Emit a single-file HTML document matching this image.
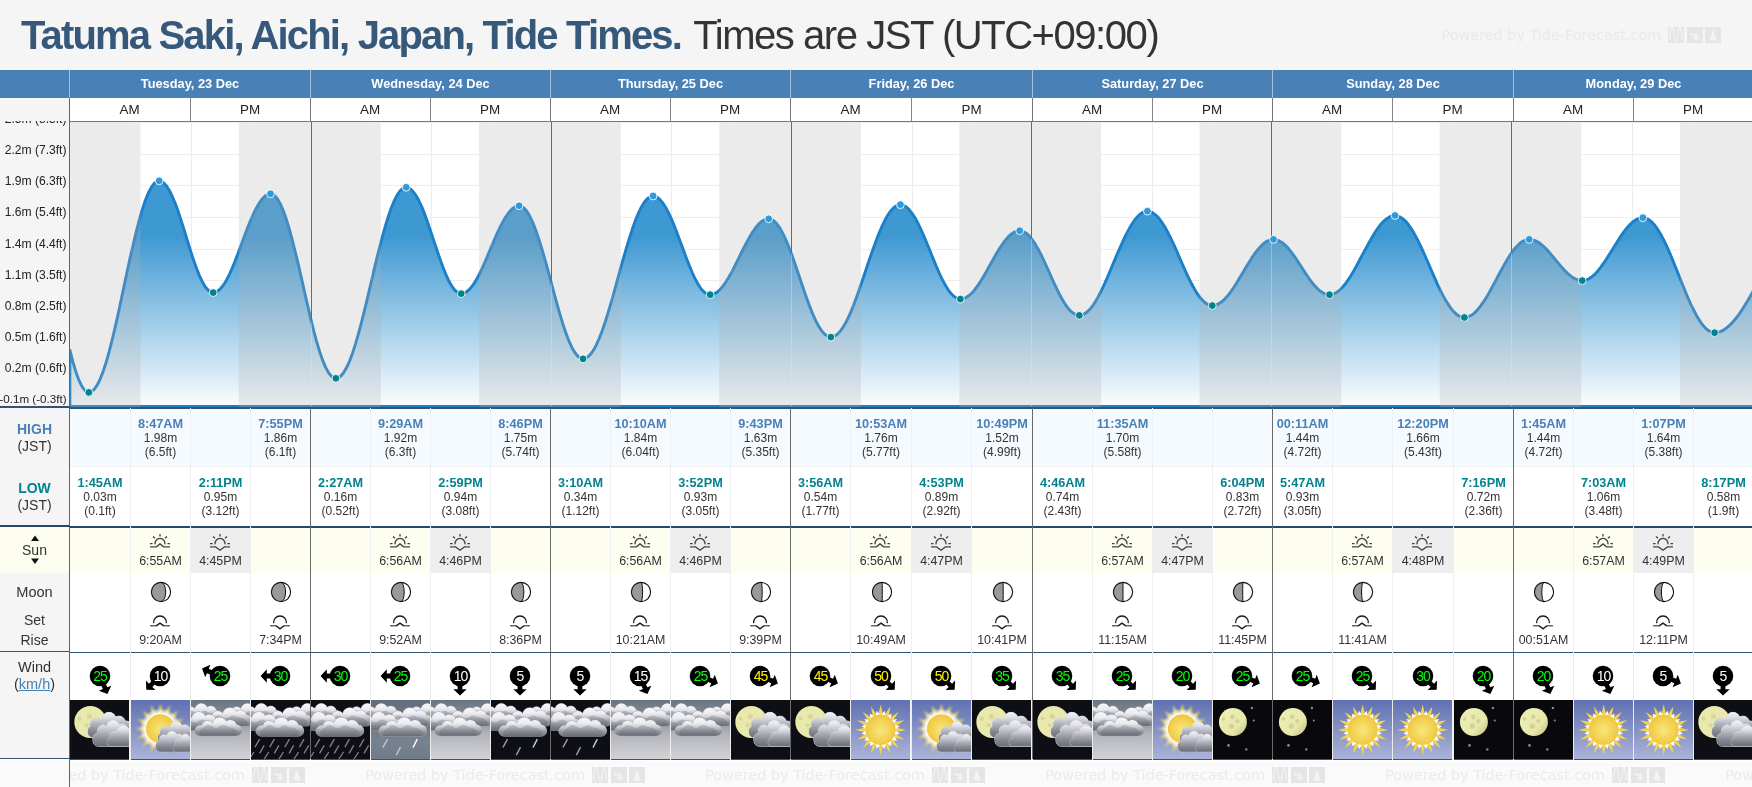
<!DOCTYPE html>
<html lang="en"><head><meta charset="utf-8"><title>Tatuma Saki, Aichi, Japan, Tide Times</title>
<style>
html,body{margin:0;padding:0}
body{width:1752px;height:787px;overflow:hidden;background:#f5f5f5;font-family:"Liberation Sans",sans-serif;color:#333;position:relative}
.abs{position:absolute}
#root{position:absolute;left:0;top:0;width:1752px;height:787px;overflow:hidden;will-change:transform}
h1{position:absolute;left:21px;top:12px;margin:0;font-size:40px;line-height:46px;font-weight:bold;color:#36597b;white-space:nowrap;letter-spacing:-1.84px}
h1 span{font-weight:normal;color:#333;letter-spacing:-1.45px;margin-left:3px}
.wm{position:absolute;font-family:"DejaVu Sans",sans-serif;font-size:14.4px;line-height:18px;color:#e9e9e9;white-space:nowrap}
.hdr{position:absolute;left:0;top:70px;width:1752px;height:28px;background:#4981b6}
.day{position:absolute;top:0;height:28px;line-height:27px;text-align:center;color:#fff;font-weight:bold;font-size:12.8px}
.vl{position:absolute;width:1px}
.ampm{position:absolute;top:98px;height:23px;line-height:24px;text-indent:-1px;text-align:center;background:#fff;font-size:13.4px;color:#222}
.yl{position:absolute;right:2.5px;text-align:right;font-size:12.1px;line-height:14px;color:#222;white-space:nowrap}
.cell{position:absolute;text-align:center;font-size:12px;line-height:14px;color:#333;white-space:nowrap}
.cell b{display:block;font-size:12.7px}
.hi b{color:#4a80b8}
.lo b{color:#00838f}
.lab{position:absolute;left:0;width:69px;text-align:center;font-size:14px;line-height:17px;color:#333}
.lab b{display:block;font-size:14px}
.st{position:absolute;text-align:center;font-size:12.4px;line-height:14px;color:#333;white-space:nowrap}
.wt{position:absolute;width:24px;text-align:center;font-size:14px;line-height:14px;letter-spacing:-1.1px;font-family:"Liberation Sans",sans-serif}
a{color:#4682b4}
</style></head><body><div id="root">
<h1>Tatuma Saki, Aichi, Japan, Tide Times. <span>Times are JST (UTC+09:00)</span></h1>
<div class="wm" style="left:1441.5px;top:26px">Powered by Tide-Forecast.com<svg width="16" height="16" viewBox="0 0 16 16" style="vertical-align:-3px;margin-left:7px"><rect width="16" height="16" fill="#e5e5e5"/><path d="M1.5 13 C3 -4 5 -4 6.5 8 C7.5 17 9 17 10 8 C11 -3 13 -3 14.5 13" fill="none" stroke="#f3f3f3" stroke-width="1.3"/></svg><svg width="16" height="16" viewBox="0 0 16 16" style="vertical-align:-3px;margin-left:2.6px"><rect width="16" height="16" fill="#e5e5e5"/><path d="M3 6.5 H10.5 V10 H13 L9.2 13.6 L5.4 10 H8 V8.6 H3 Z" fill="#f3f3f3"/></svg><svg width="16" height="16" viewBox="0 0 16 16" style="vertical-align:-3px;margin-left:2.6px"><rect width="16" height="16" fill="#e5e5e5"/><path d="M8 2.5 L11.8 13.5 H4.2 Z" fill="#f3f3f3"/></svg></div>
<div class="hdr"><div class="day" style="left:70px;width:240px">Tuesday, 23 Dec</div><div class="day" style="left:311px;width:239px">Wednesday, 24 Dec</div><div class="day" style="left:551px;width:239px">Thursday, 25 Dec</div><div class="day" style="left:791px;width:241px">Friday, 26 Dec</div><div class="day" style="left:1033px;width:239px">Saturday, 27 Dec</div><div class="day" style="left:1273px;width:240px">Sunday, 28 Dec</div><div class="day" style="left:1514px;width:239px">Monday, 29 Dec</div><div class="vl" style="left:69px;top:0;height:28px;background:#a3c0dc"></div><div class="vl" style="left:310px;top:0;height:28px;background:#a3c0dc"></div><div class="vl" style="left:550px;top:0;height:28px;background:#a3c0dc"></div><div class="vl" style="left:790px;top:0;height:28px;background:#a3c0dc"></div><div class="vl" style="left:1032px;top:0;height:28px;background:#a3c0dc"></div><div class="vl" style="left:1272px;top:0;height:28px;background:#a3c0dc"></div><div class="vl" style="left:1513px;top:0;height:28px;background:#a3c0dc"></div></div>
<div class="ampm" style="left:70px;width:120px">AM</div><div class="ampm" style="left:191px;width:119px">PM</div><div class="ampm" style="left:311px;width:119px">AM</div><div class="ampm" style="left:431px;width:119px">PM</div><div class="ampm" style="left:551px;width:119px">AM</div><div class="ampm" style="left:671px;width:119px">PM</div><div class="ampm" style="left:791px;width:120px">AM</div><div class="ampm" style="left:912px;width:120px">PM</div><div class="ampm" style="left:1033px;width:119px">AM</div><div class="ampm" style="left:1153px;width:119px">PM</div><div class="ampm" style="left:1273px;width:119px">AM</div><div class="ampm" style="left:1393px;width:120px">PM</div><div class="ampm" style="left:1514px;width:119px">AM</div><div class="ampm" style="left:1634px;width:119px">PM</div><div class="vl" style="left:69px;top:98px;height:23px;background:#6d7780"></div><div class="vl" style="left:190px;top:98px;height:23px;background:#7d8790"></div><div class="vl" style="left:310px;top:98px;height:23px;background:#6d7780"></div><div class="vl" style="left:430px;top:98px;height:23px;background:#7d8790"></div><div class="vl" style="left:550px;top:98px;height:23px;background:#6d7780"></div><div class="vl" style="left:670px;top:98px;height:23px;background:#7d8790"></div><div class="vl" style="left:790px;top:98px;height:23px;background:#6d7780"></div><div class="vl" style="left:911px;top:98px;height:23px;background:#7d8790"></div><div class="vl" style="left:1032px;top:98px;height:23px;background:#6d7780"></div><div class="vl" style="left:1152px;top:98px;height:23px;background:#7d8790"></div><div class="vl" style="left:1272px;top:98px;height:23px;background:#6d7780"></div><div class="vl" style="left:1392px;top:98px;height:23px;background:#7d8790"></div><div class="vl" style="left:1513px;top:98px;height:23px;background:#6d7780"></div><div class="vl" style="left:1633px;top:98px;height:23px;background:#7d8790"></div><div class="abs" style="left:70px;top:121px;width:1682px;height:1px;background:#777"></div>
<div class="abs" style="left:0;top:121px;width:69px;height:285px;overflow:hidden"><div class="yl" style="top:-9.1px">2.5m (8.3ft)</div><div class="yl" style="top:22.1px">2.2m (7.3ft)</div><div class="yl" style="top:53.2px">1.9m (6.3ft)</div><div class="yl" style="top:84.3px">1.6m (5.4ft)</div><div class="yl" style="top:115.5px">1.4m (4.4ft)</div><div class="yl" style="top:146.6px">1.1m (3.5ft)</div><div class="yl" style="top:177.8px">0.8m (2.5ft)</div><div class="yl" style="top:208.9px">0.5m (1.6ft)</div><div class="yl" style="top:240.1px">0.2m (0.6ft)</div><div class="yl" style="top:271.2px;font-size:11.6px">-0.1m (-0.3ft)</div></div>
<svg class="abs" style="left:0;top:0" width="1752" height="787" viewBox="0 0 1752 787"><defs><linearGradient id="tg" gradientUnits="userSpaceOnUse" x1="0" y1="122" x2="0" y2="406"><stop offset="0" stop-color="#3e98d2"/><stop offset="0.40" stop-color="#3e98d2"/><stop offset="1" stop-color="#fbfdfe"/></linearGradient><clipPath id="cc"><rect x="70" y="122" width="1682" height="285"/></clipPath></defs><rect x="70" y="122" width="1682" height="285" fill="#fff"/><g clip-path="url(#cc)"><clipPath id="dz"><rect x="140.5" y="122" width="98.4" height="285"/><rect x="380.7" y="122" width="98.4" height="285"/><rect x="620.8" y="122" width="98.4" height="285"/><rect x="860.9" y="122" width="98.5" height="285"/><rect x="1101.1" y="122" width="98.4" height="285"/><rect x="1341.2" y="122" width="98.5" height="285"/><rect x="1581.2" y="122" width="98.7" height="285"/></clipPath><g clip-path="url(#dz)"><rect x="70" y="122" width="1682" height="1" fill="#eeeeee"/><rect x="70" y="154" width="1682" height="1" fill="#eeeeee"/><rect x="70" y="185" width="1682" height="1" fill="#eeeeee"/><rect x="70" y="217" width="1682" height="1" fill="#eeeeee"/><rect x="70" y="249" width="1682" height="1" fill="#eeeeee"/><rect x="70" y="280" width="1682" height="1" fill="#eeeeee"/><rect x="70" y="312" width="1682" height="1" fill="#eeeeee"/><rect x="70" y="344" width="1682" height="1" fill="#eeeeee"/><rect x="70" y="375" width="1682" height="1" fill="#eeeeee"/><rect x="70" y="407" width="1682" height="1" fill="#eeeeee"/></g><rect x="191" y="122" width="1" height="285" fill="#ececec"/><rect x="431" y="122" width="1" height="285" fill="#ececec"/><rect x="671" y="122" width="1" height="285" fill="#ececec"/><rect x="912" y="122" width="1" height="285" fill="#ececec"/><rect x="1152" y="122" width="1" height="285" fill="#ececec"/><rect x="1392" y="122" width="1" height="285" fill="#ececec"/><rect x="1632" y="122" width="1" height="285" fill="#ececec"/><path d="M69.9 406.45 L69.9 350.1 L72.9 361.8 L75.9 371.9 L78.9 380.2 L81.9 386.4 L84.9 390.5 L87.9 392.3 L91.0 391.9 L94.0 389.6 L97.0 385.4 L100.0 379.5 L103.0 371.9 L106.0 362.8 L109.0 352.2 L112.0 340.5 L115.0 327.9 L118.0 314.5 L121.0 300.5 L124.0 286.4 L127.0 272.2 L130.0 258.3 L133.1 244.9 L136.1 232.3 L139.1 220.6 L142.1 210.1 L145.1 201.0 L148.1 193.5 L151.1 187.6 L154.1 183.5 L157.1 181.3 L160.1 180.9 L163.1 182.3 L166.1 185.4 L169.1 190.0 L172.1 196.0 L175.2 203.3 L178.2 211.6 L181.2 220.7 L184.2 230.2 L187.2 240.0 L190.2 249.7 L193.2 258.9 L196.2 267.5 L199.2 275.1 L202.2 281.6 L205.2 286.7 L208.2 290.3 L211.2 292.2 L214.3 292.5 L217.3 291.3 L220.3 288.9 L223.3 285.2 L226.3 280.4 L229.3 274.6 L232.3 267.9 L235.3 260.5 L238.3 252.7 L241.3 244.6 L244.3 236.5 L247.3 228.6 L250.3 221.1 L253.3 214.1 L256.4 208.0 L259.4 202.8 L262.4 198.7 L265.4 195.8 L268.4 194.2 L271.4 193.9 L274.4 195.4 L277.4 198.8 L280.4 204.1 L283.4 211.0 L286.4 219.5 L289.4 229.4 L292.4 240.5 L295.4 252.5 L298.5 265.2 L301.5 278.4 L304.5 291.7 L307.5 304.9 L310.5 317.7 L313.5 329.9 L316.5 341.1 L319.5 351.2 L322.5 359.9 L325.5 367.1 L328.5 372.6 L331.5 376.3 L334.5 378.1 L337.6 378.0 L340.6 376.2 L343.6 372.7 L346.6 367.6 L349.6 361.0 L352.6 352.9 L355.6 343.6 L358.6 333.2 L361.6 321.9 L364.6 309.9 L367.6 297.4 L370.6 284.6 L373.6 271.8 L376.6 259.2 L379.7 247.0 L382.7 235.5 L385.7 224.8 L388.7 215.2 L391.7 206.8 L394.7 199.7 L397.7 194.2 L400.7 190.2 L403.7 187.9 L406.7 187.4 L409.7 188.4 L412.7 191.0 L415.7 195.0 L418.7 200.3 L421.8 206.9 L424.8 214.4 L427.8 222.7 L430.8 231.6 L433.8 240.6 L436.8 249.7 L439.8 258.5 L442.8 266.8 L445.8 274.3 L448.8 280.8 L451.8 286.2 L454.8 290.1 L457.8 292.7 L460.9 293.6 L463.9 293.2 L466.9 291.6 L469.9 288.9 L472.9 285.2 L475.9 280.5 L478.9 275.0 L481.9 268.8 L484.9 262.1 L487.9 255.1 L490.9 247.9 L493.9 240.8 L496.9 233.9 L499.9 227.5 L503.0 221.6 L506.0 216.5 L509.0 212.3 L512.0 209.0 L515.0 206.9 L518.0 205.9 L521.0 206.1 L524.0 208.0 L527.0 211.5 L530.0 216.5 L533.0 223.0 L536.0 230.7 L539.0 239.6 L542.0 249.4 L545.1 259.9 L548.1 270.9 L551.1 282.1 L554.1 293.4 L557.1 304.4 L560.1 314.9 L563.1 324.7 L566.1 333.6 L569.1 341.4 L572.1 347.9 L575.1 353.0 L578.1 356.5 L581.1 358.4 L584.2 358.7 L587.2 357.4 L590.2 354.7 L593.2 350.6 L596.2 345.2 L599.2 338.5 L602.2 330.7 L605.2 322.0 L608.2 312.4 L611.2 302.2 L614.2 291.6 L617.2 280.6 L620.2 269.7 L623.2 258.9 L626.3 248.4 L629.3 238.4 L632.3 229.1 L635.3 220.8 L638.3 213.4 L641.3 207.2 L644.3 202.3 L647.3 198.8 L650.3 196.7 L653.3 196.0 L656.3 196.8 L659.3 198.9 L662.3 202.2 L665.3 206.8 L668.4 212.4 L671.4 218.9 L674.4 226.1 L677.4 233.9 L680.4 242.0 L683.4 250.1 L686.4 258.2 L689.4 265.9 L692.4 273.0 L695.4 279.4 L698.4 284.8 L701.4 289.2 L704.4 292.3 L707.5 294.2 L710.5 294.7 L713.5 294.1 L716.5 292.6 L719.5 290.1 L722.5 286.7 L725.5 282.6 L728.5 277.8 L731.5 272.4 L734.5 266.6 L737.5 260.6 L740.5 254.5 L743.5 248.4 L746.5 242.6 L749.6 237.1 L752.6 232.1 L755.6 227.8 L758.6 224.2 L761.6 221.5 L764.6 219.7 L767.6 218.9 L770.6 219.1 L773.6 220.6 L776.6 223.5 L779.6 227.6 L782.6 232.9 L785.6 239.2 L788.6 246.4 L791.7 254.4 L794.7 262.9 L797.7 271.7 L800.7 280.7 L803.7 289.6 L806.7 298.2 L809.7 306.4 L812.7 313.9 L815.7 320.6 L818.7 326.3 L821.7 330.9 L824.7 334.3 L827.7 336.3 L830.8 337.1 L833.8 336.5 L836.8 334.7 L839.8 331.8 L842.8 327.7 L845.8 322.6 L848.8 316.5 L851.8 309.6 L854.8 301.9 L857.8 293.7 L860.8 285.1 L863.8 276.2 L866.8 267.2 L869.8 258.3 L872.9 249.6 L875.9 241.3 L878.9 233.6 L881.9 226.5 L884.9 220.3 L887.9 214.9 L890.9 210.7 L893.9 207.5 L896.9 205.5 L899.9 204.7 L902.9 205.1 L905.9 206.7 L908.9 209.4 L911.9 213.1 L915.0 217.8 L918.0 223.3 L921.0 229.6 L924.0 236.4 L927.0 243.5 L930.0 250.9 L933.0 258.3 L936.0 265.6 L939.0 272.5 L942.0 278.9 L945.0 284.6 L948.0 289.6 L951.0 293.5 L954.1 296.5 L957.1 298.4 L960.1 299.1 L963.1 298.7 L966.1 297.5 L969.1 295.5 L972.1 292.7 L975.1 289.2 L978.1 285.1 L981.1 280.5 L984.1 275.5 L987.1 270.2 L990.1 264.8 L993.1 259.4 L996.2 254.1 L999.2 249.1 L1002.2 244.5 L1005.2 240.4 L1008.2 236.9 L1011.2 234.2 L1014.2 232.2 L1017.2 231.0 L1020.2 230.7 L1023.2 231.4 L1026.2 233.2 L1029.2 235.9 L1032.2 239.6 L1035.3 244.1 L1038.3 249.4 L1041.3 255.2 L1044.3 261.5 L1047.3 268.1 L1050.3 274.8 L1053.3 281.5 L1056.3 287.9 L1059.3 294.0 L1062.3 299.5 L1065.3 304.4 L1068.3 308.5 L1071.3 311.7 L1074.3 313.9 L1077.4 315.1 L1080.4 315.3 L1083.4 314.4 L1086.4 312.6 L1089.4 309.8 L1092.4 306.1 L1095.4 301.6 L1098.4 296.4 L1101.4 290.5 L1104.4 284.1 L1107.4 277.3 L1110.4 270.3 L1113.4 263.1 L1116.4 255.9 L1119.5 248.8 L1122.5 242.1 L1125.5 235.7 L1128.5 229.9 L1131.5 224.7 L1134.5 220.2 L1137.5 216.6 L1140.5 213.8 L1143.5 212.1 L1146.5 211.2 L1149.5 211.4 L1152.5 212.6 L1155.5 214.8 L1158.6 217.9 L1161.6 221.8 L1164.6 226.5 L1167.6 231.9 L1170.6 237.9 L1173.6 244.2 L1176.6 250.9 L1179.6 257.8 L1182.6 264.6 L1185.6 271.4 L1188.6 277.8 L1191.6 283.8 L1194.6 289.3 L1197.6 294.2 L1200.7 298.3 L1203.7 301.5 L1206.7 303.8 L1209.7 305.2 L1212.7 305.6 L1215.7 305.1 L1218.7 303.8 L1221.7 301.8 L1224.7 299.1 L1227.7 295.8 L1230.7 291.9 L1233.7 287.5 L1236.7 282.8 L1239.7 277.8 L1242.8 272.7 L1245.8 267.6 L1248.8 262.7 L1251.8 257.9 L1254.8 253.5 L1257.8 249.6 L1260.8 246.2 L1263.8 243.4 L1266.8 241.3 L1269.8 240.0 L1272.8 239.4 L1275.8 239.7 L1278.8 240.7 L1281.9 242.4 L1284.9 244.9 L1287.9 247.9 L1290.9 251.6 L1293.9 255.6 L1296.9 260.0 L1299.9 264.6 L1302.9 269.3 L1305.9 273.9 L1308.9 278.3 L1311.9 282.4 L1314.9 286.0 L1317.9 289.1 L1320.9 291.6 L1324.0 293.4 L1327.0 294.5 L1330.0 294.7 L1333.0 294.2 L1336.0 292.8 L1339.0 290.7 L1342.0 287.8 L1345.0 284.3 L1348.0 280.1 L1351.0 275.5 L1354.0 270.4 L1357.0 265.0 L1360.0 259.3 L1363.0 253.6 L1366.1 248.0 L1369.1 242.5 L1372.1 237.2 L1375.1 232.3 L1378.1 227.9 L1381.1 224.0 L1384.1 220.8 L1387.1 218.4 L1390.1 216.6 L1393.1 215.7 L1396.1 215.6 L1399.1 216.4 L1402.1 218.2 L1405.2 220.8 L1408.2 224.3 L1411.2 228.6 L1414.2 233.6 L1417.2 239.1 L1420.2 245.2 L1423.2 251.7 L1426.2 258.5 L1429.2 265.4 L1432.2 272.3 L1435.2 279.2 L1438.2 285.8 L1441.2 292.0 L1444.2 297.8 L1447.3 302.9 L1450.3 307.5 L1453.3 311.2 L1456.3 314.1 L1459.3 316.2 L1462.3 317.3 L1465.3 317.5 L1468.3 316.8 L1471.3 315.3 L1474.3 313.1 L1477.3 310.1 L1480.3 306.4 L1483.3 302.2 L1486.3 297.4 L1489.4 292.3 L1492.4 286.8 L1495.4 281.2 L1498.4 275.5 L1501.4 269.9 L1504.4 264.4 L1507.4 259.3 L1510.4 254.5 L1513.4 250.3 L1516.4 246.7 L1519.4 243.7 L1522.4 241.5 L1525.4 240.1 L1528.5 239.4 L1531.5 239.6 L1534.5 240.4 L1537.5 241.8 L1540.5 243.8 L1543.5 246.3 L1546.5 249.3 L1549.5 252.6 L1552.5 256.1 L1555.5 259.8 L1558.5 263.4 L1561.5 267.0 L1564.5 270.3 L1567.5 273.3 L1570.6 275.9 L1573.6 278.0 L1576.6 279.5 L1579.6 280.4 L1582.6 280.6 L1585.6 280.2 L1588.6 279.0 L1591.6 277.0 L1594.6 274.4 L1597.6 271.2 L1600.6 267.4 L1603.6 263.2 L1606.6 258.7 L1609.6 253.9 L1612.7 249.1 L1615.7 244.2 L1618.7 239.4 L1621.7 234.9 L1624.7 230.7 L1627.7 227.0 L1630.7 223.8 L1633.7 221.2 L1636.7 219.3 L1639.7 218.1 L1642.7 217.7 L1645.7 218.1 L1648.7 219.6 L1651.8 222.0 L1654.8 225.3 L1657.8 229.4 L1660.8 234.4 L1663.8 240.1 L1666.8 246.4 L1669.8 253.2 L1672.8 260.4 L1675.8 267.8 L1678.8 275.3 L1681.8 282.9 L1684.8 290.3 L1687.8 297.5 L1690.8 304.2 L1693.9 310.5 L1696.9 316.2 L1699.9 321.1 L1702.9 325.3 L1705.9 328.6 L1708.9 330.9 L1711.9 332.3 L1714.9 332.7 L1717.9 332.4 L1720.9 331.4 L1723.9 329.9 L1726.9 327.7 L1729.9 325.1 L1732.9 321.9 L1736.0 318.3 L1739.0 314.3 L1742.0 309.9 L1745.0 305.1 L1748.0 300.2 L1751.0 295.0 L1754.0 289.7 L1754 406.45 Z" fill="url(#tg)" stroke="#1c80c8" stroke-width="2.9" stroke-linejoin="round"/><rect x="70.0" y="122" width="70.5" height="285" fill="#afafaf" fill-opacity="0.25"/><rect x="238.8" y="122" width="141.9" height="285" fill="#afafaf" fill-opacity="0.25"/><rect x="479.1" y="122" width="141.7" height="285" fill="#afafaf" fill-opacity="0.25"/><rect x="719.2" y="122" width="141.7" height="285" fill="#afafaf" fill-opacity="0.25"/><rect x="959.4" y="122" width="141.7" height="285" fill="#afafaf" fill-opacity="0.25"/><rect x="1199.5" y="122" width="141.7" height="285" fill="#afafaf" fill-opacity="0.25"/><rect x="1439.7" y="122" width="141.5" height="285" fill="#afafaf" fill-opacity="0.25"/><rect x="1679.9" y="122" width="72.1" height="285" fill="#afafaf" fill-opacity="0.25"/><clipPath id="fp"><path d="M69.9 406.45 L69.9 350.1 L72.9 361.8 L75.9 371.9 L78.9 380.2 L81.9 386.4 L84.9 390.5 L87.9 392.3 L91.0 391.9 L94.0 389.6 L97.0 385.4 L100.0 379.5 L103.0 371.9 L106.0 362.8 L109.0 352.2 L112.0 340.5 L115.0 327.9 L118.0 314.5 L121.0 300.5 L124.0 286.4 L127.0 272.2 L130.0 258.3 L133.1 244.9 L136.1 232.3 L139.1 220.6 L142.1 210.1 L145.1 201.0 L148.1 193.5 L151.1 187.6 L154.1 183.5 L157.1 181.3 L160.1 180.9 L163.1 182.3 L166.1 185.4 L169.1 190.0 L172.1 196.0 L175.2 203.3 L178.2 211.6 L181.2 220.7 L184.2 230.2 L187.2 240.0 L190.2 249.7 L193.2 258.9 L196.2 267.5 L199.2 275.1 L202.2 281.6 L205.2 286.7 L208.2 290.3 L211.2 292.2 L214.3 292.5 L217.3 291.3 L220.3 288.9 L223.3 285.2 L226.3 280.4 L229.3 274.6 L232.3 267.9 L235.3 260.5 L238.3 252.7 L241.3 244.6 L244.3 236.5 L247.3 228.6 L250.3 221.1 L253.3 214.1 L256.4 208.0 L259.4 202.8 L262.4 198.7 L265.4 195.8 L268.4 194.2 L271.4 193.9 L274.4 195.4 L277.4 198.8 L280.4 204.1 L283.4 211.0 L286.4 219.5 L289.4 229.4 L292.4 240.5 L295.4 252.5 L298.5 265.2 L301.5 278.4 L304.5 291.7 L307.5 304.9 L310.5 317.7 L313.5 329.9 L316.5 341.1 L319.5 351.2 L322.5 359.9 L325.5 367.1 L328.5 372.6 L331.5 376.3 L334.5 378.1 L337.6 378.0 L340.6 376.2 L343.6 372.7 L346.6 367.6 L349.6 361.0 L352.6 352.9 L355.6 343.6 L358.6 333.2 L361.6 321.9 L364.6 309.9 L367.6 297.4 L370.6 284.6 L373.6 271.8 L376.6 259.2 L379.7 247.0 L382.7 235.5 L385.7 224.8 L388.7 215.2 L391.7 206.8 L394.7 199.7 L397.7 194.2 L400.7 190.2 L403.7 187.9 L406.7 187.4 L409.7 188.4 L412.7 191.0 L415.7 195.0 L418.7 200.3 L421.8 206.9 L424.8 214.4 L427.8 222.7 L430.8 231.6 L433.8 240.6 L436.8 249.7 L439.8 258.5 L442.8 266.8 L445.8 274.3 L448.8 280.8 L451.8 286.2 L454.8 290.1 L457.8 292.7 L460.9 293.6 L463.9 293.2 L466.9 291.6 L469.9 288.9 L472.9 285.2 L475.9 280.5 L478.9 275.0 L481.9 268.8 L484.9 262.1 L487.9 255.1 L490.9 247.9 L493.9 240.8 L496.9 233.9 L499.9 227.5 L503.0 221.6 L506.0 216.5 L509.0 212.3 L512.0 209.0 L515.0 206.9 L518.0 205.9 L521.0 206.1 L524.0 208.0 L527.0 211.5 L530.0 216.5 L533.0 223.0 L536.0 230.7 L539.0 239.6 L542.0 249.4 L545.1 259.9 L548.1 270.9 L551.1 282.1 L554.1 293.4 L557.1 304.4 L560.1 314.9 L563.1 324.7 L566.1 333.6 L569.1 341.4 L572.1 347.9 L575.1 353.0 L578.1 356.5 L581.1 358.4 L584.2 358.7 L587.2 357.4 L590.2 354.7 L593.2 350.6 L596.2 345.2 L599.2 338.5 L602.2 330.7 L605.2 322.0 L608.2 312.4 L611.2 302.2 L614.2 291.6 L617.2 280.6 L620.2 269.7 L623.2 258.9 L626.3 248.4 L629.3 238.4 L632.3 229.1 L635.3 220.8 L638.3 213.4 L641.3 207.2 L644.3 202.3 L647.3 198.8 L650.3 196.7 L653.3 196.0 L656.3 196.8 L659.3 198.9 L662.3 202.2 L665.3 206.8 L668.4 212.4 L671.4 218.9 L674.4 226.1 L677.4 233.9 L680.4 242.0 L683.4 250.1 L686.4 258.2 L689.4 265.9 L692.4 273.0 L695.4 279.4 L698.4 284.8 L701.4 289.2 L704.4 292.3 L707.5 294.2 L710.5 294.7 L713.5 294.1 L716.5 292.6 L719.5 290.1 L722.5 286.7 L725.5 282.6 L728.5 277.8 L731.5 272.4 L734.5 266.6 L737.5 260.6 L740.5 254.5 L743.5 248.4 L746.5 242.6 L749.6 237.1 L752.6 232.1 L755.6 227.8 L758.6 224.2 L761.6 221.5 L764.6 219.7 L767.6 218.9 L770.6 219.1 L773.6 220.6 L776.6 223.5 L779.6 227.6 L782.6 232.9 L785.6 239.2 L788.6 246.4 L791.7 254.4 L794.7 262.9 L797.7 271.7 L800.7 280.7 L803.7 289.6 L806.7 298.2 L809.7 306.4 L812.7 313.9 L815.7 320.6 L818.7 326.3 L821.7 330.9 L824.7 334.3 L827.7 336.3 L830.8 337.1 L833.8 336.5 L836.8 334.7 L839.8 331.8 L842.8 327.7 L845.8 322.6 L848.8 316.5 L851.8 309.6 L854.8 301.9 L857.8 293.7 L860.8 285.1 L863.8 276.2 L866.8 267.2 L869.8 258.3 L872.9 249.6 L875.9 241.3 L878.9 233.6 L881.9 226.5 L884.9 220.3 L887.9 214.9 L890.9 210.7 L893.9 207.5 L896.9 205.5 L899.9 204.7 L902.9 205.1 L905.9 206.7 L908.9 209.4 L911.9 213.1 L915.0 217.8 L918.0 223.3 L921.0 229.6 L924.0 236.4 L927.0 243.5 L930.0 250.9 L933.0 258.3 L936.0 265.6 L939.0 272.5 L942.0 278.9 L945.0 284.6 L948.0 289.6 L951.0 293.5 L954.1 296.5 L957.1 298.4 L960.1 299.1 L963.1 298.7 L966.1 297.5 L969.1 295.5 L972.1 292.7 L975.1 289.2 L978.1 285.1 L981.1 280.5 L984.1 275.5 L987.1 270.2 L990.1 264.8 L993.1 259.4 L996.2 254.1 L999.2 249.1 L1002.2 244.5 L1005.2 240.4 L1008.2 236.9 L1011.2 234.2 L1014.2 232.2 L1017.2 231.0 L1020.2 230.7 L1023.2 231.4 L1026.2 233.2 L1029.2 235.9 L1032.2 239.6 L1035.3 244.1 L1038.3 249.4 L1041.3 255.2 L1044.3 261.5 L1047.3 268.1 L1050.3 274.8 L1053.3 281.5 L1056.3 287.9 L1059.3 294.0 L1062.3 299.5 L1065.3 304.4 L1068.3 308.5 L1071.3 311.7 L1074.3 313.9 L1077.4 315.1 L1080.4 315.3 L1083.4 314.4 L1086.4 312.6 L1089.4 309.8 L1092.4 306.1 L1095.4 301.6 L1098.4 296.4 L1101.4 290.5 L1104.4 284.1 L1107.4 277.3 L1110.4 270.3 L1113.4 263.1 L1116.4 255.9 L1119.5 248.8 L1122.5 242.1 L1125.5 235.7 L1128.5 229.9 L1131.5 224.7 L1134.5 220.2 L1137.5 216.6 L1140.5 213.8 L1143.5 212.1 L1146.5 211.2 L1149.5 211.4 L1152.5 212.6 L1155.5 214.8 L1158.6 217.9 L1161.6 221.8 L1164.6 226.5 L1167.6 231.9 L1170.6 237.9 L1173.6 244.2 L1176.6 250.9 L1179.6 257.8 L1182.6 264.6 L1185.6 271.4 L1188.6 277.8 L1191.6 283.8 L1194.6 289.3 L1197.6 294.2 L1200.7 298.3 L1203.7 301.5 L1206.7 303.8 L1209.7 305.2 L1212.7 305.6 L1215.7 305.1 L1218.7 303.8 L1221.7 301.8 L1224.7 299.1 L1227.7 295.8 L1230.7 291.9 L1233.7 287.5 L1236.7 282.8 L1239.7 277.8 L1242.8 272.7 L1245.8 267.6 L1248.8 262.7 L1251.8 257.9 L1254.8 253.5 L1257.8 249.6 L1260.8 246.2 L1263.8 243.4 L1266.8 241.3 L1269.8 240.0 L1272.8 239.4 L1275.8 239.7 L1278.8 240.7 L1281.9 242.4 L1284.9 244.9 L1287.9 247.9 L1290.9 251.6 L1293.9 255.6 L1296.9 260.0 L1299.9 264.6 L1302.9 269.3 L1305.9 273.9 L1308.9 278.3 L1311.9 282.4 L1314.9 286.0 L1317.9 289.1 L1320.9 291.6 L1324.0 293.4 L1327.0 294.5 L1330.0 294.7 L1333.0 294.2 L1336.0 292.8 L1339.0 290.7 L1342.0 287.8 L1345.0 284.3 L1348.0 280.1 L1351.0 275.5 L1354.0 270.4 L1357.0 265.0 L1360.0 259.3 L1363.0 253.6 L1366.1 248.0 L1369.1 242.5 L1372.1 237.2 L1375.1 232.3 L1378.1 227.9 L1381.1 224.0 L1384.1 220.8 L1387.1 218.4 L1390.1 216.6 L1393.1 215.7 L1396.1 215.6 L1399.1 216.4 L1402.1 218.2 L1405.2 220.8 L1408.2 224.3 L1411.2 228.6 L1414.2 233.6 L1417.2 239.1 L1420.2 245.2 L1423.2 251.7 L1426.2 258.5 L1429.2 265.4 L1432.2 272.3 L1435.2 279.2 L1438.2 285.8 L1441.2 292.0 L1444.2 297.8 L1447.3 302.9 L1450.3 307.5 L1453.3 311.2 L1456.3 314.1 L1459.3 316.2 L1462.3 317.3 L1465.3 317.5 L1468.3 316.8 L1471.3 315.3 L1474.3 313.1 L1477.3 310.1 L1480.3 306.4 L1483.3 302.2 L1486.3 297.4 L1489.4 292.3 L1492.4 286.8 L1495.4 281.2 L1498.4 275.5 L1501.4 269.9 L1504.4 264.4 L1507.4 259.3 L1510.4 254.5 L1513.4 250.3 L1516.4 246.7 L1519.4 243.7 L1522.4 241.5 L1525.4 240.1 L1528.5 239.4 L1531.5 239.6 L1534.5 240.4 L1537.5 241.8 L1540.5 243.8 L1543.5 246.3 L1546.5 249.3 L1549.5 252.6 L1552.5 256.1 L1555.5 259.8 L1558.5 263.4 L1561.5 267.0 L1564.5 270.3 L1567.5 273.3 L1570.6 275.9 L1573.6 278.0 L1576.6 279.5 L1579.6 280.4 L1582.6 280.6 L1585.6 280.2 L1588.6 279.0 L1591.6 277.0 L1594.6 274.4 L1597.6 271.2 L1600.6 267.4 L1603.6 263.2 L1606.6 258.7 L1609.6 253.9 L1612.7 249.1 L1615.7 244.2 L1618.7 239.4 L1621.7 234.9 L1624.7 230.7 L1627.7 227.0 L1630.7 223.8 L1633.7 221.2 L1636.7 219.3 L1639.7 218.1 L1642.7 217.7 L1645.7 218.1 L1648.7 219.6 L1651.8 222.0 L1654.8 225.3 L1657.8 229.4 L1660.8 234.4 L1663.8 240.1 L1666.8 246.4 L1669.8 253.2 L1672.8 260.4 L1675.8 267.8 L1678.8 275.3 L1681.8 282.9 L1684.8 290.3 L1687.8 297.5 L1690.8 304.2 L1693.9 310.5 L1696.9 316.2 L1699.9 321.1 L1702.9 325.3 L1705.9 328.6 L1708.9 330.9 L1711.9 332.3 L1714.9 332.7 L1717.9 332.4 L1720.9 331.4 L1723.9 329.9 L1726.9 327.7 L1729.9 325.1 L1732.9 321.9 L1736.0 318.3 L1739.0 314.3 L1742.0 309.9 L1745.0 305.1 L1748.0 300.2 L1751.0 295.0 L1754.0 289.7 L1754 406.45 Z"/></clipPath><clipPath id="nfp"><path clip-rule="evenodd" d="M70 122 H1752 V407 H70 Z M69.9 406.45 L69.9 350.1 L72.9 361.8 L75.9 371.9 L78.9 380.2 L81.9 386.4 L84.9 390.5 L87.9 392.3 L91.0 391.9 L94.0 389.6 L97.0 385.4 L100.0 379.5 L103.0 371.9 L106.0 362.8 L109.0 352.2 L112.0 340.5 L115.0 327.9 L118.0 314.5 L121.0 300.5 L124.0 286.4 L127.0 272.2 L130.0 258.3 L133.1 244.9 L136.1 232.3 L139.1 220.6 L142.1 210.1 L145.1 201.0 L148.1 193.5 L151.1 187.6 L154.1 183.5 L157.1 181.3 L160.1 180.9 L163.1 182.3 L166.1 185.4 L169.1 190.0 L172.1 196.0 L175.2 203.3 L178.2 211.6 L181.2 220.7 L184.2 230.2 L187.2 240.0 L190.2 249.7 L193.2 258.9 L196.2 267.5 L199.2 275.1 L202.2 281.6 L205.2 286.7 L208.2 290.3 L211.2 292.2 L214.3 292.5 L217.3 291.3 L220.3 288.9 L223.3 285.2 L226.3 280.4 L229.3 274.6 L232.3 267.9 L235.3 260.5 L238.3 252.7 L241.3 244.6 L244.3 236.5 L247.3 228.6 L250.3 221.1 L253.3 214.1 L256.4 208.0 L259.4 202.8 L262.4 198.7 L265.4 195.8 L268.4 194.2 L271.4 193.9 L274.4 195.4 L277.4 198.8 L280.4 204.1 L283.4 211.0 L286.4 219.5 L289.4 229.4 L292.4 240.5 L295.4 252.5 L298.5 265.2 L301.5 278.4 L304.5 291.7 L307.5 304.9 L310.5 317.7 L313.5 329.9 L316.5 341.1 L319.5 351.2 L322.5 359.9 L325.5 367.1 L328.5 372.6 L331.5 376.3 L334.5 378.1 L337.6 378.0 L340.6 376.2 L343.6 372.7 L346.6 367.6 L349.6 361.0 L352.6 352.9 L355.6 343.6 L358.6 333.2 L361.6 321.9 L364.6 309.9 L367.6 297.4 L370.6 284.6 L373.6 271.8 L376.6 259.2 L379.7 247.0 L382.7 235.5 L385.7 224.8 L388.7 215.2 L391.7 206.8 L394.7 199.7 L397.7 194.2 L400.7 190.2 L403.7 187.9 L406.7 187.4 L409.7 188.4 L412.7 191.0 L415.7 195.0 L418.7 200.3 L421.8 206.9 L424.8 214.4 L427.8 222.7 L430.8 231.6 L433.8 240.6 L436.8 249.7 L439.8 258.5 L442.8 266.8 L445.8 274.3 L448.8 280.8 L451.8 286.2 L454.8 290.1 L457.8 292.7 L460.9 293.6 L463.9 293.2 L466.9 291.6 L469.9 288.9 L472.9 285.2 L475.9 280.5 L478.9 275.0 L481.9 268.8 L484.9 262.1 L487.9 255.1 L490.9 247.9 L493.9 240.8 L496.9 233.9 L499.9 227.5 L503.0 221.6 L506.0 216.5 L509.0 212.3 L512.0 209.0 L515.0 206.9 L518.0 205.9 L521.0 206.1 L524.0 208.0 L527.0 211.5 L530.0 216.5 L533.0 223.0 L536.0 230.7 L539.0 239.6 L542.0 249.4 L545.1 259.9 L548.1 270.9 L551.1 282.1 L554.1 293.4 L557.1 304.4 L560.1 314.9 L563.1 324.7 L566.1 333.6 L569.1 341.4 L572.1 347.9 L575.1 353.0 L578.1 356.5 L581.1 358.4 L584.2 358.7 L587.2 357.4 L590.2 354.7 L593.2 350.6 L596.2 345.2 L599.2 338.5 L602.2 330.7 L605.2 322.0 L608.2 312.4 L611.2 302.2 L614.2 291.6 L617.2 280.6 L620.2 269.7 L623.2 258.9 L626.3 248.4 L629.3 238.4 L632.3 229.1 L635.3 220.8 L638.3 213.4 L641.3 207.2 L644.3 202.3 L647.3 198.8 L650.3 196.7 L653.3 196.0 L656.3 196.8 L659.3 198.9 L662.3 202.2 L665.3 206.8 L668.4 212.4 L671.4 218.9 L674.4 226.1 L677.4 233.9 L680.4 242.0 L683.4 250.1 L686.4 258.2 L689.4 265.9 L692.4 273.0 L695.4 279.4 L698.4 284.8 L701.4 289.2 L704.4 292.3 L707.5 294.2 L710.5 294.7 L713.5 294.1 L716.5 292.6 L719.5 290.1 L722.5 286.7 L725.5 282.6 L728.5 277.8 L731.5 272.4 L734.5 266.6 L737.5 260.6 L740.5 254.5 L743.5 248.4 L746.5 242.6 L749.6 237.1 L752.6 232.1 L755.6 227.8 L758.6 224.2 L761.6 221.5 L764.6 219.7 L767.6 218.9 L770.6 219.1 L773.6 220.6 L776.6 223.5 L779.6 227.6 L782.6 232.9 L785.6 239.2 L788.6 246.4 L791.7 254.4 L794.7 262.9 L797.7 271.7 L800.7 280.7 L803.7 289.6 L806.7 298.2 L809.7 306.4 L812.7 313.9 L815.7 320.6 L818.7 326.3 L821.7 330.9 L824.7 334.3 L827.7 336.3 L830.8 337.1 L833.8 336.5 L836.8 334.7 L839.8 331.8 L842.8 327.7 L845.8 322.6 L848.8 316.5 L851.8 309.6 L854.8 301.9 L857.8 293.7 L860.8 285.1 L863.8 276.2 L866.8 267.2 L869.8 258.3 L872.9 249.6 L875.9 241.3 L878.9 233.6 L881.9 226.5 L884.9 220.3 L887.9 214.9 L890.9 210.7 L893.9 207.5 L896.9 205.5 L899.9 204.7 L902.9 205.1 L905.9 206.7 L908.9 209.4 L911.9 213.1 L915.0 217.8 L918.0 223.3 L921.0 229.6 L924.0 236.4 L927.0 243.5 L930.0 250.9 L933.0 258.3 L936.0 265.6 L939.0 272.5 L942.0 278.9 L945.0 284.6 L948.0 289.6 L951.0 293.5 L954.1 296.5 L957.1 298.4 L960.1 299.1 L963.1 298.7 L966.1 297.5 L969.1 295.5 L972.1 292.7 L975.1 289.2 L978.1 285.1 L981.1 280.5 L984.1 275.5 L987.1 270.2 L990.1 264.8 L993.1 259.4 L996.2 254.1 L999.2 249.1 L1002.2 244.5 L1005.2 240.4 L1008.2 236.9 L1011.2 234.2 L1014.2 232.2 L1017.2 231.0 L1020.2 230.7 L1023.2 231.4 L1026.2 233.2 L1029.2 235.9 L1032.2 239.6 L1035.3 244.1 L1038.3 249.4 L1041.3 255.2 L1044.3 261.5 L1047.3 268.1 L1050.3 274.8 L1053.3 281.5 L1056.3 287.9 L1059.3 294.0 L1062.3 299.5 L1065.3 304.4 L1068.3 308.5 L1071.3 311.7 L1074.3 313.9 L1077.4 315.1 L1080.4 315.3 L1083.4 314.4 L1086.4 312.6 L1089.4 309.8 L1092.4 306.1 L1095.4 301.6 L1098.4 296.4 L1101.4 290.5 L1104.4 284.1 L1107.4 277.3 L1110.4 270.3 L1113.4 263.1 L1116.4 255.9 L1119.5 248.8 L1122.5 242.1 L1125.5 235.7 L1128.5 229.9 L1131.5 224.7 L1134.5 220.2 L1137.5 216.6 L1140.5 213.8 L1143.5 212.1 L1146.5 211.2 L1149.5 211.4 L1152.5 212.6 L1155.5 214.8 L1158.6 217.9 L1161.6 221.8 L1164.6 226.5 L1167.6 231.9 L1170.6 237.9 L1173.6 244.2 L1176.6 250.9 L1179.6 257.8 L1182.6 264.6 L1185.6 271.4 L1188.6 277.8 L1191.6 283.8 L1194.6 289.3 L1197.6 294.2 L1200.7 298.3 L1203.7 301.5 L1206.7 303.8 L1209.7 305.2 L1212.7 305.6 L1215.7 305.1 L1218.7 303.8 L1221.7 301.8 L1224.7 299.1 L1227.7 295.8 L1230.7 291.9 L1233.7 287.5 L1236.7 282.8 L1239.7 277.8 L1242.8 272.7 L1245.8 267.6 L1248.8 262.7 L1251.8 257.9 L1254.8 253.5 L1257.8 249.6 L1260.8 246.2 L1263.8 243.4 L1266.8 241.3 L1269.8 240.0 L1272.8 239.4 L1275.8 239.7 L1278.8 240.7 L1281.9 242.4 L1284.9 244.9 L1287.9 247.9 L1290.9 251.6 L1293.9 255.6 L1296.9 260.0 L1299.9 264.6 L1302.9 269.3 L1305.9 273.9 L1308.9 278.3 L1311.9 282.4 L1314.9 286.0 L1317.9 289.1 L1320.9 291.6 L1324.0 293.4 L1327.0 294.5 L1330.0 294.7 L1333.0 294.2 L1336.0 292.8 L1339.0 290.7 L1342.0 287.8 L1345.0 284.3 L1348.0 280.1 L1351.0 275.5 L1354.0 270.4 L1357.0 265.0 L1360.0 259.3 L1363.0 253.6 L1366.1 248.0 L1369.1 242.5 L1372.1 237.2 L1375.1 232.3 L1378.1 227.9 L1381.1 224.0 L1384.1 220.8 L1387.1 218.4 L1390.1 216.6 L1393.1 215.7 L1396.1 215.6 L1399.1 216.4 L1402.1 218.2 L1405.2 220.8 L1408.2 224.3 L1411.2 228.6 L1414.2 233.6 L1417.2 239.1 L1420.2 245.2 L1423.2 251.7 L1426.2 258.5 L1429.2 265.4 L1432.2 272.3 L1435.2 279.2 L1438.2 285.8 L1441.2 292.0 L1444.2 297.8 L1447.3 302.9 L1450.3 307.5 L1453.3 311.2 L1456.3 314.1 L1459.3 316.2 L1462.3 317.3 L1465.3 317.5 L1468.3 316.8 L1471.3 315.3 L1474.3 313.1 L1477.3 310.1 L1480.3 306.4 L1483.3 302.2 L1486.3 297.4 L1489.4 292.3 L1492.4 286.8 L1495.4 281.2 L1498.4 275.5 L1501.4 269.9 L1504.4 264.4 L1507.4 259.3 L1510.4 254.5 L1513.4 250.3 L1516.4 246.7 L1519.4 243.7 L1522.4 241.5 L1525.4 240.1 L1528.5 239.4 L1531.5 239.6 L1534.5 240.4 L1537.5 241.8 L1540.5 243.8 L1543.5 246.3 L1546.5 249.3 L1549.5 252.6 L1552.5 256.1 L1555.5 259.8 L1558.5 263.4 L1561.5 267.0 L1564.5 270.3 L1567.5 273.3 L1570.6 275.9 L1573.6 278.0 L1576.6 279.5 L1579.6 280.4 L1582.6 280.6 L1585.6 280.2 L1588.6 279.0 L1591.6 277.0 L1594.6 274.4 L1597.6 271.2 L1600.6 267.4 L1603.6 263.2 L1606.6 258.7 L1609.6 253.9 L1612.7 249.1 L1615.7 244.2 L1618.7 239.4 L1621.7 234.9 L1624.7 230.7 L1627.7 227.0 L1630.7 223.8 L1633.7 221.2 L1636.7 219.3 L1639.7 218.1 L1642.7 217.7 L1645.7 218.1 L1648.7 219.6 L1651.8 222.0 L1654.8 225.3 L1657.8 229.4 L1660.8 234.4 L1663.8 240.1 L1666.8 246.4 L1669.8 253.2 L1672.8 260.4 L1675.8 267.8 L1678.8 275.3 L1681.8 282.9 L1684.8 290.3 L1687.8 297.5 L1690.8 304.2 L1693.9 310.5 L1696.9 316.2 L1699.9 321.1 L1702.9 325.3 L1705.9 328.6 L1708.9 330.9 L1711.9 332.3 L1714.9 332.7 L1717.9 332.4 L1720.9 331.4 L1723.9 329.9 L1726.9 327.7 L1729.9 325.1 L1732.9 321.9 L1736.0 318.3 L1739.0 314.3 L1742.0 309.9 L1745.0 305.1 L1748.0 300.2 L1751.0 295.0 L1754.0 289.7 L1754 406.45 Z"/></clipPath><g clip-path="url(#nfp)"><rect x="131" y="122" width="1" height="285" fill="#fff" fill-opacity="0.16"/><rect x="251" y="122" width="1" height="285" fill="#fff" fill-opacity="0.16"/><rect x="371" y="122" width="1" height="285" fill="#fff" fill-opacity="0.16"/><rect x="491" y="122" width="1" height="285" fill="#fff" fill-opacity="0.16"/><rect x="611" y="122" width="1" height="285" fill="#fff" fill-opacity="0.16"/><rect x="731" y="122" width="1" height="285" fill="#fff" fill-opacity="0.16"/><rect x="852" y="122" width="1" height="285" fill="#fff" fill-opacity="0.16"/><rect x="972" y="122" width="1" height="285" fill="#fff" fill-opacity="0.16"/><rect x="1092" y="122" width="1" height="285" fill="#fff" fill-opacity="0.16"/><rect x="1212" y="122" width="1" height="285" fill="#fff" fill-opacity="0.16"/><rect x="1332" y="122" width="1" height="285" fill="#fff" fill-opacity="0.16"/><rect x="1452" y="122" width="1" height="285" fill="#fff" fill-opacity="0.16"/><rect x="1572" y="122" width="1" height="285" fill="#fff" fill-opacity="0.16"/><rect x="1692" y="122" width="1" height="285" fill="#fff" fill-opacity="0.16"/></g><g clip-path="url(#nfp)"><rect x="311" y="122" width="1" height="285" fill="#51708f"/><rect x="551" y="122" width="1" height="285" fill="#51708f"/><rect x="791" y="122" width="1" height="285" fill="#51708f"/><rect x="1031" y="122" width="1" height="285" fill="#51708f"/><rect x="1271" y="122" width="1" height="285" fill="#51708f"/><rect x="1511" y="122" width="1" height="285" fill="#51708f"/></g><g clip-path="url(#fp)"><rect x="311" y="122" width="1" height="285" fill="#dfe6ec" fill-opacity="0.4"/><rect x="551" y="122" width="1" height="285" fill="#dfe6ec" fill-opacity="0.4"/><rect x="791" y="122" width="1" height="285" fill="#dfe6ec" fill-opacity="0.4"/><rect x="1031" y="122" width="1" height="285" fill="#dfe6ec" fill-opacity="0.4"/><rect x="1271" y="122" width="1" height="285" fill="#dfe6ec" fill-opacity="0.4"/><rect x="1511" y="122" width="1" height="285" fill="#dfe6ec" fill-opacity="0.4"/></g></g><circle cx="88.8" cy="392.4" r="3.9" fill="#00838f" stroke="#fff" stroke-width="1" stroke-opacity="0.85"/><circle cx="159.2" cy="180.8" r="3.9" fill="#2c9adc" stroke="#fff" stroke-width="1" stroke-opacity="0.85"/><circle cx="213.2" cy="292.6" r="3.9" fill="#00838f" stroke="#fff" stroke-width="1" stroke-opacity="0.85"/><circle cx="270.5" cy="193.8" r="3.9" fill="#2c9adc" stroke="#fff" stroke-width="1" stroke-opacity="0.85"/><circle cx="335.9" cy="378.3" r="3.9" fill="#00838f" stroke="#fff" stroke-width="1" stroke-opacity="0.85"/><circle cx="406.2" cy="187.3" r="3.9" fill="#2c9adc" stroke="#fff" stroke-width="1" stroke-opacity="0.85"/><circle cx="461.2" cy="293.7" r="3.9" fill="#00838f" stroke="#fff" stroke-width="1" stroke-opacity="0.85"/><circle cx="519.1" cy="205.8" r="3.9" fill="#2c9adc" stroke="#fff" stroke-width="1" stroke-opacity="0.85"/><circle cx="583.1" cy="358.8" r="3.9" fill="#00838f" stroke="#fff" stroke-width="1" stroke-opacity="0.85"/><circle cx="653.1" cy="196.0" r="3.9" fill="#2c9adc" stroke="#fff" stroke-width="1" stroke-opacity="0.85"/><circle cx="710.2" cy="294.7" r="3.9" fill="#00838f" stroke="#fff" stroke-width="1" stroke-opacity="0.85"/><circle cx="768.7" cy="218.8" r="3.9" fill="#2c9adc" stroke="#fff" stroke-width="1" stroke-opacity="0.85"/><circle cx="830.9" cy="337.1" r="3.9" fill="#00838f" stroke="#fff" stroke-width="1" stroke-opacity="0.85"/><circle cx="900.4" cy="204.7" r="3.9" fill="#2c9adc" stroke="#fff" stroke-width="1" stroke-opacity="0.85"/><circle cx="960.4" cy="299.1" r="3.9" fill="#00838f" stroke="#fff" stroke-width="1" stroke-opacity="0.85"/><circle cx="1019.7" cy="230.7" r="3.9" fill="#2c9adc" stroke="#fff" stroke-width="1" stroke-opacity="0.85"/><circle cx="1079.3" cy="315.4" r="3.9" fill="#00838f" stroke="#fff" stroke-width="1" stroke-opacity="0.85"/><circle cx="1147.4" cy="211.2" r="3.9" fill="#2c9adc" stroke="#fff" stroke-width="1" stroke-opacity="0.85"/><circle cx="1212.3" cy="305.6" r="3.9" fill="#00838f" stroke="#fff" stroke-width="1" stroke-opacity="0.85"/><circle cx="1273.5" cy="239.4" r="3.9" fill="#2c9adc" stroke="#fff" stroke-width="1" stroke-opacity="0.85"/><circle cx="1329.5" cy="294.7" r="3.9" fill="#00838f" stroke="#fff" stroke-width="1" stroke-opacity="0.85"/><circle cx="1395.0" cy="215.5" r="3.9" fill="#2c9adc" stroke="#fff" stroke-width="1" stroke-opacity="0.85"/><circle cx="1464.4" cy="317.5" r="3.9" fill="#00838f" stroke="#fff" stroke-width="1" stroke-opacity="0.85"/><circle cx="1529.2" cy="239.4" r="3.9" fill="#2c9adc" stroke="#fff" stroke-width="1" stroke-opacity="0.85"/><circle cx="1582.2" cy="280.6" r="3.9" fill="#00838f" stroke="#fff" stroke-width="1" stroke-opacity="0.85"/><circle cx="1642.9" cy="217.7" r="3.9" fill="#2c9adc" stroke="#fff" stroke-width="1" stroke-opacity="0.85"/><circle cx="1714.6" cy="332.7" r="3.9" fill="#00838f" stroke="#fff" stroke-width="1" stroke-opacity="0.85"/></svg>
<div class="abs" style="left:69px;top:98px;width:1px;height:689px;background:#5f6469"></div><div class="abs" style="left:0;top:406px;width:70px;height:2px;background:#2f5475"></div><div class="abs" style="left:70px;top:407px;width:1682px;height:2px;background:#2f5475"></div>
<div class="abs" style="left:70px;top:409px;width:60px;height:57px;background:#f5fafe"></div><div class="abs" style="left:70px;top:467px;width:60px;height:59px;background:#fff"></div><div class="abs" style="left:131px;top:409px;width:59px;height:57px;background:#f5fafe"></div><div class="abs" style="left:131px;top:467px;width:59px;height:59px;background:#fff"></div><div class="abs" style="left:191px;top:409px;width:59px;height:57px;background:#f5fafe"></div><div class="abs" style="left:191px;top:467px;width:59px;height:59px;background:#fff"></div><div class="abs" style="left:251px;top:409px;width:59px;height:57px;background:#f5fafe"></div><div class="abs" style="left:251px;top:467px;width:59px;height:59px;background:#fff"></div><div class="abs" style="left:311px;top:409px;width:59px;height:57px;background:#f5fafe"></div><div class="abs" style="left:311px;top:467px;width:59px;height:59px;background:#fff"></div><div class="abs" style="left:371px;top:409px;width:59px;height:57px;background:#f5fafe"></div><div class="abs" style="left:371px;top:467px;width:59px;height:59px;background:#fff"></div><div class="abs" style="left:431px;top:409px;width:59px;height:57px;background:#f5fafe"></div><div class="abs" style="left:431px;top:467px;width:59px;height:59px;background:#fff"></div><div class="abs" style="left:491px;top:409px;width:59px;height:57px;background:#f5fafe"></div><div class="abs" style="left:491px;top:467px;width:59px;height:59px;background:#fff"></div><div class="abs" style="left:551px;top:409px;width:59px;height:57px;background:#f5fafe"></div><div class="abs" style="left:551px;top:467px;width:59px;height:59px;background:#fff"></div><div class="abs" style="left:611px;top:409px;width:59px;height:57px;background:#f5fafe"></div><div class="abs" style="left:611px;top:467px;width:59px;height:59px;background:#fff"></div><div class="abs" style="left:671px;top:409px;width:59px;height:57px;background:#f5fafe"></div><div class="abs" style="left:671px;top:467px;width:59px;height:59px;background:#fff"></div><div class="abs" style="left:731px;top:409px;width:59px;height:57px;background:#f5fafe"></div><div class="abs" style="left:731px;top:467px;width:59px;height:59px;background:#fff"></div><div class="abs" style="left:791px;top:409px;width:59px;height:57px;background:#f5fafe"></div><div class="abs" style="left:791px;top:467px;width:59px;height:59px;background:#fff"></div><div class="abs" style="left:851px;top:409px;width:60px;height:57px;background:#f5fafe"></div><div class="abs" style="left:851px;top:467px;width:60px;height:59px;background:#fff"></div><div class="abs" style="left:912px;top:409px;width:59px;height:57px;background:#f5fafe"></div><div class="abs" style="left:912px;top:467px;width:59px;height:59px;background:#fff"></div><div class="abs" style="left:972px;top:409px;width:60px;height:57px;background:#f5fafe"></div><div class="abs" style="left:972px;top:467px;width:60px;height:59px;background:#fff"></div><div class="abs" style="left:1033px;top:409px;width:59px;height:57px;background:#f5fafe"></div><div class="abs" style="left:1033px;top:467px;width:59px;height:59px;background:#fff"></div><div class="abs" style="left:1093px;top:409px;width:59px;height:57px;background:#f5fafe"></div><div class="abs" style="left:1093px;top:467px;width:59px;height:59px;background:#fff"></div><div class="abs" style="left:1153px;top:409px;width:59px;height:57px;background:#f5fafe"></div><div class="abs" style="left:1153px;top:467px;width:59px;height:59px;background:#fff"></div><div class="abs" style="left:1213px;top:409px;width:59px;height:57px;background:#f5fafe"></div><div class="abs" style="left:1213px;top:467px;width:59px;height:59px;background:#fff"></div><div class="abs" style="left:1273px;top:409px;width:59px;height:57px;background:#f5fafe"></div><div class="abs" style="left:1273px;top:467px;width:59px;height:59px;background:#fff"></div><div class="abs" style="left:1333px;top:409px;width:59px;height:57px;background:#f5fafe"></div><div class="abs" style="left:1333px;top:467px;width:59px;height:59px;background:#fff"></div><div class="abs" style="left:1393px;top:409px;width:60px;height:57px;background:#f5fafe"></div><div class="abs" style="left:1393px;top:467px;width:60px;height:59px;background:#fff"></div><div class="abs" style="left:1454px;top:409px;width:59px;height:57px;background:#f5fafe"></div><div class="abs" style="left:1454px;top:467px;width:59px;height:59px;background:#fff"></div><div class="abs" style="left:1514px;top:409px;width:59px;height:57px;background:#f5fafe"></div><div class="abs" style="left:1514px;top:467px;width:59px;height:59px;background:#fff"></div><div class="abs" style="left:1574px;top:409px;width:59px;height:57px;background:#f5fafe"></div><div class="abs" style="left:1574px;top:467px;width:59px;height:59px;background:#fff"></div><div class="abs" style="left:1634px;top:409px;width:59px;height:57px;background:#f5fafe"></div><div class="abs" style="left:1634px;top:467px;width:59px;height:59px;background:#fff"></div><div class="abs" style="left:1694px;top:409px;width:59px;height:57px;background:#f5fafe"></div><div class="abs" style="left:1694px;top:467px;width:59px;height:59px;background:#fff"></div><div class="cell lo" style="left:60px;width:80px;top:475.5px"><b>1:45AM</b>0.03m<br>(0.1ft)</div><div class="cell hi" style="left:121px;width:79px;top:416.5px"><b>8:47AM</b>1.98m<br>(6.5ft)</div><div class="cell lo" style="left:181px;width:79px;top:475.5px"><b>2:11PM</b>0.95m<br>(3.12ft)</div><div class="cell hi" style="left:241px;width:79px;top:416.5px"><b>7:55PM</b>1.86m<br>(6.1ft)</div><div class="cell lo" style="left:301px;width:79px;top:475.5px"><b>2:27AM</b>0.16m<br>(0.52ft)</div><div class="cell hi" style="left:361px;width:79px;top:416.5px"><b>9:29AM</b>1.92m<br>(6.3ft)</div><div class="cell lo" style="left:421px;width:79px;top:475.5px"><b>2:59PM</b>0.94m<br>(3.08ft)</div><div class="cell hi" style="left:481px;width:79px;top:416.5px"><b>8:46PM</b>1.75m<br>(5.74ft)</div><div class="cell lo" style="left:541px;width:79px;top:475.5px"><b>3:10AM</b>0.34m<br>(1.12ft)</div><div class="cell hi" style="left:601px;width:79px;top:416.5px"><b>10:10AM</b>1.84m<br>(6.04ft)</div><div class="cell lo" style="left:661px;width:79px;top:475.5px"><b>3:52PM</b>0.93m<br>(3.05ft)</div><div class="cell hi" style="left:721px;width:79px;top:416.5px"><b>9:43PM</b>1.63m<br>(5.35ft)</div><div class="cell lo" style="left:781px;width:79px;top:475.5px"><b>3:56AM</b>0.54m<br>(1.77ft)</div><div class="cell hi" style="left:841px;width:80px;top:416.5px"><b>10:53AM</b>1.76m<br>(5.77ft)</div><div class="cell lo" style="left:902px;width:79px;top:475.5px"><b>4:53PM</b>0.89m<br>(2.92ft)</div><div class="cell hi" style="left:962px;width:80px;top:416.5px"><b>10:49PM</b>1.52m<br>(4.99ft)</div><div class="cell lo" style="left:1023px;width:79px;top:475.5px"><b>4:46AM</b>0.74m<br>(2.43ft)</div><div class="cell hi" style="left:1083px;width:79px;top:416.5px"><b>11:35AM</b>1.70m<br>(5.58ft)</div><div class="cell lo" style="left:1203px;width:79px;top:475.5px"><b>6:04PM</b>0.83m<br>(2.72ft)</div><div class="cell hi" style="left:1263px;width:79px;top:416.5px"><b>00:11AM</b>1.44m<br>(4.72ft)</div><div class="cell lo" style="left:1263px;width:79px;top:475.5px"><b>5:47AM</b>0.93m<br>(3.05ft)</div><div class="cell hi" style="left:1383px;width:80px;top:416.5px"><b>12:20PM</b>1.66m<br>(5.43ft)</div><div class="cell lo" style="left:1444px;width:79px;top:475.5px"><b>7:16PM</b>0.72m<br>(2.36ft)</div><div class="cell hi" style="left:1504px;width:79px;top:416.5px"><b>1:45AM</b>1.44m<br>(4.72ft)</div><div class="cell lo" style="left:1564px;width:79px;top:475.5px"><b>7:03AM</b>1.06m<br>(3.48ft)</div><div class="cell hi" style="left:1624px;width:79px;top:416.5px"><b>1:07PM</b>1.64m<br>(5.38ft)</div><div class="cell lo" style="left:1684px;width:79px;top:475.5px"><b>8:17PM</b>0.58m<br>(1.9ft)</div>
<div class="lab" style="top:420.5px"><b style="color:#4a80b8">HIGH</b>(JST)</div><div class="lab" style="top:479.5px"><b style="color:#00838f">LOW</b>(JST)</div>
<div class="abs" style="left:0;top:525px;width:70px;height:2px;background:#234a6c"></div><div class="abs" style="left:70px;top:526px;width:1682px;height:2px;background:#234a6c"></div>
<div class="abs" style="left:0;top:527px;width:69px;height:46px;background:#fdfdf0"></div><div class="abs" style="left:70px;top:528px;width:60px;height:45px;background:#fdfdf0"></div><div class="abs" style="left:131px;top:528px;width:59px;height:45px;background:#fdfdf0"></div><div class="abs" style="left:191px;top:528px;width:59px;height:45px;background:#eeeeee"></div><div class="abs" style="left:251px;top:528px;width:59px;height:45px;background:#fdfdf0"></div><div class="abs" style="left:311px;top:528px;width:59px;height:45px;background:#fdfdf0"></div><div class="abs" style="left:371px;top:528px;width:59px;height:45px;background:#fdfdf0"></div><div class="abs" style="left:431px;top:528px;width:59px;height:45px;background:#eeeeee"></div><div class="abs" style="left:491px;top:528px;width:59px;height:45px;background:#fdfdf0"></div><div class="abs" style="left:551px;top:528px;width:59px;height:45px;background:#fdfdf0"></div><div class="abs" style="left:611px;top:528px;width:59px;height:45px;background:#fdfdf0"></div><div class="abs" style="left:671px;top:528px;width:59px;height:45px;background:#eeeeee"></div><div class="abs" style="left:731px;top:528px;width:59px;height:45px;background:#fdfdf0"></div><div class="abs" style="left:791px;top:528px;width:59px;height:45px;background:#fdfdf0"></div><div class="abs" style="left:851px;top:528px;width:60px;height:45px;background:#fdfdf0"></div><div class="abs" style="left:912px;top:528px;width:59px;height:45px;background:#eeeeee"></div><div class="abs" style="left:972px;top:528px;width:60px;height:45px;background:#fdfdf0"></div><div class="abs" style="left:1033px;top:528px;width:59px;height:45px;background:#fdfdf0"></div><div class="abs" style="left:1093px;top:528px;width:59px;height:45px;background:#fdfdf0"></div><div class="abs" style="left:1153px;top:528px;width:59px;height:45px;background:#eeeeee"></div><div class="abs" style="left:1213px;top:528px;width:59px;height:45px;background:#fdfdf0"></div><div class="abs" style="left:1273px;top:528px;width:59px;height:45px;background:#fdfdf0"></div><div class="abs" style="left:1333px;top:528px;width:59px;height:45px;background:#fdfdf0"></div><div class="abs" style="left:1393px;top:528px;width:60px;height:45px;background:#eeeeee"></div><div class="abs" style="left:1454px;top:528px;width:59px;height:45px;background:#fdfdf0"></div><div class="abs" style="left:1514px;top:528px;width:59px;height:45px;background:#fdfdf0"></div><div class="abs" style="left:1574px;top:528px;width:59px;height:45px;background:#fdfdf0"></div><div class="abs" style="left:1634px;top:528px;width:59px;height:45px;background:#eeeeee"></div><div class="abs" style="left:1694px;top:528px;width:59px;height:45px;background:#fdfdf0"></div><div class="lab" style="top:542.6px;font-size:14px;line-height:14px">Sun</div><svg class="abs" style="left:27px;top:533px" width="16" height="34" viewBox="0 0 16 34"><path d="M8 2.5 L12 8 L4 8 Z M8 31 L12 25.5 L4 25.5 Z" fill="#111"/></svg>
<svg class="abs" style="left:148.9px;top:534.4px" width="22" height="18" viewBox="0 0 22 18" fill="none" stroke="#444" stroke-width="1.3" stroke-linecap="butt"><path d="M6.07 10.3 A5 5 0 1 1 15.93 10.3"/><path d="M11 0 V2.4 M4 2.5 L6 4.3 M18 2.5 L16 4.3 M1 9.6 H3.6 M18.4 9.6 H21"/><path d="M1 12.9 H7.5 L11 10 L14.5 12.9 H21" stroke-width="1.4"/></svg><div class="st" style="left:125px;width:71px;top:553.5px">6:55AM</div><svg class="abs" style="left:208.9px;top:534.4px" width="22" height="18" viewBox="0 0 22 18" fill="none" stroke="#444" stroke-width="1.3" stroke-linecap="butt"><path d="M6.07 10.3 A5 5 0 1 1 15.93 10.3"/><path d="M11 0 V2.4 M4 2.5 L6 4.3 M18 2.5 L16 4.3 M1 9.6 H3.6 M18.4 9.6 H21"/><path d="M1 12.9 H6.6 L11 16.2 L15.4 12.9 H21" stroke-width="1.4"/></svg><div class="st" style="left:185px;width:71px;top:553.5px">4:45PM</div><svg class="abs" style="left:388.9px;top:534.4px" width="22" height="18" viewBox="0 0 22 18" fill="none" stroke="#444" stroke-width="1.3" stroke-linecap="butt"><path d="M6.07 10.3 A5 5 0 1 1 15.93 10.3"/><path d="M11 0 V2.4 M4 2.5 L6 4.3 M18 2.5 L16 4.3 M1 9.6 H3.6 M18.4 9.6 H21"/><path d="M1 12.9 H7.5 L11 10 L14.5 12.9 H21" stroke-width="1.4"/></svg><div class="st" style="left:365px;width:71px;top:553.5px">6:56AM</div><svg class="abs" style="left:448.9px;top:534.4px" width="22" height="18" viewBox="0 0 22 18" fill="none" stroke="#444" stroke-width="1.3" stroke-linecap="butt"><path d="M6.07 10.3 A5 5 0 1 1 15.93 10.3"/><path d="M11 0 V2.4 M4 2.5 L6 4.3 M18 2.5 L16 4.3 M1 9.6 H3.6 M18.4 9.6 H21"/><path d="M1 12.9 H6.6 L11 16.2 L15.4 12.9 H21" stroke-width="1.4"/></svg><div class="st" style="left:425px;width:71px;top:553.5px">4:46PM</div><svg class="abs" style="left:628.9px;top:534.4px" width="22" height="18" viewBox="0 0 22 18" fill="none" stroke="#444" stroke-width="1.3" stroke-linecap="butt"><path d="M6.07 10.3 A5 5 0 1 1 15.93 10.3"/><path d="M11 0 V2.4 M4 2.5 L6 4.3 M18 2.5 L16 4.3 M1 9.6 H3.6 M18.4 9.6 H21"/><path d="M1 12.9 H7.5 L11 10 L14.5 12.9 H21" stroke-width="1.4"/></svg><div class="st" style="left:605px;width:71px;top:553.5px">6:56AM</div><svg class="abs" style="left:688.9px;top:534.4px" width="22" height="18" viewBox="0 0 22 18" fill="none" stroke="#444" stroke-width="1.3" stroke-linecap="butt"><path d="M6.07 10.3 A5 5 0 1 1 15.93 10.3"/><path d="M11 0 V2.4 M4 2.5 L6 4.3 M18 2.5 L16 4.3 M1 9.6 H3.6 M18.4 9.6 H21"/><path d="M1 12.9 H6.6 L11 16.2 L15.4 12.9 H21" stroke-width="1.4"/></svg><div class="st" style="left:665px;width:71px;top:553.5px">4:46PM</div><svg class="abs" style="left:869.4px;top:534.4px" width="22" height="18" viewBox="0 0 22 18" fill="none" stroke="#444" stroke-width="1.3" stroke-linecap="butt"><path d="M6.07 10.3 A5 5 0 1 1 15.93 10.3"/><path d="M11 0 V2.4 M4 2.5 L6 4.3 M18 2.5 L16 4.3 M1 9.6 H3.6 M18.4 9.6 H21"/><path d="M1 12.9 H7.5 L11 10 L14.5 12.9 H21" stroke-width="1.4"/></svg><div class="st" style="left:845px;width:72px;top:553.5px">6:56AM</div><svg class="abs" style="left:929.9px;top:534.4px" width="22" height="18" viewBox="0 0 22 18" fill="none" stroke="#444" stroke-width="1.3" stroke-linecap="butt"><path d="M6.07 10.3 A5 5 0 1 1 15.93 10.3"/><path d="M11 0 V2.4 M4 2.5 L6 4.3 M18 2.5 L16 4.3 M1 9.6 H3.6 M18.4 9.6 H21"/><path d="M1 12.9 H6.6 L11 16.2 L15.4 12.9 H21" stroke-width="1.4"/></svg><div class="st" style="left:906px;width:71px;top:553.5px">4:47PM</div><svg class="abs" style="left:1110.9px;top:534.4px" width="22" height="18" viewBox="0 0 22 18" fill="none" stroke="#444" stroke-width="1.3" stroke-linecap="butt"><path d="M6.07 10.3 A5 5 0 1 1 15.93 10.3"/><path d="M11 0 V2.4 M4 2.5 L6 4.3 M18 2.5 L16 4.3 M1 9.6 H3.6 M18.4 9.6 H21"/><path d="M1 12.9 H7.5 L11 10 L14.5 12.9 H21" stroke-width="1.4"/></svg><div class="st" style="left:1087px;width:71px;top:553.5px">6:57AM</div><svg class="abs" style="left:1170.9px;top:534.4px" width="22" height="18" viewBox="0 0 22 18" fill="none" stroke="#444" stroke-width="1.3" stroke-linecap="butt"><path d="M6.07 10.3 A5 5 0 1 1 15.93 10.3"/><path d="M11 0 V2.4 M4 2.5 L6 4.3 M18 2.5 L16 4.3 M1 9.6 H3.6 M18.4 9.6 H21"/><path d="M1 12.9 H6.6 L11 16.2 L15.4 12.9 H21" stroke-width="1.4"/></svg><div class="st" style="left:1147px;width:71px;top:553.5px">4:47PM</div><svg class="abs" style="left:1350.9px;top:534.4px" width="22" height="18" viewBox="0 0 22 18" fill="none" stroke="#444" stroke-width="1.3" stroke-linecap="butt"><path d="M6.07 10.3 A5 5 0 1 1 15.93 10.3"/><path d="M11 0 V2.4 M4 2.5 L6 4.3 M18 2.5 L16 4.3 M1 9.6 H3.6 M18.4 9.6 H21"/><path d="M1 12.9 H7.5 L11 10 L14.5 12.9 H21" stroke-width="1.4"/></svg><div class="st" style="left:1327px;width:71px;top:553.5px">6:57AM</div><svg class="abs" style="left:1411.4px;top:534.4px" width="22" height="18" viewBox="0 0 22 18" fill="none" stroke="#444" stroke-width="1.3" stroke-linecap="butt"><path d="M6.07 10.3 A5 5 0 1 1 15.93 10.3"/><path d="M11 0 V2.4 M4 2.5 L6 4.3 M18 2.5 L16 4.3 M1 9.6 H3.6 M18.4 9.6 H21"/><path d="M1 12.9 H6.6 L11 16.2 L15.4 12.9 H21" stroke-width="1.4"/></svg><div class="st" style="left:1387px;width:72px;top:553.5px">4:48PM</div><svg class="abs" style="left:1591.9px;top:534.4px" width="22" height="18" viewBox="0 0 22 18" fill="none" stroke="#444" stroke-width="1.3" stroke-linecap="butt"><path d="M6.07 10.3 A5 5 0 1 1 15.93 10.3"/><path d="M11 0 V2.4 M4 2.5 L6 4.3 M18 2.5 L16 4.3 M1 9.6 H3.6 M18.4 9.6 H21"/><path d="M1 12.9 H7.5 L11 10 L14.5 12.9 H21" stroke-width="1.4"/></svg><div class="st" style="left:1568px;width:71px;top:553.5px">6:57AM</div><svg class="abs" style="left:1651.9px;top:534.4px" width="22" height="18" viewBox="0 0 22 18" fill="none" stroke="#444" stroke-width="1.3" stroke-linecap="butt"><path d="M6.07 10.3 A5 5 0 1 1 15.93 10.3"/><path d="M11 0 V2.4 M4 2.5 L6 4.3 M18 2.5 L16 4.3 M1 9.6 H3.6 M18.4 9.6 H21"/><path d="M1 12.9 H6.6 L11 16.2 L15.4 12.9 H21" stroke-width="1.4"/></svg><div class="st" style="left:1628px;width:71px;top:553.5px">4:49PM</div>
<div class="abs" style="left:70px;top:573px;width:60px;height:79px;background:#fff"></div><div class="abs" style="left:131px;top:573px;width:59px;height:79px;background:#fff"></div><div class="abs" style="left:191px;top:573px;width:59px;height:79px;background:#fff"></div><div class="abs" style="left:251px;top:573px;width:59px;height:79px;background:#fff"></div><div class="abs" style="left:311px;top:573px;width:59px;height:79px;background:#fff"></div><div class="abs" style="left:371px;top:573px;width:59px;height:79px;background:#fff"></div><div class="abs" style="left:431px;top:573px;width:59px;height:79px;background:#fff"></div><div class="abs" style="left:491px;top:573px;width:59px;height:79px;background:#fff"></div><div class="abs" style="left:551px;top:573px;width:59px;height:79px;background:#fff"></div><div class="abs" style="left:611px;top:573px;width:59px;height:79px;background:#fff"></div><div class="abs" style="left:671px;top:573px;width:59px;height:79px;background:#fff"></div><div class="abs" style="left:731px;top:573px;width:59px;height:79px;background:#fff"></div><div class="abs" style="left:791px;top:573px;width:59px;height:79px;background:#fff"></div><div class="abs" style="left:851px;top:573px;width:60px;height:79px;background:#fff"></div><div class="abs" style="left:912px;top:573px;width:59px;height:79px;background:#fff"></div><div class="abs" style="left:972px;top:573px;width:60px;height:79px;background:#fff"></div><div class="abs" style="left:1033px;top:573px;width:59px;height:79px;background:#fff"></div><div class="abs" style="left:1093px;top:573px;width:59px;height:79px;background:#fff"></div><div class="abs" style="left:1153px;top:573px;width:59px;height:79px;background:#fff"></div><div class="abs" style="left:1213px;top:573px;width:59px;height:79px;background:#fff"></div><div class="abs" style="left:1273px;top:573px;width:59px;height:79px;background:#fff"></div><div class="abs" style="left:1333px;top:573px;width:59px;height:79px;background:#fff"></div><div class="abs" style="left:1393px;top:573px;width:60px;height:79px;background:#fff"></div><div class="abs" style="left:1454px;top:573px;width:59px;height:79px;background:#fff"></div><div class="abs" style="left:1514px;top:573px;width:59px;height:79px;background:#fff"></div><div class="abs" style="left:1574px;top:573px;width:59px;height:79px;background:#fff"></div><div class="abs" style="left:1634px;top:573px;width:59px;height:79px;background:#fff"></div><div class="abs" style="left:1694px;top:573px;width:59px;height:79px;background:#fff"></div><div class="lab" style="top:584px;font-size:14.6px;line-height:16px">Moon</div><div class="lab" style="top:612px;font-size:14px;line-height:16px">Set</div><div class="lab" style="top:632px;font-size:14px;line-height:16px">Rise</div>
<svg class="abs" style="left:150.3px;top:580.7px" width="22" height="22" viewBox="-11 -11 22 22"><circle r="9.6" fill="#fff"/><path d="M0 -9.6 A9.6 9.6 0 0 0 0 9.6 A4.70 9.6 0 0 0 0 -9.6 Z" fill="#999"/><path d="M0 9.6 A4.70 9.6 0 0 0 0 -9.6" fill="none" stroke="#111" stroke-width="1"/><circle r="9.6" fill="none" stroke="#111" stroke-width="1.1"/></svg><svg class="abs" style="left:149.0px;top:614px" width="22" height="17" viewBox="0 0 22 17" fill="none" stroke="#1a1a1a" stroke-width="1.4"><path d="M4.71 9.2 A6.35 6.35 0 1 1 17.29 9.2"/><path d="M1 11.8 H7.6 M14.4 11.8 H21" stroke="#666" stroke-width="1.6"/><path d="M7.2 11.9 L11 9.2 L14.8 11.9" stroke-width="1.4"/></svg><div class="st" style="left:125px;width:71px;top:633px">9:20AM</div><svg class="abs" style="left:270.3px;top:580.7px" width="22" height="22" viewBox="-11 -11 22 22"><circle r="9.6" fill="#fff"/><path d="M0 -9.6 A9.6 9.6 0 0 0 0 9.6 A4.60 9.6 0 0 0 0 -9.6 Z" fill="#999"/><path d="M0 9.6 A4.60 9.6 0 0 0 0 -9.6" fill="none" stroke="#111" stroke-width="1"/><circle r="9.6" fill="none" stroke="#111" stroke-width="1.1"/></svg><svg class="abs" style="left:269.0px;top:614px" width="22" height="17" viewBox="0 0 22 17" fill="none" stroke="#1a1a1a" stroke-width="1.4"><path d="M4.71 9.2 A6.35 6.35 0 1 1 17.29 9.2"/><path d="M1 11.8 H7.4 M14.6 11.8 H21" stroke="#666" stroke-width="1.6"/><path d="M7 11.7 L11 14.8 L15 11.7" stroke-width="1.4"/></svg><div class="st" style="left:245px;width:71px;top:633px">7:34PM</div><svg class="abs" style="left:390.3px;top:580.7px" width="22" height="22" viewBox="-11 -11 22 22"><circle r="9.6" fill="#fff"/><path d="M0 -9.6 A9.6 9.6 0 0 0 0 9.6 A3.20 9.6 0 0 0 0 -9.6 Z" fill="#999"/><path d="M0 9.6 A3.20 9.6 0 0 0 0 -9.6" fill="none" stroke="#111" stroke-width="1"/><circle r="9.6" fill="none" stroke="#111" stroke-width="1.1"/></svg><svg class="abs" style="left:389.0px;top:614px" width="22" height="17" viewBox="0 0 22 17" fill="none" stroke="#1a1a1a" stroke-width="1.4"><path d="M4.71 9.2 A6.35 6.35 0 1 1 17.29 9.2"/><path d="M1 11.8 H7.6 M14.4 11.8 H21" stroke="#666" stroke-width="1.6"/><path d="M7.2 11.9 L11 9.2 L14.8 11.9" stroke-width="1.4"/></svg><div class="st" style="left:365px;width:71px;top:633px">9:52AM</div><svg class="abs" style="left:510.29999999999995px;top:580.7px" width="22" height="22" viewBox="-11 -11 22 22"><circle r="9.6" fill="#fff"/><path d="M0 -9.6 A9.6 9.6 0 0 0 0 9.6 A2.80 9.6 0 0 0 0 -9.6 Z" fill="#999"/><path d="M0 9.6 A2.80 9.6 0 0 0 0 -9.6" fill="none" stroke="#111" stroke-width="1"/><circle r="9.6" fill="none" stroke="#111" stroke-width="1.1"/></svg><svg class="abs" style="left:509.0px;top:614px" width="22" height="17" viewBox="0 0 22 17" fill="none" stroke="#1a1a1a" stroke-width="1.4"><path d="M4.71 9.2 A6.35 6.35 0 1 1 17.29 9.2"/><path d="M1 11.8 H7.4 M14.6 11.8 H21" stroke="#666" stroke-width="1.6"/><path d="M7 11.7 L11 14.8 L15 11.7" stroke-width="1.4"/></svg><div class="st" style="left:485px;width:71px;top:633px">8:36PM</div><svg class="abs" style="left:630.3px;top:580.7px" width="22" height="22" viewBox="-11 -11 22 22"><circle r="9.6" fill="#fff"/><path d="M0 -9.6 A9.6 9.6 0 0 0 0 9.6 A1.60 9.6 0 0 0 0 -9.6 Z" fill="#999"/><path d="M0 9.6 A1.60 9.6 0 0 0 0 -9.6" fill="none" stroke="#111" stroke-width="1"/><circle r="9.6" fill="none" stroke="#111" stroke-width="1.1"/></svg><svg class="abs" style="left:629.0px;top:614px" width="22" height="17" viewBox="0 0 22 17" fill="none" stroke="#1a1a1a" stroke-width="1.4"><path d="M4.71 9.2 A6.35 6.35 0 1 1 17.29 9.2"/><path d="M1 11.8 H7.6 M14.4 11.8 H21" stroke="#666" stroke-width="1.6"/><path d="M7.2 11.9 L11 9.2 L14.8 11.9" stroke-width="1.4"/></svg><div class="st" style="left:605px;width:71px;top:633px">10:21AM</div><svg class="abs" style="left:750.3px;top:580.7px" width="22" height="22" viewBox="-11 -11 22 22"><circle r="9.6" fill="#fff"/><path d="M0 -9.6 A9.6 9.6 0 0 0 0 9.6 A1.20 9.6 0 0 0 0 -9.6 Z" fill="#999"/><path d="M0 9.6 A1.20 9.6 0 0 0 0 -9.6" fill="none" stroke="#111" stroke-width="1"/><circle r="9.6" fill="none" stroke="#111" stroke-width="1.1"/></svg><svg class="abs" style="left:749.0px;top:614px" width="22" height="17" viewBox="0 0 22 17" fill="none" stroke="#1a1a1a" stroke-width="1.4"><path d="M4.71 9.2 A6.35 6.35 0 1 1 17.29 9.2"/><path d="M1 11.8 H7.4 M14.6 11.8 H21" stroke="#666" stroke-width="1.6"/><path d="M7 11.7 L11 14.8 L15 11.7" stroke-width="1.4"/></svg><div class="st" style="left:725px;width:71px;top:633px">9:39PM</div><svg class="abs" style="left:870.8px;top:580.7px" width="22" height="22" viewBox="-11 -11 22 22"><circle r="9.6" fill="#fff"/><path d="M0 -9.6 A9.6 9.6 0 0 0 0 9.6 A0.30 9.6 0 0 0 0 -9.6 Z" fill="#999"/><path d="M0 9.6 A0.30 9.6 0 0 0 0 -9.6" fill="none" stroke="#111" stroke-width="1"/><circle r="9.6" fill="none" stroke="#111" stroke-width="1.1"/></svg><svg class="abs" style="left:869.5px;top:614px" width="22" height="17" viewBox="0 0 22 17" fill="none" stroke="#1a1a1a" stroke-width="1.4"><path d="M4.71 9.2 A6.35 6.35 0 1 1 17.29 9.2"/><path d="M1 11.8 H7.6 M14.4 11.8 H21" stroke="#666" stroke-width="1.6"/><path d="M7.2 11.9 L11 9.2 L14.8 11.9" stroke-width="1.4"/></svg><div class="st" style="left:845px;width:72px;top:633px">10:49AM</div><svg class="abs" style="left:991.8px;top:580.7px" width="22" height="22" viewBox="-11 -11 22 22"><circle r="9.6" fill="#fff"/><path d="M0 -9.6 A9.6 9.6 0 0 0 0 9.6 A0.20 9.6 0 0 0 0 -9.6 Z" fill="#999"/><path d="M0 9.6 A0.20 9.6 0 0 0 0 -9.6" fill="none" stroke="#111" stroke-width="1"/><circle r="9.6" fill="none" stroke="#111" stroke-width="1.1"/></svg><svg class="abs" style="left:990.5px;top:614px" width="22" height="17" viewBox="0 0 22 17" fill="none" stroke="#1a1a1a" stroke-width="1.4"><path d="M4.71 9.2 A6.35 6.35 0 1 1 17.29 9.2"/><path d="M1 11.8 H7.4 M14.6 11.8 H21" stroke="#666" stroke-width="1.6"/><path d="M7 11.7 L11 14.8 L15 11.7" stroke-width="1.4"/></svg><div class="st" style="left:966px;width:72px;top:633px">10:41PM</div><svg class="abs" style="left:1112.3px;top:580.7px" width="22" height="22" viewBox="-11 -11 22 22"><circle r="9.6" fill="#fff"/><path d="M0 -9.6 A9.6 9.6 0 0 0 0 9.6 A0.00 9.6 0 0 0 0 -9.6 Z" fill="#999"/><path d="M0 9.6 A0.01 9.6 0 0 0 0 -9.6" fill="none" stroke="#111" stroke-width="1"/><circle r="9.6" fill="none" stroke="#111" stroke-width="1.1"/></svg><svg class="abs" style="left:1111.0px;top:614px" width="22" height="17" viewBox="0 0 22 17" fill="none" stroke="#1a1a1a" stroke-width="1.4"><path d="M4.71 9.2 A6.35 6.35 0 1 1 17.29 9.2"/><path d="M1 11.8 H7.6 M14.4 11.8 H21" stroke="#666" stroke-width="1.6"/><path d="M7.2 11.9 L11 9.2 L14.8 11.9" stroke-width="1.4"/></svg><div class="st" style="left:1087px;width:71px;top:633px">11:15AM</div><svg class="abs" style="left:1232.3px;top:580.7px" width="22" height="22" viewBox="-11 -11 22 22"><circle r="9.6" fill="#fff"/><path d="M0 -9.6 A9.6 9.6 0 0 0 0 9.6 A0.30 9.6 0 0 1 0 -9.6 Z" fill="#999"/><path d="M0 9.6 A0.30 9.6 0 0 1 0 -9.6" fill="none" stroke="#111" stroke-width="1"/><circle r="9.6" fill="none" stroke="#111" stroke-width="1.1"/></svg><svg class="abs" style="left:1231.0px;top:614px" width="22" height="17" viewBox="0 0 22 17" fill="none" stroke="#1a1a1a" stroke-width="1.4"><path d="M4.71 9.2 A6.35 6.35 0 1 1 17.29 9.2"/><path d="M1 11.8 H7.4 M14.6 11.8 H21" stroke="#666" stroke-width="1.6"/><path d="M7 11.7 L11 14.8 L15 11.7" stroke-width="1.4"/></svg><div class="st" style="left:1207px;width:71px;top:633px">11:45PM</div><svg class="abs" style="left:1352.3px;top:580.7px" width="22" height="22" viewBox="-11 -11 22 22"><circle r="9.6" fill="#fff"/><path d="M0 -9.6 A9.6 9.6 0 0 0 0 9.6 A1.40 9.6 0 0 1 0 -9.6 Z" fill="#999"/><path d="M0 9.6 A1.40 9.6 0 0 1 0 -9.6" fill="none" stroke="#111" stroke-width="1"/><circle r="9.6" fill="none" stroke="#111" stroke-width="1.1"/></svg><svg class="abs" style="left:1351.0px;top:614px" width="22" height="17" viewBox="0 0 22 17" fill="none" stroke="#1a1a1a" stroke-width="1.4"><path d="M4.71 9.2 A6.35 6.35 0 1 1 17.29 9.2"/><path d="M1 11.8 H7.6 M14.4 11.8 H21" stroke="#666" stroke-width="1.6"/><path d="M7.2 11.9 L11 9.2 L14.8 11.9" stroke-width="1.4"/></svg><div class="st" style="left:1327px;width:71px;top:633px">11:41AM</div><svg class="abs" style="left:1533.3px;top:580.7px" width="22" height="22" viewBox="-11 -11 22 22"><circle r="9.6" fill="#fff"/><path d="M0 -9.6 A9.6 9.6 0 0 0 0 9.6 A2.20 9.6 0 0 1 0 -9.6 Z" fill="#999"/><path d="M0 9.6 A2.20 9.6 0 0 1 0 -9.6" fill="none" stroke="#111" stroke-width="1"/><circle r="9.6" fill="none" stroke="#111" stroke-width="1.1"/></svg><svg class="abs" style="left:1532.0px;top:614px" width="22" height="17" viewBox="0 0 22 17" fill="none" stroke="#1a1a1a" stroke-width="1.4"><path d="M4.71 9.2 A6.35 6.35 0 1 1 17.29 9.2"/><path d="M1 11.8 H7.4 M14.6 11.8 H21" stroke="#666" stroke-width="1.6"/><path d="M7 11.7 L11 14.8 L15 11.7" stroke-width="1.4"/></svg><div class="st" style="left:1508px;width:71px;top:633px">00:51AM</div><svg class="abs" style="left:1653.3px;top:580.7px" width="22" height="22" viewBox="-11 -11 22 22"><circle r="9.6" fill="#fff"/><path d="M0 -9.6 A9.6 9.6 0 0 0 0 9.6 A2.60 9.6 0 0 1 0 -9.6 Z" fill="#999"/><path d="M0 9.6 A2.60 9.6 0 0 1 0 -9.6" fill="none" stroke="#111" stroke-width="1"/><circle r="9.6" fill="none" stroke="#111" stroke-width="1.1"/></svg><svg class="abs" style="left:1652.0px;top:614px" width="22" height="17" viewBox="0 0 22 17" fill="none" stroke="#1a1a1a" stroke-width="1.4"><path d="M4.71 9.2 A6.35 6.35 0 1 1 17.29 9.2"/><path d="M1 11.8 H7.6 M14.4 11.8 H21" stroke="#666" stroke-width="1.6"/><path d="M7.2 11.9 L11 9.2 L14.8 11.9" stroke-width="1.4"/></svg><div class="st" style="left:1628px;width:71px;top:633px">12:11PM</div>
<div class="abs" style="left:0;top:651px;width:69px;height:1px;background:#2f5577"></div><div class="abs" style="left:70px;top:652px;width:60px;height:1px;background:#2f5577"></div><div class="abs" style="left:131px;top:652px;width:59px;height:1px;background:#2f5577"></div><div class="abs" style="left:191px;top:652px;width:59px;height:1px;background:#2f5577"></div><div class="abs" style="left:251px;top:652px;width:59px;height:1px;background:#2f5577"></div><div class="abs" style="left:311px;top:652px;width:59px;height:1px;background:#2f5577"></div><div class="abs" style="left:371px;top:652px;width:59px;height:1px;background:#2f5577"></div><div class="abs" style="left:431px;top:652px;width:59px;height:1px;background:#2f5577"></div><div class="abs" style="left:491px;top:652px;width:59px;height:1px;background:#2f5577"></div><div class="abs" style="left:551px;top:652px;width:59px;height:1px;background:#2f5577"></div><div class="abs" style="left:611px;top:652px;width:59px;height:1px;background:#2f5577"></div><div class="abs" style="left:671px;top:652px;width:59px;height:1px;background:#2f5577"></div><div class="abs" style="left:731px;top:652px;width:59px;height:1px;background:#2f5577"></div><div class="abs" style="left:791px;top:652px;width:59px;height:1px;background:#2f5577"></div><div class="abs" style="left:851px;top:652px;width:60px;height:1px;background:#2f5577"></div><div class="abs" style="left:912px;top:652px;width:59px;height:1px;background:#2f5577"></div><div class="abs" style="left:972px;top:652px;width:60px;height:1px;background:#2f5577"></div><div class="abs" style="left:1033px;top:652px;width:59px;height:1px;background:#2f5577"></div><div class="abs" style="left:1093px;top:652px;width:59px;height:1px;background:#2f5577"></div><div class="abs" style="left:1153px;top:652px;width:59px;height:1px;background:#2f5577"></div><div class="abs" style="left:1213px;top:652px;width:59px;height:1px;background:#2f5577"></div><div class="abs" style="left:1273px;top:652px;width:59px;height:1px;background:#2f5577"></div><div class="abs" style="left:1333px;top:652px;width:59px;height:1px;background:#2f5577"></div><div class="abs" style="left:1393px;top:652px;width:60px;height:1px;background:#2f5577"></div><div class="abs" style="left:1454px;top:652px;width:59px;height:1px;background:#2f5577"></div><div class="abs" style="left:1514px;top:652px;width:59px;height:1px;background:#2f5577"></div><div class="abs" style="left:1574px;top:652px;width:59px;height:1px;background:#2f5577"></div><div class="abs" style="left:1634px;top:652px;width:59px;height:1px;background:#2f5577"></div><div class="abs" style="left:1694px;top:652px;width:59px;height:1px;background:#2f5577"></div>
<div class="abs" style="left:70px;top:653px;width:60px;height:47px;background:#fff"></div><div class="abs" style="left:131px;top:653px;width:59px;height:47px;background:#fff"></div><div class="abs" style="left:191px;top:653px;width:59px;height:47px;background:#fff"></div><div class="abs" style="left:251px;top:653px;width:59px;height:47px;background:#fff"></div><div class="abs" style="left:311px;top:653px;width:59px;height:47px;background:#fff"></div><div class="abs" style="left:371px;top:653px;width:59px;height:47px;background:#fff"></div><div class="abs" style="left:431px;top:653px;width:59px;height:47px;background:#fff"></div><div class="abs" style="left:491px;top:653px;width:59px;height:47px;background:#fff"></div><div class="abs" style="left:551px;top:653px;width:59px;height:47px;background:#fff"></div><div class="abs" style="left:611px;top:653px;width:59px;height:47px;background:#fff"></div><div class="abs" style="left:671px;top:653px;width:59px;height:47px;background:#fff"></div><div class="abs" style="left:731px;top:653px;width:59px;height:47px;background:#fff"></div><div class="abs" style="left:791px;top:653px;width:59px;height:47px;background:#fff"></div><div class="abs" style="left:851px;top:653px;width:60px;height:47px;background:#fff"></div><div class="abs" style="left:912px;top:653px;width:59px;height:47px;background:#fff"></div><div class="abs" style="left:972px;top:653px;width:60px;height:47px;background:#fff"></div><div class="abs" style="left:1033px;top:653px;width:59px;height:47px;background:#fff"></div><div class="abs" style="left:1093px;top:653px;width:59px;height:47px;background:#fff"></div><div class="abs" style="left:1153px;top:653px;width:59px;height:47px;background:#fff"></div><div class="abs" style="left:1213px;top:653px;width:59px;height:47px;background:#fff"></div><div class="abs" style="left:1273px;top:653px;width:59px;height:47px;background:#fff"></div><div class="abs" style="left:1333px;top:653px;width:59px;height:47px;background:#fff"></div><div class="abs" style="left:1393px;top:653px;width:60px;height:47px;background:#fff"></div><div class="abs" style="left:1454px;top:653px;width:59px;height:47px;background:#fff"></div><div class="abs" style="left:1514px;top:653px;width:59px;height:47px;background:#fff"></div><div class="abs" style="left:1574px;top:653px;width:59px;height:47px;background:#fff"></div><div class="abs" style="left:1634px;top:653px;width:59px;height:47px;background:#fff"></div><div class="abs" style="left:1694px;top:653px;width:59px;height:47px;background:#fff"></div><div class="lab" style="top:659px;font-size:14.5px;line-height:17px">Wind<br>(<a href="#">km/h</a>)</div>
<svg class="abs" style="left:77.5px;top:653.8px" width="44" height="44" viewBox="-22 -22 44 44"><g transform="rotate(157.5)"><path d="M-2.4 -8 V-13.2 H-6.7 L0 -19.4 L6.7 -13.2 H2.4 V-8 Z" fill="#000"/></g><circle r="10.3" fill="#000"/></svg><div class="wt" style="left:87.9px;top:668.5999999999999px;color:#00ff00">25</div><svg class="abs" style="left:138.0px;top:653.8px" width="44" height="44" viewBox="-22 -22 44 44"><g transform="rotate(225)"><path d="M-2.4 -8 V-13.2 H-6.7 L0 -19.4 L6.7 -13.2 H2.4 V-8 Z" fill="#000"/></g><circle r="10.3" fill="#000"/></svg><div class="wt" style="left:148.4px;top:668.5999999999999px;color:#fff">10</div><svg class="abs" style="left:198.0px;top:653.8px" width="44" height="44" viewBox="-22 -22 44 44"><g transform="rotate(292.5)"><path d="M-2.4 -8 V-13.2 H-6.7 L0 -19.4 L6.7 -13.2 H2.4 V-8 Z" fill="#000"/></g><circle r="10.3" fill="#000"/></svg><div class="wt" style="left:208.4px;top:668.5999999999999px;color:#00ff00">25</div><svg class="abs" style="left:258.0px;top:653.8px" width="44" height="44" viewBox="-22 -22 44 44"><g transform="rotate(270)"><path d="M-2.4 -8 V-13.2 H-6.7 L0 -19.4 L6.7 -13.2 H2.4 V-8 Z" fill="#000"/></g><circle r="10.3" fill="#000"/></svg><div class="wt" style="left:268.4px;top:668.5999999999999px;color:#00ff00">30</div><svg class="abs" style="left:318.0px;top:653.8px" width="44" height="44" viewBox="-22 -22 44 44"><g transform="rotate(270)"><path d="M-2.4 -8 V-13.2 H-6.7 L0 -19.4 L6.7 -13.2 H2.4 V-8 Z" fill="#000"/></g><circle r="10.3" fill="#000"/></svg><div class="wt" style="left:328.4px;top:668.5999999999999px;color:#00ff00">30</div><svg class="abs" style="left:378.0px;top:653.8px" width="44" height="44" viewBox="-22 -22 44 44"><g transform="rotate(270)"><path d="M-2.4 -8 V-13.2 H-6.7 L0 -19.4 L6.7 -13.2 H2.4 V-8 Z" fill="#000"/></g><circle r="10.3" fill="#000"/></svg><div class="wt" style="left:388.4px;top:668.5999999999999px;color:#00ff00">25</div><svg class="abs" style="left:438.0px;top:653.8px" width="44" height="44" viewBox="-22 -22 44 44"><g transform="rotate(180)"><path d="M-2.4 -8 V-13.2 H-6.7 L0 -19.4 L6.7 -13.2 H2.4 V-8 Z" fill="#000"/></g><circle r="10.3" fill="#000"/></svg><div class="wt" style="left:448.4px;top:668.5999999999999px;color:#fff">10</div><svg class="abs" style="left:498.0px;top:653.8px" width="44" height="44" viewBox="-22 -22 44 44"><g transform="rotate(180)"><path d="M-2.4 -8 V-13.2 H-6.7 L0 -19.4 L6.7 -13.2 H2.4 V-8 Z" fill="#000"/></g><circle r="10.3" fill="#000"/></svg><div class="wt" style="left:507.79999999999995px;top:668.5999999999999px;color:#fff">5</div><svg class="abs" style="left:558.0px;top:653.8px" width="44" height="44" viewBox="-22 -22 44 44"><g transform="rotate(180)"><path d="M-2.4 -8 V-13.2 H-6.7 L0 -19.4 L6.7 -13.2 H2.4 V-8 Z" fill="#000"/></g><circle r="10.3" fill="#000"/></svg><div class="wt" style="left:567.8px;top:668.5999999999999px;color:#fff">5</div><svg class="abs" style="left:618.0px;top:653.8px" width="44" height="44" viewBox="-22 -22 44 44"><g transform="rotate(157.5)"><path d="M-2.4 -8 V-13.2 H-6.7 L0 -19.4 L6.7 -13.2 H2.4 V-8 Z" fill="#000"/></g><circle r="10.3" fill="#000"/></svg><div class="wt" style="left:628.4px;top:668.5999999999999px;color:#fff">15</div><svg class="abs" style="left:678.0px;top:653.8px" width="44" height="44" viewBox="-22 -22 44 44"><g transform="rotate(112.5)"><path d="M-2.4 -8 V-13.2 H-6.7 L0 -19.4 L6.7 -13.2 H2.4 V-8 Z" fill="#000"/></g><circle r="10.3" fill="#000"/></svg><div class="wt" style="left:688.4px;top:668.5999999999999px;color:#00ff00">25</div><svg class="abs" style="left:738.0px;top:653.8px" width="44" height="44" viewBox="-22 -22 44 44"><g transform="rotate(112.5)"><path d="M-2.4 -8 V-13.2 H-6.7 L0 -19.4 L6.7 -13.2 H2.4 V-8 Z" fill="#000"/></g><circle r="10.3" fill="#000"/></svg><div class="wt" style="left:748.4px;top:668.5999999999999px;color:#fff200">45</div><svg class="abs" style="left:798.0px;top:653.8px" width="44" height="44" viewBox="-22 -22 44 44"><g transform="rotate(112.5)"><path d="M-2.4 -8 V-13.2 H-6.7 L0 -19.4 L6.7 -13.2 H2.4 V-8 Z" fill="#000"/></g><circle r="10.3" fill="#000"/></svg><div class="wt" style="left:808.4px;top:668.5999999999999px;color:#fff200">45</div><svg class="abs" style="left:858.5px;top:653.8px" width="44" height="44" viewBox="-22 -22 44 44"><g transform="rotate(135)"><path d="M-2.4 -8 V-13.2 H-6.7 L0 -19.4 L6.7 -13.2 H2.4 V-8 Z" fill="#000"/></g><circle r="10.3" fill="#000"/></svg><div class="wt" style="left:868.9px;top:668.5999999999999px;color:#fff200">50</div><svg class="abs" style="left:919.0px;top:653.8px" width="44" height="44" viewBox="-22 -22 44 44"><g transform="rotate(135)"><path d="M-2.4 -8 V-13.2 H-6.7 L0 -19.4 L6.7 -13.2 H2.4 V-8 Z" fill="#000"/></g><circle r="10.3" fill="#000"/></svg><div class="wt" style="left:929.4px;top:668.5999999999999px;color:#fff200">50</div><svg class="abs" style="left:979.5px;top:653.8px" width="44" height="44" viewBox="-22 -22 44 44"><g transform="rotate(135)"><path d="M-2.4 -8 V-13.2 H-6.7 L0 -19.4 L6.7 -13.2 H2.4 V-8 Z" fill="#000"/></g><circle r="10.3" fill="#000"/></svg><div class="wt" style="left:989.9px;top:668.5999999999999px;color:#00ff00">35</div><svg class="abs" style="left:1040.0px;top:653.8px" width="44" height="44" viewBox="-22 -22 44 44"><g transform="rotate(135)"><path d="M-2.4 -8 V-13.2 H-6.7 L0 -19.4 L6.7 -13.2 H2.4 V-8 Z" fill="#000"/></g><circle r="10.3" fill="#000"/></svg><div class="wt" style="left:1050.4px;top:668.5999999999999px;color:#00ff00">35</div><svg class="abs" style="left:1100.0px;top:653.8px" width="44" height="44" viewBox="-22 -22 44 44"><g transform="rotate(135)"><path d="M-2.4 -8 V-13.2 H-6.7 L0 -19.4 L6.7 -13.2 H2.4 V-8 Z" fill="#000"/></g><circle r="10.3" fill="#000"/></svg><div class="wt" style="left:1110.4px;top:668.5999999999999px;color:#00ff00">25</div><svg class="abs" style="left:1160.0px;top:653.8px" width="44" height="44" viewBox="-22 -22 44 44"><g transform="rotate(135)"><path d="M-2.4 -8 V-13.2 H-6.7 L0 -19.4 L6.7 -13.2 H2.4 V-8 Z" fill="#000"/></g><circle r="10.3" fill="#000"/></svg><div class="wt" style="left:1170.4px;top:668.5999999999999px;color:#00ff00">20</div><svg class="abs" style="left:1220.0px;top:653.8px" width="44" height="44" viewBox="-22 -22 44 44"><g transform="rotate(112.5)"><path d="M-2.4 -8 V-13.2 H-6.7 L0 -19.4 L6.7 -13.2 H2.4 V-8 Z" fill="#000"/></g><circle r="10.3" fill="#000"/></svg><div class="wt" style="left:1230.4px;top:668.5999999999999px;color:#00ff00">25</div><svg class="abs" style="left:1280.0px;top:653.8px" width="44" height="44" viewBox="-22 -22 44 44"><g transform="rotate(112.5)"><path d="M-2.4 -8 V-13.2 H-6.7 L0 -19.4 L6.7 -13.2 H2.4 V-8 Z" fill="#000"/></g><circle r="10.3" fill="#000"/></svg><div class="wt" style="left:1290.4px;top:668.5999999999999px;color:#00ff00">25</div><svg class="abs" style="left:1340.0px;top:653.8px" width="44" height="44" viewBox="-22 -22 44 44"><g transform="rotate(135)"><path d="M-2.4 -8 V-13.2 H-6.7 L0 -19.4 L6.7 -13.2 H2.4 V-8 Z" fill="#000"/></g><circle r="10.3" fill="#000"/></svg><div class="wt" style="left:1350.4px;top:668.5999999999999px;color:#00ff00">25</div><svg class="abs" style="left:1400.5px;top:653.8px" width="44" height="44" viewBox="-22 -22 44 44"><g transform="rotate(135)"><path d="M-2.4 -8 V-13.2 H-6.7 L0 -19.4 L6.7 -13.2 H2.4 V-8 Z" fill="#000"/></g><circle r="10.3" fill="#000"/></svg><div class="wt" style="left:1410.9px;top:668.5999999999999px;color:#00ff00">30</div><svg class="abs" style="left:1461.0px;top:653.8px" width="44" height="44" viewBox="-22 -22 44 44"><g transform="rotate(157.5)"><path d="M-2.4 -8 V-13.2 H-6.7 L0 -19.4 L6.7 -13.2 H2.4 V-8 Z" fill="#000"/></g><circle r="10.3" fill="#000"/></svg><div class="wt" style="left:1471.4px;top:668.5999999999999px;color:#00ff00">20</div><svg class="abs" style="left:1521.0px;top:653.8px" width="44" height="44" viewBox="-22 -22 44 44"><g transform="rotate(157.5)"><path d="M-2.4 -8 V-13.2 H-6.7 L0 -19.4 L6.7 -13.2 H2.4 V-8 Z" fill="#000"/></g><circle r="10.3" fill="#000"/></svg><div class="wt" style="left:1531.4px;top:668.5999999999999px;color:#00ff00">20</div><svg class="abs" style="left:1581.0px;top:653.8px" width="44" height="44" viewBox="-22 -22 44 44"><g transform="rotate(157.5)"><path d="M-2.4 -8 V-13.2 H-6.7 L0 -19.4 L6.7 -13.2 H2.4 V-8 Z" fill="#000"/></g><circle r="10.3" fill="#000"/></svg><div class="wt" style="left:1591.4px;top:668.5999999999999px;color:#fff">10</div><svg class="abs" style="left:1641.0px;top:653.8px" width="44" height="44" viewBox="-22 -22 44 44"><g transform="rotate(112.5)"><path d="M-2.4 -8 V-13.2 H-6.7 L0 -19.4 L6.7 -13.2 H2.4 V-8 Z" fill="#000"/></g><circle r="10.3" fill="#000"/></svg><div class="wt" style="left:1650.8000000000002px;top:668.5999999999999px;color:#fff">5</div><svg class="abs" style="left:1701.0px;top:653.8px" width="44" height="44" viewBox="-22 -22 44 44"><g transform="rotate(180)"><path d="M-2.4 -8 V-13.2 H-6.7 L0 -19.4 L6.7 -13.2 H2.4 V-8 Z" fill="#000"/></g><circle r="10.3" fill="#000"/></svg><div class="wt" style="left:1710.8000000000002px;top:668.5999999999999px;color:#fff">5</div>
<svg class="abs" style="left:0;top:700px" width="1752" height="60" viewBox="0 0 1752 60"><defs><linearGradient id="sd" x1="0" y1="0" x2="0" y2="1"><stop offset="0" stop-color="#6071b1"/><stop offset="1" stop-color="#abb3d9"/></linearGradient><linearGradient id="cb" x1="0" y1="0" x2="0" y2="1"><stop offset="0" stop-color="#697581"/><stop offset="0.28" stop-color="#838c96"/><stop offset="0.6" stop-color="#b4b6bc"/><stop offset="1" stop-color="#d3d3d7"/></linearGradient><linearGradient id="rb" x1="0" y1="0" x2="0" y2="1"><stop offset="0" stop-color="#616d7d"/><stop offset="0.7" stop-color="#76828f"/><stop offset="1" stop-color="#6f7b89"/></linearGradient><linearGradient id="cg" gradientUnits="userSpaceOnUse" x1="0" y1="0" x2="0" y2="18.4"><stop offset="0" stop-color="#f9f9fc"/><stop offset="0.32" stop-color="#ebebf0"/><stop offset="0.52" stop-color="#cbccd3"/><stop offset="0.76" stop-color="#95979f"/><stop offset="1" stop-color="#6e727a"/></linearGradient><linearGradient id="ci" gradientUnits="userSpaceOnUse" x1="0" y1="6" x2="0" y2="18.4"><stop offset="0" stop-color="#7c8088"/><stop offset="1" stop-color="#5a5e66"/></linearGradient><linearGradient id="pa" gradientUnits="userSpaceOnUse" x1="0" y1="12.3" x2="0" y2="37.5"><stop offset="0" stop-color="#f3f3f8"/><stop offset="0.2" stop-color="#dedee6"/><stop offset="0.48" stop-color="#aeb0b9"/><stop offset="0.78" stop-color="#82858e"/><stop offset="1" stop-color="#6c6f78"/></linearGradient><linearGradient id="pb" gradientUnits="userSpaceOnUse" x1="0" y1="20.3" x2="0" y2="46.3"><stop offset="0" stop-color="#f3f3f8"/><stop offset="0.2" stop-color="#dedee6"/><stop offset="0.48" stop-color="#aeb0b9"/><stop offset="0.78" stop-color="#82858e"/><stop offset="1" stop-color="#6c6f78"/></linearGradient><linearGradient id="pc" gradientUnits="userSpaceOnUse" x1="0" y1="25.7" x2="0" y2="46.3"><stop offset="0" stop-color="#f3f3f8"/><stop offset="0.2" stop-color="#dedee6"/><stop offset="0.48" stop-color="#aeb0b9"/><stop offset="0.78" stop-color="#82858e"/><stop offset="1" stop-color="#6c6f78"/></linearGradient><radialGradient id="sg" cx="0.5" cy="0.52" r="0.5"><stop offset="0" stop-color="#f9e67c"/><stop offset="1" stop-color="#f0c840"/></radialGradient><radialGradient id="gl" cx="0.5" cy="0.5" r="0.5"><stop offset="0.72" stop-color="#fff" stop-opacity="1"/><stop offset="1" stop-color="#fff" stop-opacity="0"/></radialGradient><linearGradient id="mg" x1="0.2" y1="0.2" x2="1" y2="0.9"><stop offset="0" stop-color="#ecedb2"/><stop offset="0.6" stop-color="#e8e8aa"/><stop offset="1" stop-color="#c2c288"/></linearGradient><filter id="bl" x="-20%" y="-20%" width="140%" height="140%"><feGaussianBlur stdDeviation="0.9"/></filter><filter id="b2" x="-20%" y="-20%" width="140%" height="140%"><feGaussianBlur stdDeviation="0.5"/></filter><clipPath id="ic"><rect x="0" y="0" width="59" height="59"/></clipPath></defs><g transform="translate(70 0)" clip-path="url(#ic)"><rect width="59" height="59" fill="#0e0e15"/><circle cx="20.3" cy="22" r="16" fill="#e9e9ae"/><circle cx="9.6" cy="18.6" r="2" fill="#d7d79c"/><circle cx="19.3" cy="16.5" r="2.6" fill="#d7d79c"/><circle cx="16.8" cy="25.3" r="2" fill="#d7d79c"/><g><g fill="#cfcfd7" stroke="#cfcfd7" stroke-width="0.9"><rect x="18" y="26" width="46" height="11.5" rx="5"/><circle cx="26.5" cy="24.5" r="6.3"/><circle cx="39" cy="19.5" r="7.2"/><circle cx="49" cy="22.5" r="6.4"/><circle cx="56" cy="27" r="6"/><circle cx="21.8" cy="30.6" r="3.8"/></g><g fill="url(#pa)"><rect x="18" y="26" width="46" height="11.5" rx="5"/><circle cx="26.5" cy="24.5" r="6.3"/><circle cx="39" cy="19.5" r="7.2"/><circle cx="49" cy="22.5" r="6.4"/><circle cx="56" cy="27" r="6"/><circle cx="21.8" cy="30.6" r="3.8"/></g></g><g><g fill="#cfcfd7" stroke="#cfcfd7" stroke-width="0.9"><rect x="23" y="33" width="42" height="13.3" rx="5.5"/><circle cx="33" cy="30.5" r="5.6"/><circle cx="43.2" cy="26.8" r="6.5"/><circle cx="52" cy="30" r="6"/><circle cx="27.4" cy="38.6" r="4.4"/></g><g fill="url(#pb)"><rect x="23" y="33" width="42" height="13.3" rx="5.5"/><circle cx="33" cy="30.5" r="5.6"/><circle cx="43.2" cy="26.8" r="6.5"/><circle cx="52" cy="30" r="6"/><circle cx="27.4" cy="38.6" r="4.4"/></g></g><g><g fill="#cfcfd7" stroke="#cfcfd7" stroke-width="0.9"><rect x="37.3" y="38" width="30" height="8.3" rx="4.5"/><circle cx="45" cy="36.2" r="5"/><circle cx="53.2" cy="32.2" r="6.5"/><circle cx="60" cy="36" r="5"/><circle cx="41" cy="42.3" r="3.8"/></g><g fill="url(#pc)"><rect x="37.3" y="38" width="30" height="8.3" rx="4.5"/><circle cx="45" cy="36.2" r="5"/><circle cx="53.2" cy="32.2" r="6.5"/><circle cx="60" cy="36" r="5"/><circle cx="41" cy="42.3" r="3.8"/></g></g></g><rect x="70" y="59" width="59" height="1" fill="#2a5a84"/><g transform="translate(131 0)" clip-path="url(#ic)"><rect width="59" height="59" fill="url(#sd)"/><g filter="url(#bl)"><path d="M26.6 14.0 L29.4 3.7 L32.2 14.0 Z" fill="#ecd65e"/><path d="M32.4 14.0 L39.0 5.6 L37.7 16.2 Z" fill="#ecd65e"/><path d="M37.8 16.3 L47.1 11.0 L41.8 20.3 Z" fill="#ecd65e"/><path d="M41.9 20.4 L52.5 19.1 L44.1 25.7 Z" fill="#ecd65e"/><path d="M44.1 25.9 L54.4 28.7 L44.1 31.5 Z" fill="#ecd65e"/><path d="M44.1 31.7 L52.5 38.3 L41.9 37.0 Z" fill="#ecd65e"/><path d="M41.8 37.1 L47.1 46.4 L37.8 41.1 Z" fill="#ecd65e"/><path d="M37.7 41.2 L39.0 51.8 L32.4 43.4 Z" fill="#ecd65e"/><path d="M32.2 43.4 L29.4 53.7 L26.6 43.4 Z" fill="#ecd65e"/><path d="M26.4 43.4 L19.8 51.8 L21.1 41.2 Z" fill="#ecd65e"/><path d="M21.0 41.1 L11.7 46.4 L17.0 37.1 Z" fill="#ecd65e"/><path d="M16.9 37.0 L6.3 38.3 L14.7 31.7 Z" fill="#ecd65e"/><path d="M14.7 31.5 L4.4 28.7 L14.7 25.9 Z" fill="#ecd65e"/><path d="M14.7 25.7 L6.3 19.1 L16.9 20.4 Z" fill="#ecd65e"/><path d="M17.0 20.3 L11.7 11.0 L21.0 16.3 Z" fill="#ecd65e"/><path d="M21.1 16.2 L19.8 5.6 L26.4 14.0 Z" fill="#ecd65e"/></g><circle cx="29.4" cy="28.7" r="20.5" fill="url(#gl)"/><circle cx="29.4" cy="28.7" r="14.5" fill="url(#sg)"/><g transform="translate(11.7 10.97) scale(0.856)"><g fill="#cfcfd7" stroke="#cfcfd7" stroke-width="0.9"><rect x="18" y="26" width="46" height="11.5" rx="5"/><circle cx="26.5" cy="24.5" r="6.3"/><circle cx="39" cy="19.5" r="7.2"/><circle cx="49" cy="22.5" r="6.4"/><circle cx="56" cy="27" r="6"/><circle cx="21.8" cy="30.6" r="3.8"/></g><g fill="url(#pa)"><rect x="18" y="26" width="46" height="11.5" rx="5"/><circle cx="26.5" cy="24.5" r="6.3"/><circle cx="39" cy="19.5" r="7.2"/><circle cx="49" cy="22.5" r="6.4"/><circle cx="56" cy="27" r="6"/><circle cx="21.8" cy="30.6" r="3.8"/></g></g><g transform="translate(6.86 15.2) scale(0.788)"><g fill="#cfcfd7" stroke="#cfcfd7" stroke-width="0.9"><rect x="23" y="33" width="42" height="13.3" rx="5.5"/><circle cx="33" cy="30.5" r="5.6"/><circle cx="43.2" cy="26.8" r="6.5"/><circle cx="52" cy="30" r="6"/><circle cx="27.4" cy="38.6" r="4.4"/></g><g fill="url(#pb)"><rect x="23" y="33" width="42" height="13.3" rx="5.5"/><circle cx="33" cy="30.5" r="5.6"/><circle cx="43.2" cy="26.8" r="6.5"/><circle cx="52" cy="30" r="6"/><circle cx="27.4" cy="38.6" r="4.4"/></g></g><g transform="translate(14.4 12.1) scale(0.75 0.855)"><g fill="#cfcfd7" stroke="#cfcfd7" stroke-width="0.9"><rect x="37.3" y="38" width="30" height="8.3" rx="4.5"/><circle cx="45" cy="36.2" r="5"/><circle cx="53.2" cy="32.2" r="6.5"/><circle cx="60" cy="36" r="5"/><circle cx="41" cy="42.3" r="3.8"/></g><g fill="url(#pc)"><rect x="37.3" y="38" width="30" height="8.3" rx="4.5"/><circle cx="45" cy="36.2" r="5"/><circle cx="53.2" cy="32.2" r="6.5"/><circle cx="60" cy="36" r="5"/><circle cx="41" cy="42.3" r="3.8"/></g></g></g><rect x="131" y="59" width="59" height="1" fill="#2a5a84"/><g transform="translate(191 0)" clip-path="url(#ic)"><rect width="59" height="59" fill="url(#cb)"/><g transform="translate(-12.0 3.5) scale(0.900 0.950)"><g fill="#a4a6ae" stroke="#a4a6ae" stroke-width="0.7"><rect x="0" y="8.6" width="46.6" height="9.8" rx="5.2"/><circle cx="24.8" cy="7.2" r="7.2"/><circle cx="12.8" cy="9.3" r="6.0"/><circle cx="35.3" cy="9.0" r="6.4"/><circle cx="5.6" cy="12.4" r="4.6"/><circle cx="41.6" cy="12.2" r="4.8"/></g><g fill="url(#cg)"><rect x="0" y="8.6" width="46.6" height="9.8" rx="5.2"/><circle cx="24.8" cy="7.2" r="7.2"/><circle cx="12.8" cy="9.3" r="6.0"/><circle cx="35.3" cy="9.0" r="6.4"/><circle cx="5.6" cy="12.4" r="4.6"/><circle cx="41.6" cy="12.2" r="4.8"/></g><path d="M4.2 14.5 Q5.5 11.5 9 9.8 Q13.1 5.6 17.6 9.2 Q20.6 11.6 23.6 9.6 Q28.1 5.8 33 9.6 Q37.5 9.4 41 12.6 Q42.6 14 42.6 15 Q42.6 18.4 38 18.4 L8 18.4 Q4 18.4 4.2 14.5 Z" fill="url(#ci)" opacity="0.34" filter="url(#b2)"/></g><g transform="translate(34.0 3.5) scale(0.900 0.950)"><g fill="#a4a6ae" stroke="#a4a6ae" stroke-width="0.7"><rect x="0" y="8.6" width="46.6" height="9.8" rx="5.2"/><circle cx="24.8" cy="7.2" r="7.2"/><circle cx="12.8" cy="9.3" r="6.0"/><circle cx="35.3" cy="9.0" r="6.4"/><circle cx="5.6" cy="12.4" r="4.6"/><circle cx="41.6" cy="12.2" r="4.8"/></g><g fill="url(#cg)"><rect x="0" y="8.6" width="46.6" height="9.8" rx="5.2"/><circle cx="24.8" cy="7.2" r="7.2"/><circle cx="12.8" cy="9.3" r="6.0"/><circle cx="35.3" cy="9.0" r="6.4"/><circle cx="5.6" cy="12.4" r="4.6"/><circle cx="41.6" cy="12.2" r="4.8"/></g><path d="M4.2 14.5 Q5.5 11.5 9 9.8 Q13.1 5.6 17.6 9.2 Q20.6 11.6 23.6 9.6 Q28.1 5.8 33 9.6 Q37.5 9.4 41 12.6 Q42.6 14 42.6 15 Q42.6 18.4 38 18.4 L8 18.4 Q4 18.4 4.2 14.5 Z" fill="url(#ci)" opacity="0.34" filter="url(#b2)"/></g><g transform="translate(14.0 7.7) scale(1.000 1.000)"><g fill="#a4a6ae" stroke="#a4a6ae" stroke-width="0.7"><rect x="0" y="8.6" width="46.6" height="9.8" rx="5.2"/><circle cx="24.8" cy="7.2" r="7.2"/><circle cx="12.8" cy="9.3" r="6.0"/><circle cx="35.3" cy="9.0" r="6.4"/><circle cx="5.6" cy="12.4" r="4.6"/><circle cx="41.6" cy="12.2" r="4.8"/></g><g fill="url(#cg)"><rect x="0" y="8.6" width="46.6" height="9.8" rx="5.2"/><circle cx="24.8" cy="7.2" r="7.2"/><circle cx="12.8" cy="9.3" r="6.0"/><circle cx="35.3" cy="9.0" r="6.4"/><circle cx="5.6" cy="12.4" r="4.6"/><circle cx="41.6" cy="12.2" r="4.8"/></g><path d="M4.2 14.5 Q5.5 11.5 9 9.8 Q13.1 5.6 17.6 9.2 Q20.6 11.6 23.6 9.6 Q28.1 5.8 33 9.6 Q37.5 9.4 41 12.6 Q42.6 14 42.6 15 Q42.6 18.4 38 18.4 L8 18.4 Q4 18.4 4.2 14.5 Z" fill="url(#ci)" opacity="0.34" filter="url(#b2)"/></g><g transform="translate(-17.0 11.9) scale(1.000 1.000)"><g fill="#a4a6ae" stroke="#a4a6ae" stroke-width="0.7"><rect x="0" y="8.6" width="46.6" height="9.8" rx="5.2"/><circle cx="24.8" cy="7.2" r="7.2"/><circle cx="12.8" cy="9.3" r="6.0"/><circle cx="35.3" cy="9.0" r="6.4"/><circle cx="5.6" cy="12.4" r="4.6"/><circle cx="41.6" cy="12.2" r="4.8"/></g><g fill="url(#cg)"><rect x="0" y="8.6" width="46.6" height="9.8" rx="5.2"/><circle cx="24.8" cy="7.2" r="7.2"/><circle cx="12.8" cy="9.3" r="6.0"/><circle cx="35.3" cy="9.0" r="6.4"/><circle cx="5.6" cy="12.4" r="4.6"/><circle cx="41.6" cy="12.2" r="4.8"/></g><path d="M4.2 14.5 Q5.5 11.5 9 9.8 Q13.1 5.6 17.6 9.2 Q20.6 11.6 23.6 9.6 Q28.1 5.8 33 9.6 Q37.5 9.4 41 12.6 Q42.6 14 42.6 15 Q42.6 18.4 38 18.4 L8 18.4 Q4 18.4 4.2 14.5 Z" fill="url(#ci)" opacity="0.34" filter="url(#b2)"/></g><g transform="translate(3.9 17.4) scale(1.000 1.000)"><g fill="#a4a6ae" stroke="#a4a6ae" stroke-width="0.7"><rect x="0" y="8.6" width="46.6" height="9.8" rx="5.2"/><circle cx="24.8" cy="7.2" r="7.2"/><circle cx="12.8" cy="9.3" r="6.0"/><circle cx="35.3" cy="9.0" r="6.4"/><circle cx="5.6" cy="12.4" r="4.6"/><circle cx="41.6" cy="12.2" r="4.8"/></g><g fill="url(#cg)"><rect x="0" y="8.6" width="46.6" height="9.8" rx="5.2"/><circle cx="24.8" cy="7.2" r="7.2"/><circle cx="12.8" cy="9.3" r="6.0"/><circle cx="35.3" cy="9.0" r="6.4"/><circle cx="5.6" cy="12.4" r="4.6"/><circle cx="41.6" cy="12.2" r="4.8"/></g><path d="M4.2 14.5 Q5.5 11.5 9 9.8 Q13.1 5.6 17.6 9.2 Q20.6 11.6 23.6 9.6 Q28.1 5.8 33 9.6 Q37.5 9.4 41 12.6 Q42.6 14 42.6 15 Q42.6 18.4 38 18.4 L8 18.4 Q4 18.4 4.2 14.5 Z" fill="url(#ci)" opacity="0.34" filter="url(#b2)"/></g></g><rect x="191" y="59" width="59" height="1" fill="#2a5a84"/><g transform="translate(251 0)" clip-path="url(#ic)"><rect width="59" height="59" fill="#0e0e15"/><g transform="translate(-12.0 3.5) scale(0.900 0.950)"><g fill="#a4a6ae" stroke="#a4a6ae" stroke-width="0.7"><rect x="0" y="8.6" width="46.6" height="9.8" rx="5.2"/><circle cx="24.8" cy="7.2" r="7.2"/><circle cx="12.8" cy="9.3" r="6.0"/><circle cx="35.3" cy="9.0" r="6.4"/><circle cx="5.6" cy="12.4" r="4.6"/><circle cx="41.6" cy="12.2" r="4.8"/></g><g fill="url(#cg)"><rect x="0" y="8.6" width="46.6" height="9.8" rx="5.2"/><circle cx="24.8" cy="7.2" r="7.2"/><circle cx="12.8" cy="9.3" r="6.0"/><circle cx="35.3" cy="9.0" r="6.4"/><circle cx="5.6" cy="12.4" r="4.6"/><circle cx="41.6" cy="12.2" r="4.8"/></g><path d="M4.2 14.5 Q5.5 11.5 9 9.8 Q13.1 5.6 17.6 9.2 Q20.6 11.6 23.6 9.6 Q28.1 5.8 33 9.6 Q37.5 9.4 41 12.6 Q42.6 14 42.6 15 Q42.6 18.4 38 18.4 L8 18.4 Q4 18.4 4.2 14.5 Z" fill="url(#ci)" opacity="0.34" filter="url(#b2)"/></g><g transform="translate(34.0 3.5) scale(0.900 0.950)"><g fill="#a4a6ae" stroke="#a4a6ae" stroke-width="0.7"><rect x="0" y="8.6" width="46.6" height="9.8" rx="5.2"/><circle cx="24.8" cy="7.2" r="7.2"/><circle cx="12.8" cy="9.3" r="6.0"/><circle cx="35.3" cy="9.0" r="6.4"/><circle cx="5.6" cy="12.4" r="4.6"/><circle cx="41.6" cy="12.2" r="4.8"/></g><g fill="url(#cg)"><rect x="0" y="8.6" width="46.6" height="9.8" rx="5.2"/><circle cx="24.8" cy="7.2" r="7.2"/><circle cx="12.8" cy="9.3" r="6.0"/><circle cx="35.3" cy="9.0" r="6.4"/><circle cx="5.6" cy="12.4" r="4.6"/><circle cx="41.6" cy="12.2" r="4.8"/></g><path d="M4.2 14.5 Q5.5 11.5 9 9.8 Q13.1 5.6 17.6 9.2 Q20.6 11.6 23.6 9.6 Q28.1 5.8 33 9.6 Q37.5 9.4 41 12.6 Q42.6 14 42.6 15 Q42.6 18.4 38 18.4 L8 18.4 Q4 18.4 4.2 14.5 Z" fill="url(#ci)" opacity="0.34" filter="url(#b2)"/></g><g transform="translate(14.0 7.7) scale(1.000 1.000)"><g fill="#a4a6ae" stroke="#a4a6ae" stroke-width="0.7"><rect x="0" y="8.6" width="46.6" height="9.8" rx="5.2"/><circle cx="24.8" cy="7.2" r="7.2"/><circle cx="12.8" cy="9.3" r="6.0"/><circle cx="35.3" cy="9.0" r="6.4"/><circle cx="5.6" cy="12.4" r="4.6"/><circle cx="41.6" cy="12.2" r="4.8"/></g><g fill="url(#cg)"><rect x="0" y="8.6" width="46.6" height="9.8" rx="5.2"/><circle cx="24.8" cy="7.2" r="7.2"/><circle cx="12.8" cy="9.3" r="6.0"/><circle cx="35.3" cy="9.0" r="6.4"/><circle cx="5.6" cy="12.4" r="4.6"/><circle cx="41.6" cy="12.2" r="4.8"/></g><path d="M4.2 14.5 Q5.5 11.5 9 9.8 Q13.1 5.6 17.6 9.2 Q20.6 11.6 23.6 9.6 Q28.1 5.8 33 9.6 Q37.5 9.4 41 12.6 Q42.6 14 42.6 15 Q42.6 18.4 38 18.4 L8 18.4 Q4 18.4 4.2 14.5 Z" fill="url(#ci)" opacity="0.34" filter="url(#b2)"/></g><g transform="translate(-17.0 11.9) scale(1.000 1.000)"><g fill="#a4a6ae" stroke="#a4a6ae" stroke-width="0.7"><rect x="0" y="8.6" width="46.6" height="9.8" rx="5.2"/><circle cx="24.8" cy="7.2" r="7.2"/><circle cx="12.8" cy="9.3" r="6.0"/><circle cx="35.3" cy="9.0" r="6.4"/><circle cx="5.6" cy="12.4" r="4.6"/><circle cx="41.6" cy="12.2" r="4.8"/></g><g fill="url(#cg)"><rect x="0" y="8.6" width="46.6" height="9.8" rx="5.2"/><circle cx="24.8" cy="7.2" r="7.2"/><circle cx="12.8" cy="9.3" r="6.0"/><circle cx="35.3" cy="9.0" r="6.4"/><circle cx="5.6" cy="12.4" r="4.6"/><circle cx="41.6" cy="12.2" r="4.8"/></g><path d="M4.2 14.5 Q5.5 11.5 9 9.8 Q13.1 5.6 17.6 9.2 Q20.6 11.6 23.6 9.6 Q28.1 5.8 33 9.6 Q37.5 9.4 41 12.6 Q42.6 14 42.6 15 Q42.6 18.4 38 18.4 L8 18.4 Q4 18.4 4.2 14.5 Z" fill="url(#ci)" opacity="0.34" filter="url(#b2)"/></g><g transform="translate(4.9 17.4) scale(1.024 1.024)"><g fill="#a4a6ae" stroke="#a4a6ae" stroke-width="0.7"><rect x="0" y="8.6" width="46.6" height="9.8" rx="5.2"/><circle cx="24.8" cy="7.2" r="7.2"/><circle cx="12.8" cy="9.3" r="6.0"/><circle cx="35.3" cy="9.0" r="6.4"/><circle cx="5.6" cy="12.4" r="4.6"/><circle cx="41.6" cy="12.2" r="4.8"/></g><g fill="url(#cg)"><rect x="0" y="8.6" width="46.6" height="9.8" rx="5.2"/><circle cx="24.8" cy="7.2" r="7.2"/><circle cx="12.8" cy="9.3" r="6.0"/><circle cx="35.3" cy="9.0" r="6.4"/><circle cx="5.6" cy="12.4" r="4.6"/><circle cx="41.6" cy="12.2" r="4.8"/></g><path d="M4.2 14.5 Q5.5 11.5 9 9.8 Q13.1 5.6 17.6 9.2 Q20.6 11.6 23.6 9.6 Q28.1 5.8 33 9.6 Q37.5 9.4 41 12.6 Q42.6 14 42.6 15 Q42.6 18.4 38 18.4 L8 18.4 Q4 18.4 4.2 14.5 Z" fill="url(#ci)" opacity="0.34" filter="url(#b2)"/></g><path d="M8.6 39.1 L4 47.1" stroke="#857e97" stroke-width="1.3" fill="none"/><path d="M23.3 39.1 L18.7 47.1" stroke="#857e97" stroke-width="1.3" fill="none"/><path d="M38.4 39.1 L33.8 47.1" stroke="#857e97" stroke-width="1.3" fill="none"/><path d="M53 39.1 L48.4 47.1" stroke="#857e97" stroke-width="1.3" fill="none"/><path d="M13.2 45.4 L8.6 53.4" stroke="#857e97" stroke-width="1.3" fill="none"/><path d="M27.9 45.4 L23.3 53.4" stroke="#857e97" stroke-width="1.3" fill="none"/><path d="M42.7 45.4 L38.1 53.4" stroke="#857e97" stroke-width="1.3" fill="none"/><path d="M57.7 45.4 L53 53.4" stroke="#857e97" stroke-width="1.3" fill="none"/><path d="M2.8 52 L0 56.7" stroke="#857e97" stroke-width="1.3" fill="none"/><path d="M17.8 52 L13.2 59" stroke="#857e97" stroke-width="1.3" fill="none"/><path d="M32.5 52 L27.9 59" stroke="#857e97" stroke-width="1.3" fill="none"/><path d="M47.6 52 L43 59" stroke="#857e97" stroke-width="1.3" fill="none"/></g><rect x="251" y="59" width="59" height="1" fill="#2a5a84"/><g transform="translate(311 0)" clip-path="url(#ic)"><rect width="59" height="59" fill="#0e0e15"/><g transform="translate(-12.0 3.5) scale(0.900 0.950)"><g fill="#a4a6ae" stroke="#a4a6ae" stroke-width="0.7"><rect x="0" y="8.6" width="46.6" height="9.8" rx="5.2"/><circle cx="24.8" cy="7.2" r="7.2"/><circle cx="12.8" cy="9.3" r="6.0"/><circle cx="35.3" cy="9.0" r="6.4"/><circle cx="5.6" cy="12.4" r="4.6"/><circle cx="41.6" cy="12.2" r="4.8"/></g><g fill="url(#cg)"><rect x="0" y="8.6" width="46.6" height="9.8" rx="5.2"/><circle cx="24.8" cy="7.2" r="7.2"/><circle cx="12.8" cy="9.3" r="6.0"/><circle cx="35.3" cy="9.0" r="6.4"/><circle cx="5.6" cy="12.4" r="4.6"/><circle cx="41.6" cy="12.2" r="4.8"/></g><path d="M4.2 14.5 Q5.5 11.5 9 9.8 Q13.1 5.6 17.6 9.2 Q20.6 11.6 23.6 9.6 Q28.1 5.8 33 9.6 Q37.5 9.4 41 12.6 Q42.6 14 42.6 15 Q42.6 18.4 38 18.4 L8 18.4 Q4 18.4 4.2 14.5 Z" fill="url(#ci)" opacity="0.34" filter="url(#b2)"/></g><g transform="translate(34.0 3.5) scale(0.900 0.950)"><g fill="#a4a6ae" stroke="#a4a6ae" stroke-width="0.7"><rect x="0" y="8.6" width="46.6" height="9.8" rx="5.2"/><circle cx="24.8" cy="7.2" r="7.2"/><circle cx="12.8" cy="9.3" r="6.0"/><circle cx="35.3" cy="9.0" r="6.4"/><circle cx="5.6" cy="12.4" r="4.6"/><circle cx="41.6" cy="12.2" r="4.8"/></g><g fill="url(#cg)"><rect x="0" y="8.6" width="46.6" height="9.8" rx="5.2"/><circle cx="24.8" cy="7.2" r="7.2"/><circle cx="12.8" cy="9.3" r="6.0"/><circle cx="35.3" cy="9.0" r="6.4"/><circle cx="5.6" cy="12.4" r="4.6"/><circle cx="41.6" cy="12.2" r="4.8"/></g><path d="M4.2 14.5 Q5.5 11.5 9 9.8 Q13.1 5.6 17.6 9.2 Q20.6 11.6 23.6 9.6 Q28.1 5.8 33 9.6 Q37.5 9.4 41 12.6 Q42.6 14 42.6 15 Q42.6 18.4 38 18.4 L8 18.4 Q4 18.4 4.2 14.5 Z" fill="url(#ci)" opacity="0.34" filter="url(#b2)"/></g><g transform="translate(14.0 7.7) scale(1.000 1.000)"><g fill="#a4a6ae" stroke="#a4a6ae" stroke-width="0.7"><rect x="0" y="8.6" width="46.6" height="9.8" rx="5.2"/><circle cx="24.8" cy="7.2" r="7.2"/><circle cx="12.8" cy="9.3" r="6.0"/><circle cx="35.3" cy="9.0" r="6.4"/><circle cx="5.6" cy="12.4" r="4.6"/><circle cx="41.6" cy="12.2" r="4.8"/></g><g fill="url(#cg)"><rect x="0" y="8.6" width="46.6" height="9.8" rx="5.2"/><circle cx="24.8" cy="7.2" r="7.2"/><circle cx="12.8" cy="9.3" r="6.0"/><circle cx="35.3" cy="9.0" r="6.4"/><circle cx="5.6" cy="12.4" r="4.6"/><circle cx="41.6" cy="12.2" r="4.8"/></g><path d="M4.2 14.5 Q5.5 11.5 9 9.8 Q13.1 5.6 17.6 9.2 Q20.6 11.6 23.6 9.6 Q28.1 5.8 33 9.6 Q37.5 9.4 41 12.6 Q42.6 14 42.6 15 Q42.6 18.4 38 18.4 L8 18.4 Q4 18.4 4.2 14.5 Z" fill="url(#ci)" opacity="0.34" filter="url(#b2)"/></g><g transform="translate(-17.0 11.9) scale(1.000 1.000)"><g fill="#a4a6ae" stroke="#a4a6ae" stroke-width="0.7"><rect x="0" y="8.6" width="46.6" height="9.8" rx="5.2"/><circle cx="24.8" cy="7.2" r="7.2"/><circle cx="12.8" cy="9.3" r="6.0"/><circle cx="35.3" cy="9.0" r="6.4"/><circle cx="5.6" cy="12.4" r="4.6"/><circle cx="41.6" cy="12.2" r="4.8"/></g><g fill="url(#cg)"><rect x="0" y="8.6" width="46.6" height="9.8" rx="5.2"/><circle cx="24.8" cy="7.2" r="7.2"/><circle cx="12.8" cy="9.3" r="6.0"/><circle cx="35.3" cy="9.0" r="6.4"/><circle cx="5.6" cy="12.4" r="4.6"/><circle cx="41.6" cy="12.2" r="4.8"/></g><path d="M4.2 14.5 Q5.5 11.5 9 9.8 Q13.1 5.6 17.6 9.2 Q20.6 11.6 23.6 9.6 Q28.1 5.8 33 9.6 Q37.5 9.4 41 12.6 Q42.6 14 42.6 15 Q42.6 18.4 38 18.4 L8 18.4 Q4 18.4 4.2 14.5 Z" fill="url(#ci)" opacity="0.34" filter="url(#b2)"/></g><g transform="translate(4.9 17.4) scale(1.024 1.024)"><g fill="#a4a6ae" stroke="#a4a6ae" stroke-width="0.7"><rect x="0" y="8.6" width="46.6" height="9.8" rx="5.2"/><circle cx="24.8" cy="7.2" r="7.2"/><circle cx="12.8" cy="9.3" r="6.0"/><circle cx="35.3" cy="9.0" r="6.4"/><circle cx="5.6" cy="12.4" r="4.6"/><circle cx="41.6" cy="12.2" r="4.8"/></g><g fill="url(#cg)"><rect x="0" y="8.6" width="46.6" height="9.8" rx="5.2"/><circle cx="24.8" cy="7.2" r="7.2"/><circle cx="12.8" cy="9.3" r="6.0"/><circle cx="35.3" cy="9.0" r="6.4"/><circle cx="5.6" cy="12.4" r="4.6"/><circle cx="41.6" cy="12.2" r="4.8"/></g><path d="M4.2 14.5 Q5.5 11.5 9 9.8 Q13.1 5.6 17.6 9.2 Q20.6 11.6 23.6 9.6 Q28.1 5.8 33 9.6 Q37.5 9.4 41 12.6 Q42.6 14 42.6 15 Q42.6 18.4 38 18.4 L8 18.4 Q4 18.4 4.2 14.5 Z" fill="url(#ci)" opacity="0.34" filter="url(#b2)"/></g><path d="M8.6 39.1 L4 47.1" stroke="#857e97" stroke-width="1.3" fill="none"/><path d="M23.3 39.1 L18.7 47.1" stroke="#857e97" stroke-width="1.3" fill="none"/><path d="M38.4 39.1 L33.8 47.1" stroke="#857e97" stroke-width="1.3" fill="none"/><path d="M53 39.1 L48.4 47.1" stroke="#857e97" stroke-width="1.3" fill="none"/><path d="M13.2 45.4 L8.6 53.4" stroke="#857e97" stroke-width="1.3" fill="none"/><path d="M27.9 45.4 L23.3 53.4" stroke="#857e97" stroke-width="1.3" fill="none"/><path d="M42.7 45.4 L38.1 53.4" stroke="#857e97" stroke-width="1.3" fill="none"/><path d="M57.7 45.4 L53 53.4" stroke="#857e97" stroke-width="1.3" fill="none"/><path d="M2.8 52 L0 56.7" stroke="#857e97" stroke-width="1.3" fill="none"/><path d="M17.8 52 L13.2 59" stroke="#857e97" stroke-width="1.3" fill="none"/><path d="M32.5 52 L27.9 59" stroke="#857e97" stroke-width="1.3" fill="none"/><path d="M47.6 52 L43 59" stroke="#857e97" stroke-width="1.3" fill="none"/></g><rect x="311" y="59" width="59" height="1" fill="#2a5a84"/><g transform="translate(371 0)" clip-path="url(#ic)"><rect width="59" height="59" fill="url(#rb)"/><g transform="translate(-12.0 3.5) scale(0.900 0.950)"><g fill="#a4a6ae" stroke="#a4a6ae" stroke-width="0.7"><rect x="0" y="8.6" width="46.6" height="9.8" rx="5.2"/><circle cx="24.8" cy="7.2" r="7.2"/><circle cx="12.8" cy="9.3" r="6.0"/><circle cx="35.3" cy="9.0" r="6.4"/><circle cx="5.6" cy="12.4" r="4.6"/><circle cx="41.6" cy="12.2" r="4.8"/></g><g fill="url(#cg)"><rect x="0" y="8.6" width="46.6" height="9.8" rx="5.2"/><circle cx="24.8" cy="7.2" r="7.2"/><circle cx="12.8" cy="9.3" r="6.0"/><circle cx="35.3" cy="9.0" r="6.4"/><circle cx="5.6" cy="12.4" r="4.6"/><circle cx="41.6" cy="12.2" r="4.8"/></g><path d="M4.2 14.5 Q5.5 11.5 9 9.8 Q13.1 5.6 17.6 9.2 Q20.6 11.6 23.6 9.6 Q28.1 5.8 33 9.6 Q37.5 9.4 41 12.6 Q42.6 14 42.6 15 Q42.6 18.4 38 18.4 L8 18.4 Q4 18.4 4.2 14.5 Z" fill="url(#ci)" opacity="0.34" filter="url(#b2)"/></g><g transform="translate(34.0 3.5) scale(0.900 0.950)"><g fill="#a4a6ae" stroke="#a4a6ae" stroke-width="0.7"><rect x="0" y="8.6" width="46.6" height="9.8" rx="5.2"/><circle cx="24.8" cy="7.2" r="7.2"/><circle cx="12.8" cy="9.3" r="6.0"/><circle cx="35.3" cy="9.0" r="6.4"/><circle cx="5.6" cy="12.4" r="4.6"/><circle cx="41.6" cy="12.2" r="4.8"/></g><g fill="url(#cg)"><rect x="0" y="8.6" width="46.6" height="9.8" rx="5.2"/><circle cx="24.8" cy="7.2" r="7.2"/><circle cx="12.8" cy="9.3" r="6.0"/><circle cx="35.3" cy="9.0" r="6.4"/><circle cx="5.6" cy="12.4" r="4.6"/><circle cx="41.6" cy="12.2" r="4.8"/></g><path d="M4.2 14.5 Q5.5 11.5 9 9.8 Q13.1 5.6 17.6 9.2 Q20.6 11.6 23.6 9.6 Q28.1 5.8 33 9.6 Q37.5 9.4 41 12.6 Q42.6 14 42.6 15 Q42.6 18.4 38 18.4 L8 18.4 Q4 18.4 4.2 14.5 Z" fill="url(#ci)" opacity="0.34" filter="url(#b2)"/></g><g transform="translate(14.0 7.7) scale(1.000 1.000)"><g fill="#a4a6ae" stroke="#a4a6ae" stroke-width="0.7"><rect x="0" y="8.6" width="46.6" height="9.8" rx="5.2"/><circle cx="24.8" cy="7.2" r="7.2"/><circle cx="12.8" cy="9.3" r="6.0"/><circle cx="35.3" cy="9.0" r="6.4"/><circle cx="5.6" cy="12.4" r="4.6"/><circle cx="41.6" cy="12.2" r="4.8"/></g><g fill="url(#cg)"><rect x="0" y="8.6" width="46.6" height="9.8" rx="5.2"/><circle cx="24.8" cy="7.2" r="7.2"/><circle cx="12.8" cy="9.3" r="6.0"/><circle cx="35.3" cy="9.0" r="6.4"/><circle cx="5.6" cy="12.4" r="4.6"/><circle cx="41.6" cy="12.2" r="4.8"/></g><path d="M4.2 14.5 Q5.5 11.5 9 9.8 Q13.1 5.6 17.6 9.2 Q20.6 11.6 23.6 9.6 Q28.1 5.8 33 9.6 Q37.5 9.4 41 12.6 Q42.6 14 42.6 15 Q42.6 18.4 38 18.4 L8 18.4 Q4 18.4 4.2 14.5 Z" fill="url(#ci)" opacity="0.34" filter="url(#b2)"/></g><g transform="translate(-17.0 11.9) scale(1.000 1.000)"><g fill="#a4a6ae" stroke="#a4a6ae" stroke-width="0.7"><rect x="0" y="8.6" width="46.6" height="9.8" rx="5.2"/><circle cx="24.8" cy="7.2" r="7.2"/><circle cx="12.8" cy="9.3" r="6.0"/><circle cx="35.3" cy="9.0" r="6.4"/><circle cx="5.6" cy="12.4" r="4.6"/><circle cx="41.6" cy="12.2" r="4.8"/></g><g fill="url(#cg)"><rect x="0" y="8.6" width="46.6" height="9.8" rx="5.2"/><circle cx="24.8" cy="7.2" r="7.2"/><circle cx="12.8" cy="9.3" r="6.0"/><circle cx="35.3" cy="9.0" r="6.4"/><circle cx="5.6" cy="12.4" r="4.6"/><circle cx="41.6" cy="12.2" r="4.8"/></g><path d="M4.2 14.5 Q5.5 11.5 9 9.8 Q13.1 5.6 17.6 9.2 Q20.6 11.6 23.6 9.6 Q28.1 5.8 33 9.6 Q37.5 9.4 41 12.6 Q42.6 14 42.6 15 Q42.6 18.4 38 18.4 L8 18.4 Q4 18.4 4.2 14.5 Z" fill="url(#ci)" opacity="0.34" filter="url(#b2)"/></g><g transform="translate(7.8 17.4) scale(1.024 1.024)"><g fill="#a4a6ae" stroke="#a4a6ae" stroke-width="0.7"><rect x="0" y="8.6" width="46.6" height="9.8" rx="5.2"/><circle cx="24.8" cy="7.2" r="7.2"/><circle cx="12.8" cy="9.3" r="6.0"/><circle cx="35.3" cy="9.0" r="6.4"/><circle cx="5.6" cy="12.4" r="4.6"/><circle cx="41.6" cy="12.2" r="4.8"/></g><g fill="url(#cg)"><rect x="0" y="8.6" width="46.6" height="9.8" rx="5.2"/><circle cx="24.8" cy="7.2" r="7.2"/><circle cx="12.8" cy="9.3" r="6.0"/><circle cx="35.3" cy="9.0" r="6.4"/><circle cx="5.6" cy="12.4" r="4.6"/><circle cx="41.6" cy="12.2" r="4.8"/></g><path d="M4.2 14.5 Q5.5 11.5 9 9.8 Q13.1 5.6 17.6 9.2 Q20.6 11.6 23.6 9.6 Q28.1 5.8 33 9.6 Q37.5 9.4 41 12.6 Q42.6 14 42.6 15 Q42.6 18.4 38 18.4 L8 18.4 Q4 18.4 4.2 14.5 Z" fill="url(#ci)" opacity="0.34" filter="url(#b2)"/></g><path d="M16.5 39.1 L11.9 47.5" stroke="#cbbdd6" stroke-width="1.5" fill="none"/><path d="M46.3 39.1 L42 47.5" stroke="#ffffff" stroke-width="1.5" fill="none"/><path d="M29.5 47.1 L25.3 55.1" stroke="#cbbdd6" stroke-width="1.5" fill="none"/></g><rect x="371" y="59" width="59" height="1" fill="#2a5a84"/><g transform="translate(431 0)" clip-path="url(#ic)"><rect width="59" height="59" fill="url(#cb)"/><g transform="translate(-12.0 3.5) scale(0.900 0.950)"><g fill="#a4a6ae" stroke="#a4a6ae" stroke-width="0.7"><rect x="0" y="8.6" width="46.6" height="9.8" rx="5.2"/><circle cx="24.8" cy="7.2" r="7.2"/><circle cx="12.8" cy="9.3" r="6.0"/><circle cx="35.3" cy="9.0" r="6.4"/><circle cx="5.6" cy="12.4" r="4.6"/><circle cx="41.6" cy="12.2" r="4.8"/></g><g fill="url(#cg)"><rect x="0" y="8.6" width="46.6" height="9.8" rx="5.2"/><circle cx="24.8" cy="7.2" r="7.2"/><circle cx="12.8" cy="9.3" r="6.0"/><circle cx="35.3" cy="9.0" r="6.4"/><circle cx="5.6" cy="12.4" r="4.6"/><circle cx="41.6" cy="12.2" r="4.8"/></g><path d="M4.2 14.5 Q5.5 11.5 9 9.8 Q13.1 5.6 17.6 9.2 Q20.6 11.6 23.6 9.6 Q28.1 5.8 33 9.6 Q37.5 9.4 41 12.6 Q42.6 14 42.6 15 Q42.6 18.4 38 18.4 L8 18.4 Q4 18.4 4.2 14.5 Z" fill="url(#ci)" opacity="0.34" filter="url(#b2)"/></g><g transform="translate(34.0 3.5) scale(0.900 0.950)"><g fill="#a4a6ae" stroke="#a4a6ae" stroke-width="0.7"><rect x="0" y="8.6" width="46.6" height="9.8" rx="5.2"/><circle cx="24.8" cy="7.2" r="7.2"/><circle cx="12.8" cy="9.3" r="6.0"/><circle cx="35.3" cy="9.0" r="6.4"/><circle cx="5.6" cy="12.4" r="4.6"/><circle cx="41.6" cy="12.2" r="4.8"/></g><g fill="url(#cg)"><rect x="0" y="8.6" width="46.6" height="9.8" rx="5.2"/><circle cx="24.8" cy="7.2" r="7.2"/><circle cx="12.8" cy="9.3" r="6.0"/><circle cx="35.3" cy="9.0" r="6.4"/><circle cx="5.6" cy="12.4" r="4.6"/><circle cx="41.6" cy="12.2" r="4.8"/></g><path d="M4.2 14.5 Q5.5 11.5 9 9.8 Q13.1 5.6 17.6 9.2 Q20.6 11.6 23.6 9.6 Q28.1 5.8 33 9.6 Q37.5 9.4 41 12.6 Q42.6 14 42.6 15 Q42.6 18.4 38 18.4 L8 18.4 Q4 18.4 4.2 14.5 Z" fill="url(#ci)" opacity="0.34" filter="url(#b2)"/></g><g transform="translate(14.0 7.7) scale(1.000 1.000)"><g fill="#a4a6ae" stroke="#a4a6ae" stroke-width="0.7"><rect x="0" y="8.6" width="46.6" height="9.8" rx="5.2"/><circle cx="24.8" cy="7.2" r="7.2"/><circle cx="12.8" cy="9.3" r="6.0"/><circle cx="35.3" cy="9.0" r="6.4"/><circle cx="5.6" cy="12.4" r="4.6"/><circle cx="41.6" cy="12.2" r="4.8"/></g><g fill="url(#cg)"><rect x="0" y="8.6" width="46.6" height="9.8" rx="5.2"/><circle cx="24.8" cy="7.2" r="7.2"/><circle cx="12.8" cy="9.3" r="6.0"/><circle cx="35.3" cy="9.0" r="6.4"/><circle cx="5.6" cy="12.4" r="4.6"/><circle cx="41.6" cy="12.2" r="4.8"/></g><path d="M4.2 14.5 Q5.5 11.5 9 9.8 Q13.1 5.6 17.6 9.2 Q20.6 11.6 23.6 9.6 Q28.1 5.8 33 9.6 Q37.5 9.4 41 12.6 Q42.6 14 42.6 15 Q42.6 18.4 38 18.4 L8 18.4 Q4 18.4 4.2 14.5 Z" fill="url(#ci)" opacity="0.34" filter="url(#b2)"/></g><g transform="translate(-17.0 11.9) scale(1.000 1.000)"><g fill="#a4a6ae" stroke="#a4a6ae" stroke-width="0.7"><rect x="0" y="8.6" width="46.6" height="9.8" rx="5.2"/><circle cx="24.8" cy="7.2" r="7.2"/><circle cx="12.8" cy="9.3" r="6.0"/><circle cx="35.3" cy="9.0" r="6.4"/><circle cx="5.6" cy="12.4" r="4.6"/><circle cx="41.6" cy="12.2" r="4.8"/></g><g fill="url(#cg)"><rect x="0" y="8.6" width="46.6" height="9.8" rx="5.2"/><circle cx="24.8" cy="7.2" r="7.2"/><circle cx="12.8" cy="9.3" r="6.0"/><circle cx="35.3" cy="9.0" r="6.4"/><circle cx="5.6" cy="12.4" r="4.6"/><circle cx="41.6" cy="12.2" r="4.8"/></g><path d="M4.2 14.5 Q5.5 11.5 9 9.8 Q13.1 5.6 17.6 9.2 Q20.6 11.6 23.6 9.6 Q28.1 5.8 33 9.6 Q37.5 9.4 41 12.6 Q42.6 14 42.6 15 Q42.6 18.4 38 18.4 L8 18.4 Q4 18.4 4.2 14.5 Z" fill="url(#ci)" opacity="0.34" filter="url(#b2)"/></g><g transform="translate(3.9 17.4) scale(1.000 1.000)"><g fill="#a4a6ae" stroke="#a4a6ae" stroke-width="0.7"><rect x="0" y="8.6" width="46.6" height="9.8" rx="5.2"/><circle cx="24.8" cy="7.2" r="7.2"/><circle cx="12.8" cy="9.3" r="6.0"/><circle cx="35.3" cy="9.0" r="6.4"/><circle cx="5.6" cy="12.4" r="4.6"/><circle cx="41.6" cy="12.2" r="4.8"/></g><g fill="url(#cg)"><rect x="0" y="8.6" width="46.6" height="9.8" rx="5.2"/><circle cx="24.8" cy="7.2" r="7.2"/><circle cx="12.8" cy="9.3" r="6.0"/><circle cx="35.3" cy="9.0" r="6.4"/><circle cx="5.6" cy="12.4" r="4.6"/><circle cx="41.6" cy="12.2" r="4.8"/></g><path d="M4.2 14.5 Q5.5 11.5 9 9.8 Q13.1 5.6 17.6 9.2 Q20.6 11.6 23.6 9.6 Q28.1 5.8 33 9.6 Q37.5 9.4 41 12.6 Q42.6 14 42.6 15 Q42.6 18.4 38 18.4 L8 18.4 Q4 18.4 4.2 14.5 Z" fill="url(#ci)" opacity="0.34" filter="url(#b2)"/></g></g><rect x="431" y="59" width="59" height="1" fill="#2a5a84"/><g transform="translate(491 0)" clip-path="url(#ic)"><rect width="59" height="59" fill="#0e0e15"/><g transform="translate(-12.0 3.5) scale(0.900 0.950)"><g fill="#a4a6ae" stroke="#a4a6ae" stroke-width="0.7"><rect x="0" y="8.6" width="46.6" height="9.8" rx="5.2"/><circle cx="24.8" cy="7.2" r="7.2"/><circle cx="12.8" cy="9.3" r="6.0"/><circle cx="35.3" cy="9.0" r="6.4"/><circle cx="5.6" cy="12.4" r="4.6"/><circle cx="41.6" cy="12.2" r="4.8"/></g><g fill="url(#cg)"><rect x="0" y="8.6" width="46.6" height="9.8" rx="5.2"/><circle cx="24.8" cy="7.2" r="7.2"/><circle cx="12.8" cy="9.3" r="6.0"/><circle cx="35.3" cy="9.0" r="6.4"/><circle cx="5.6" cy="12.4" r="4.6"/><circle cx="41.6" cy="12.2" r="4.8"/></g><path d="M4.2 14.5 Q5.5 11.5 9 9.8 Q13.1 5.6 17.6 9.2 Q20.6 11.6 23.6 9.6 Q28.1 5.8 33 9.6 Q37.5 9.4 41 12.6 Q42.6 14 42.6 15 Q42.6 18.4 38 18.4 L8 18.4 Q4 18.4 4.2 14.5 Z" fill="url(#ci)" opacity="0.34" filter="url(#b2)"/></g><g transform="translate(34.0 3.5) scale(0.900 0.950)"><g fill="#a4a6ae" stroke="#a4a6ae" stroke-width="0.7"><rect x="0" y="8.6" width="46.6" height="9.8" rx="5.2"/><circle cx="24.8" cy="7.2" r="7.2"/><circle cx="12.8" cy="9.3" r="6.0"/><circle cx="35.3" cy="9.0" r="6.4"/><circle cx="5.6" cy="12.4" r="4.6"/><circle cx="41.6" cy="12.2" r="4.8"/></g><g fill="url(#cg)"><rect x="0" y="8.6" width="46.6" height="9.8" rx="5.2"/><circle cx="24.8" cy="7.2" r="7.2"/><circle cx="12.8" cy="9.3" r="6.0"/><circle cx="35.3" cy="9.0" r="6.4"/><circle cx="5.6" cy="12.4" r="4.6"/><circle cx="41.6" cy="12.2" r="4.8"/></g><path d="M4.2 14.5 Q5.5 11.5 9 9.8 Q13.1 5.6 17.6 9.2 Q20.6 11.6 23.6 9.6 Q28.1 5.8 33 9.6 Q37.5 9.4 41 12.6 Q42.6 14 42.6 15 Q42.6 18.4 38 18.4 L8 18.4 Q4 18.4 4.2 14.5 Z" fill="url(#ci)" opacity="0.34" filter="url(#b2)"/></g><g transform="translate(14.0 7.7) scale(1.000 1.000)"><g fill="#a4a6ae" stroke="#a4a6ae" stroke-width="0.7"><rect x="0" y="8.6" width="46.6" height="9.8" rx="5.2"/><circle cx="24.8" cy="7.2" r="7.2"/><circle cx="12.8" cy="9.3" r="6.0"/><circle cx="35.3" cy="9.0" r="6.4"/><circle cx="5.6" cy="12.4" r="4.6"/><circle cx="41.6" cy="12.2" r="4.8"/></g><g fill="url(#cg)"><rect x="0" y="8.6" width="46.6" height="9.8" rx="5.2"/><circle cx="24.8" cy="7.2" r="7.2"/><circle cx="12.8" cy="9.3" r="6.0"/><circle cx="35.3" cy="9.0" r="6.4"/><circle cx="5.6" cy="12.4" r="4.6"/><circle cx="41.6" cy="12.2" r="4.8"/></g><path d="M4.2 14.5 Q5.5 11.5 9 9.8 Q13.1 5.6 17.6 9.2 Q20.6 11.6 23.6 9.6 Q28.1 5.8 33 9.6 Q37.5 9.4 41 12.6 Q42.6 14 42.6 15 Q42.6 18.4 38 18.4 L8 18.4 Q4 18.4 4.2 14.5 Z" fill="url(#ci)" opacity="0.34" filter="url(#b2)"/></g><g transform="translate(-17.0 11.9) scale(1.000 1.000)"><g fill="#a4a6ae" stroke="#a4a6ae" stroke-width="0.7"><rect x="0" y="8.6" width="46.6" height="9.8" rx="5.2"/><circle cx="24.8" cy="7.2" r="7.2"/><circle cx="12.8" cy="9.3" r="6.0"/><circle cx="35.3" cy="9.0" r="6.4"/><circle cx="5.6" cy="12.4" r="4.6"/><circle cx="41.6" cy="12.2" r="4.8"/></g><g fill="url(#cg)"><rect x="0" y="8.6" width="46.6" height="9.8" rx="5.2"/><circle cx="24.8" cy="7.2" r="7.2"/><circle cx="12.8" cy="9.3" r="6.0"/><circle cx="35.3" cy="9.0" r="6.4"/><circle cx="5.6" cy="12.4" r="4.6"/><circle cx="41.6" cy="12.2" r="4.8"/></g><path d="M4.2 14.5 Q5.5 11.5 9 9.8 Q13.1 5.6 17.6 9.2 Q20.6 11.6 23.6 9.6 Q28.1 5.8 33 9.6 Q37.5 9.4 41 12.6 Q42.6 14 42.6 15 Q42.6 18.4 38 18.4 L8 18.4 Q4 18.4 4.2 14.5 Z" fill="url(#ci)" opacity="0.34" filter="url(#b2)"/></g><g transform="translate(7.8 17.4) scale(1.024 1.024)"><g fill="#a4a6ae" stroke="#a4a6ae" stroke-width="0.7"><rect x="0" y="8.6" width="46.6" height="9.8" rx="5.2"/><circle cx="24.8" cy="7.2" r="7.2"/><circle cx="12.8" cy="9.3" r="6.0"/><circle cx="35.3" cy="9.0" r="6.4"/><circle cx="5.6" cy="12.4" r="4.6"/><circle cx="41.6" cy="12.2" r="4.8"/></g><g fill="url(#cg)"><rect x="0" y="8.6" width="46.6" height="9.8" rx="5.2"/><circle cx="24.8" cy="7.2" r="7.2"/><circle cx="12.8" cy="9.3" r="6.0"/><circle cx="35.3" cy="9.0" r="6.4"/><circle cx="5.6" cy="12.4" r="4.6"/><circle cx="41.6" cy="12.2" r="4.8"/></g><path d="M4.2 14.5 Q5.5 11.5 9 9.8 Q13.1 5.6 17.6 9.2 Q20.6 11.6 23.6 9.6 Q28.1 5.8 33 9.6 Q37.5 9.4 41 12.6 Q42.6 14 42.6 15 Q42.6 18.4 38 18.4 L8 18.4 Q4 18.4 4.2 14.5 Z" fill="url(#ci)" opacity="0.34" filter="url(#b2)"/></g><path d="M16.5 39.1 L11.9 47.5" stroke="#a39bb3" stroke-width="1.4" fill="none"/><path d="M46.3 39.1 L42 47.5" stroke="#d4d2dc" stroke-width="1.4" fill="none"/><path d="M29.5 47.1 L25.3 55.1" stroke="#a39bb3" stroke-width="1.4" fill="none"/></g><rect x="491" y="59" width="59" height="1" fill="#2a5a84"/><g transform="translate(551 0)" clip-path="url(#ic)"><rect width="59" height="59" fill="#0e0e15"/><g transform="translate(-12.0 3.5) scale(0.900 0.950)"><g fill="#a4a6ae" stroke="#a4a6ae" stroke-width="0.7"><rect x="0" y="8.6" width="46.6" height="9.8" rx="5.2"/><circle cx="24.8" cy="7.2" r="7.2"/><circle cx="12.8" cy="9.3" r="6.0"/><circle cx="35.3" cy="9.0" r="6.4"/><circle cx="5.6" cy="12.4" r="4.6"/><circle cx="41.6" cy="12.2" r="4.8"/></g><g fill="url(#cg)"><rect x="0" y="8.6" width="46.6" height="9.8" rx="5.2"/><circle cx="24.8" cy="7.2" r="7.2"/><circle cx="12.8" cy="9.3" r="6.0"/><circle cx="35.3" cy="9.0" r="6.4"/><circle cx="5.6" cy="12.4" r="4.6"/><circle cx="41.6" cy="12.2" r="4.8"/></g><path d="M4.2 14.5 Q5.5 11.5 9 9.8 Q13.1 5.6 17.6 9.2 Q20.6 11.6 23.6 9.6 Q28.1 5.8 33 9.6 Q37.5 9.4 41 12.6 Q42.6 14 42.6 15 Q42.6 18.4 38 18.4 L8 18.4 Q4 18.4 4.2 14.5 Z" fill="url(#ci)" opacity="0.34" filter="url(#b2)"/></g><g transform="translate(34.0 3.5) scale(0.900 0.950)"><g fill="#a4a6ae" stroke="#a4a6ae" stroke-width="0.7"><rect x="0" y="8.6" width="46.6" height="9.8" rx="5.2"/><circle cx="24.8" cy="7.2" r="7.2"/><circle cx="12.8" cy="9.3" r="6.0"/><circle cx="35.3" cy="9.0" r="6.4"/><circle cx="5.6" cy="12.4" r="4.6"/><circle cx="41.6" cy="12.2" r="4.8"/></g><g fill="url(#cg)"><rect x="0" y="8.6" width="46.6" height="9.8" rx="5.2"/><circle cx="24.8" cy="7.2" r="7.2"/><circle cx="12.8" cy="9.3" r="6.0"/><circle cx="35.3" cy="9.0" r="6.4"/><circle cx="5.6" cy="12.4" r="4.6"/><circle cx="41.6" cy="12.2" r="4.8"/></g><path d="M4.2 14.5 Q5.5 11.5 9 9.8 Q13.1 5.6 17.6 9.2 Q20.6 11.6 23.6 9.6 Q28.1 5.8 33 9.6 Q37.5 9.4 41 12.6 Q42.6 14 42.6 15 Q42.6 18.4 38 18.4 L8 18.4 Q4 18.4 4.2 14.5 Z" fill="url(#ci)" opacity="0.34" filter="url(#b2)"/></g><g transform="translate(14.0 7.7) scale(1.000 1.000)"><g fill="#a4a6ae" stroke="#a4a6ae" stroke-width="0.7"><rect x="0" y="8.6" width="46.6" height="9.8" rx="5.2"/><circle cx="24.8" cy="7.2" r="7.2"/><circle cx="12.8" cy="9.3" r="6.0"/><circle cx="35.3" cy="9.0" r="6.4"/><circle cx="5.6" cy="12.4" r="4.6"/><circle cx="41.6" cy="12.2" r="4.8"/></g><g fill="url(#cg)"><rect x="0" y="8.6" width="46.6" height="9.8" rx="5.2"/><circle cx="24.8" cy="7.2" r="7.2"/><circle cx="12.8" cy="9.3" r="6.0"/><circle cx="35.3" cy="9.0" r="6.4"/><circle cx="5.6" cy="12.4" r="4.6"/><circle cx="41.6" cy="12.2" r="4.8"/></g><path d="M4.2 14.5 Q5.5 11.5 9 9.8 Q13.1 5.6 17.6 9.2 Q20.6 11.6 23.6 9.6 Q28.1 5.8 33 9.6 Q37.5 9.4 41 12.6 Q42.6 14 42.6 15 Q42.6 18.4 38 18.4 L8 18.4 Q4 18.4 4.2 14.5 Z" fill="url(#ci)" opacity="0.34" filter="url(#b2)"/></g><g transform="translate(-17.0 11.9) scale(1.000 1.000)"><g fill="#a4a6ae" stroke="#a4a6ae" stroke-width="0.7"><rect x="0" y="8.6" width="46.6" height="9.8" rx="5.2"/><circle cx="24.8" cy="7.2" r="7.2"/><circle cx="12.8" cy="9.3" r="6.0"/><circle cx="35.3" cy="9.0" r="6.4"/><circle cx="5.6" cy="12.4" r="4.6"/><circle cx="41.6" cy="12.2" r="4.8"/></g><g fill="url(#cg)"><rect x="0" y="8.6" width="46.6" height="9.8" rx="5.2"/><circle cx="24.8" cy="7.2" r="7.2"/><circle cx="12.8" cy="9.3" r="6.0"/><circle cx="35.3" cy="9.0" r="6.4"/><circle cx="5.6" cy="12.4" r="4.6"/><circle cx="41.6" cy="12.2" r="4.8"/></g><path d="M4.2 14.5 Q5.5 11.5 9 9.8 Q13.1 5.6 17.6 9.2 Q20.6 11.6 23.6 9.6 Q28.1 5.8 33 9.6 Q37.5 9.4 41 12.6 Q42.6 14 42.6 15 Q42.6 18.4 38 18.4 L8 18.4 Q4 18.4 4.2 14.5 Z" fill="url(#ci)" opacity="0.34" filter="url(#b2)"/></g><g transform="translate(7.8 17.4) scale(1.024 1.024)"><g fill="#a4a6ae" stroke="#a4a6ae" stroke-width="0.7"><rect x="0" y="8.6" width="46.6" height="9.8" rx="5.2"/><circle cx="24.8" cy="7.2" r="7.2"/><circle cx="12.8" cy="9.3" r="6.0"/><circle cx="35.3" cy="9.0" r="6.4"/><circle cx="5.6" cy="12.4" r="4.6"/><circle cx="41.6" cy="12.2" r="4.8"/></g><g fill="url(#cg)"><rect x="0" y="8.6" width="46.6" height="9.8" rx="5.2"/><circle cx="24.8" cy="7.2" r="7.2"/><circle cx="12.8" cy="9.3" r="6.0"/><circle cx="35.3" cy="9.0" r="6.4"/><circle cx="5.6" cy="12.4" r="4.6"/><circle cx="41.6" cy="12.2" r="4.8"/></g><path d="M4.2 14.5 Q5.5 11.5 9 9.8 Q13.1 5.6 17.6 9.2 Q20.6 11.6 23.6 9.6 Q28.1 5.8 33 9.6 Q37.5 9.4 41 12.6 Q42.6 14 42.6 15 Q42.6 18.4 38 18.4 L8 18.4 Q4 18.4 4.2 14.5 Z" fill="url(#ci)" opacity="0.34" filter="url(#b2)"/></g><path d="M16.5 39.1 L11.9 47.5" stroke="#a39bb3" stroke-width="1.4" fill="none"/><path d="M46.3 39.1 L42 47.5" stroke="#d4d2dc" stroke-width="1.4" fill="none"/><path d="M29.5 47.1 L25.3 55.1" stroke="#a39bb3" stroke-width="1.4" fill="none"/></g><rect x="551" y="59" width="59" height="1" fill="#2a5a84"/><g transform="translate(611 0)" clip-path="url(#ic)"><rect width="59" height="59" fill="url(#cb)"/><g transform="translate(-12.0 3.5) scale(0.900 0.950)"><g fill="#a4a6ae" stroke="#a4a6ae" stroke-width="0.7"><rect x="0" y="8.6" width="46.6" height="9.8" rx="5.2"/><circle cx="24.8" cy="7.2" r="7.2"/><circle cx="12.8" cy="9.3" r="6.0"/><circle cx="35.3" cy="9.0" r="6.4"/><circle cx="5.6" cy="12.4" r="4.6"/><circle cx="41.6" cy="12.2" r="4.8"/></g><g fill="url(#cg)"><rect x="0" y="8.6" width="46.6" height="9.8" rx="5.2"/><circle cx="24.8" cy="7.2" r="7.2"/><circle cx="12.8" cy="9.3" r="6.0"/><circle cx="35.3" cy="9.0" r="6.4"/><circle cx="5.6" cy="12.4" r="4.6"/><circle cx="41.6" cy="12.2" r="4.8"/></g><path d="M4.2 14.5 Q5.5 11.5 9 9.8 Q13.1 5.6 17.6 9.2 Q20.6 11.6 23.6 9.6 Q28.1 5.8 33 9.6 Q37.5 9.4 41 12.6 Q42.6 14 42.6 15 Q42.6 18.4 38 18.4 L8 18.4 Q4 18.4 4.2 14.5 Z" fill="url(#ci)" opacity="0.34" filter="url(#b2)"/></g><g transform="translate(34.0 3.5) scale(0.900 0.950)"><g fill="#a4a6ae" stroke="#a4a6ae" stroke-width="0.7"><rect x="0" y="8.6" width="46.6" height="9.8" rx="5.2"/><circle cx="24.8" cy="7.2" r="7.2"/><circle cx="12.8" cy="9.3" r="6.0"/><circle cx="35.3" cy="9.0" r="6.4"/><circle cx="5.6" cy="12.4" r="4.6"/><circle cx="41.6" cy="12.2" r="4.8"/></g><g fill="url(#cg)"><rect x="0" y="8.6" width="46.6" height="9.8" rx="5.2"/><circle cx="24.8" cy="7.2" r="7.2"/><circle cx="12.8" cy="9.3" r="6.0"/><circle cx="35.3" cy="9.0" r="6.4"/><circle cx="5.6" cy="12.4" r="4.6"/><circle cx="41.6" cy="12.2" r="4.8"/></g><path d="M4.2 14.5 Q5.5 11.5 9 9.8 Q13.1 5.6 17.6 9.2 Q20.6 11.6 23.6 9.6 Q28.1 5.8 33 9.6 Q37.5 9.4 41 12.6 Q42.6 14 42.6 15 Q42.6 18.4 38 18.4 L8 18.4 Q4 18.4 4.2 14.5 Z" fill="url(#ci)" opacity="0.34" filter="url(#b2)"/></g><g transform="translate(14.0 7.7) scale(1.000 1.000)"><g fill="#a4a6ae" stroke="#a4a6ae" stroke-width="0.7"><rect x="0" y="8.6" width="46.6" height="9.8" rx="5.2"/><circle cx="24.8" cy="7.2" r="7.2"/><circle cx="12.8" cy="9.3" r="6.0"/><circle cx="35.3" cy="9.0" r="6.4"/><circle cx="5.6" cy="12.4" r="4.6"/><circle cx="41.6" cy="12.2" r="4.8"/></g><g fill="url(#cg)"><rect x="0" y="8.6" width="46.6" height="9.8" rx="5.2"/><circle cx="24.8" cy="7.2" r="7.2"/><circle cx="12.8" cy="9.3" r="6.0"/><circle cx="35.3" cy="9.0" r="6.4"/><circle cx="5.6" cy="12.4" r="4.6"/><circle cx="41.6" cy="12.2" r="4.8"/></g><path d="M4.2 14.5 Q5.5 11.5 9 9.8 Q13.1 5.6 17.6 9.2 Q20.6 11.6 23.6 9.6 Q28.1 5.8 33 9.6 Q37.5 9.4 41 12.6 Q42.6 14 42.6 15 Q42.6 18.4 38 18.4 L8 18.4 Q4 18.4 4.2 14.5 Z" fill="url(#ci)" opacity="0.34" filter="url(#b2)"/></g><g transform="translate(-17.0 11.9) scale(1.000 1.000)"><g fill="#a4a6ae" stroke="#a4a6ae" stroke-width="0.7"><rect x="0" y="8.6" width="46.6" height="9.8" rx="5.2"/><circle cx="24.8" cy="7.2" r="7.2"/><circle cx="12.8" cy="9.3" r="6.0"/><circle cx="35.3" cy="9.0" r="6.4"/><circle cx="5.6" cy="12.4" r="4.6"/><circle cx="41.6" cy="12.2" r="4.8"/></g><g fill="url(#cg)"><rect x="0" y="8.6" width="46.6" height="9.8" rx="5.2"/><circle cx="24.8" cy="7.2" r="7.2"/><circle cx="12.8" cy="9.3" r="6.0"/><circle cx="35.3" cy="9.0" r="6.4"/><circle cx="5.6" cy="12.4" r="4.6"/><circle cx="41.6" cy="12.2" r="4.8"/></g><path d="M4.2 14.5 Q5.5 11.5 9 9.8 Q13.1 5.6 17.6 9.2 Q20.6 11.6 23.6 9.6 Q28.1 5.8 33 9.6 Q37.5 9.4 41 12.6 Q42.6 14 42.6 15 Q42.6 18.4 38 18.4 L8 18.4 Q4 18.4 4.2 14.5 Z" fill="url(#ci)" opacity="0.34" filter="url(#b2)"/></g><g transform="translate(3.9 17.4) scale(1.000 1.000)"><g fill="#a4a6ae" stroke="#a4a6ae" stroke-width="0.7"><rect x="0" y="8.6" width="46.6" height="9.8" rx="5.2"/><circle cx="24.8" cy="7.2" r="7.2"/><circle cx="12.8" cy="9.3" r="6.0"/><circle cx="35.3" cy="9.0" r="6.4"/><circle cx="5.6" cy="12.4" r="4.6"/><circle cx="41.6" cy="12.2" r="4.8"/></g><g fill="url(#cg)"><rect x="0" y="8.6" width="46.6" height="9.8" rx="5.2"/><circle cx="24.8" cy="7.2" r="7.2"/><circle cx="12.8" cy="9.3" r="6.0"/><circle cx="35.3" cy="9.0" r="6.4"/><circle cx="5.6" cy="12.4" r="4.6"/><circle cx="41.6" cy="12.2" r="4.8"/></g><path d="M4.2 14.5 Q5.5 11.5 9 9.8 Q13.1 5.6 17.6 9.2 Q20.6 11.6 23.6 9.6 Q28.1 5.8 33 9.6 Q37.5 9.4 41 12.6 Q42.6 14 42.6 15 Q42.6 18.4 38 18.4 L8 18.4 Q4 18.4 4.2 14.5 Z" fill="url(#ci)" opacity="0.34" filter="url(#b2)"/></g></g><rect x="611" y="59" width="59" height="1" fill="#2a5a84"/><g transform="translate(671 0)" clip-path="url(#ic)"><rect width="59" height="59" fill="url(#cb)"/><g transform="translate(-12.0 3.5) scale(0.900 0.950)"><g fill="#a4a6ae" stroke="#a4a6ae" stroke-width="0.7"><rect x="0" y="8.6" width="46.6" height="9.8" rx="5.2"/><circle cx="24.8" cy="7.2" r="7.2"/><circle cx="12.8" cy="9.3" r="6.0"/><circle cx="35.3" cy="9.0" r="6.4"/><circle cx="5.6" cy="12.4" r="4.6"/><circle cx="41.6" cy="12.2" r="4.8"/></g><g fill="url(#cg)"><rect x="0" y="8.6" width="46.6" height="9.8" rx="5.2"/><circle cx="24.8" cy="7.2" r="7.2"/><circle cx="12.8" cy="9.3" r="6.0"/><circle cx="35.3" cy="9.0" r="6.4"/><circle cx="5.6" cy="12.4" r="4.6"/><circle cx="41.6" cy="12.2" r="4.8"/></g><path d="M4.2 14.5 Q5.5 11.5 9 9.8 Q13.1 5.6 17.6 9.2 Q20.6 11.6 23.6 9.6 Q28.1 5.8 33 9.6 Q37.5 9.4 41 12.6 Q42.6 14 42.6 15 Q42.6 18.4 38 18.4 L8 18.4 Q4 18.4 4.2 14.5 Z" fill="url(#ci)" opacity="0.34" filter="url(#b2)"/></g><g transform="translate(34.0 3.5) scale(0.900 0.950)"><g fill="#a4a6ae" stroke="#a4a6ae" stroke-width="0.7"><rect x="0" y="8.6" width="46.6" height="9.8" rx="5.2"/><circle cx="24.8" cy="7.2" r="7.2"/><circle cx="12.8" cy="9.3" r="6.0"/><circle cx="35.3" cy="9.0" r="6.4"/><circle cx="5.6" cy="12.4" r="4.6"/><circle cx="41.6" cy="12.2" r="4.8"/></g><g fill="url(#cg)"><rect x="0" y="8.6" width="46.6" height="9.8" rx="5.2"/><circle cx="24.8" cy="7.2" r="7.2"/><circle cx="12.8" cy="9.3" r="6.0"/><circle cx="35.3" cy="9.0" r="6.4"/><circle cx="5.6" cy="12.4" r="4.6"/><circle cx="41.6" cy="12.2" r="4.8"/></g><path d="M4.2 14.5 Q5.5 11.5 9 9.8 Q13.1 5.6 17.6 9.2 Q20.6 11.6 23.6 9.6 Q28.1 5.8 33 9.6 Q37.5 9.4 41 12.6 Q42.6 14 42.6 15 Q42.6 18.4 38 18.4 L8 18.4 Q4 18.4 4.2 14.5 Z" fill="url(#ci)" opacity="0.34" filter="url(#b2)"/></g><g transform="translate(14.0 7.7) scale(1.000 1.000)"><g fill="#a4a6ae" stroke="#a4a6ae" stroke-width="0.7"><rect x="0" y="8.6" width="46.6" height="9.8" rx="5.2"/><circle cx="24.8" cy="7.2" r="7.2"/><circle cx="12.8" cy="9.3" r="6.0"/><circle cx="35.3" cy="9.0" r="6.4"/><circle cx="5.6" cy="12.4" r="4.6"/><circle cx="41.6" cy="12.2" r="4.8"/></g><g fill="url(#cg)"><rect x="0" y="8.6" width="46.6" height="9.8" rx="5.2"/><circle cx="24.8" cy="7.2" r="7.2"/><circle cx="12.8" cy="9.3" r="6.0"/><circle cx="35.3" cy="9.0" r="6.4"/><circle cx="5.6" cy="12.4" r="4.6"/><circle cx="41.6" cy="12.2" r="4.8"/></g><path d="M4.2 14.5 Q5.5 11.5 9 9.8 Q13.1 5.6 17.6 9.2 Q20.6 11.6 23.6 9.6 Q28.1 5.8 33 9.6 Q37.5 9.4 41 12.6 Q42.6 14 42.6 15 Q42.6 18.4 38 18.4 L8 18.4 Q4 18.4 4.2 14.5 Z" fill="url(#ci)" opacity="0.34" filter="url(#b2)"/></g><g transform="translate(-17.0 11.9) scale(1.000 1.000)"><g fill="#a4a6ae" stroke="#a4a6ae" stroke-width="0.7"><rect x="0" y="8.6" width="46.6" height="9.8" rx="5.2"/><circle cx="24.8" cy="7.2" r="7.2"/><circle cx="12.8" cy="9.3" r="6.0"/><circle cx="35.3" cy="9.0" r="6.4"/><circle cx="5.6" cy="12.4" r="4.6"/><circle cx="41.6" cy="12.2" r="4.8"/></g><g fill="url(#cg)"><rect x="0" y="8.6" width="46.6" height="9.8" rx="5.2"/><circle cx="24.8" cy="7.2" r="7.2"/><circle cx="12.8" cy="9.3" r="6.0"/><circle cx="35.3" cy="9.0" r="6.4"/><circle cx="5.6" cy="12.4" r="4.6"/><circle cx="41.6" cy="12.2" r="4.8"/></g><path d="M4.2 14.5 Q5.5 11.5 9 9.8 Q13.1 5.6 17.6 9.2 Q20.6 11.6 23.6 9.6 Q28.1 5.8 33 9.6 Q37.5 9.4 41 12.6 Q42.6 14 42.6 15 Q42.6 18.4 38 18.4 L8 18.4 Q4 18.4 4.2 14.5 Z" fill="url(#ci)" opacity="0.34" filter="url(#b2)"/></g><g transform="translate(3.9 17.4) scale(1.000 1.000)"><g fill="#a4a6ae" stroke="#a4a6ae" stroke-width="0.7"><rect x="0" y="8.6" width="46.6" height="9.8" rx="5.2"/><circle cx="24.8" cy="7.2" r="7.2"/><circle cx="12.8" cy="9.3" r="6.0"/><circle cx="35.3" cy="9.0" r="6.4"/><circle cx="5.6" cy="12.4" r="4.6"/><circle cx="41.6" cy="12.2" r="4.8"/></g><g fill="url(#cg)"><rect x="0" y="8.6" width="46.6" height="9.8" rx="5.2"/><circle cx="24.8" cy="7.2" r="7.2"/><circle cx="12.8" cy="9.3" r="6.0"/><circle cx="35.3" cy="9.0" r="6.4"/><circle cx="5.6" cy="12.4" r="4.6"/><circle cx="41.6" cy="12.2" r="4.8"/></g><path d="M4.2 14.5 Q5.5 11.5 9 9.8 Q13.1 5.6 17.6 9.2 Q20.6 11.6 23.6 9.6 Q28.1 5.8 33 9.6 Q37.5 9.4 41 12.6 Q42.6 14 42.6 15 Q42.6 18.4 38 18.4 L8 18.4 Q4 18.4 4.2 14.5 Z" fill="url(#ci)" opacity="0.34" filter="url(#b2)"/></g></g><rect x="671" y="59" width="59" height="1" fill="#2a5a84"/><g transform="translate(731 0)" clip-path="url(#ic)"><rect width="59" height="59" fill="#0e0e15"/><circle cx="20.3" cy="22" r="16" fill="#e9e9ae"/><circle cx="9.6" cy="18.6" r="2" fill="#d7d79c"/><circle cx="19.3" cy="16.5" r="2.6" fill="#d7d79c"/><circle cx="16.8" cy="25.3" r="2" fill="#d7d79c"/><g><g fill="#cfcfd7" stroke="#cfcfd7" stroke-width="0.9"><rect x="18" y="26" width="46" height="11.5" rx="5"/><circle cx="26.5" cy="24.5" r="6.3"/><circle cx="39" cy="19.5" r="7.2"/><circle cx="49" cy="22.5" r="6.4"/><circle cx="56" cy="27" r="6"/><circle cx="21.8" cy="30.6" r="3.8"/></g><g fill="url(#pa)"><rect x="18" y="26" width="46" height="11.5" rx="5"/><circle cx="26.5" cy="24.5" r="6.3"/><circle cx="39" cy="19.5" r="7.2"/><circle cx="49" cy="22.5" r="6.4"/><circle cx="56" cy="27" r="6"/><circle cx="21.8" cy="30.6" r="3.8"/></g></g><g><g fill="#cfcfd7" stroke="#cfcfd7" stroke-width="0.9"><rect x="23" y="33" width="42" height="13.3" rx="5.5"/><circle cx="33" cy="30.5" r="5.6"/><circle cx="43.2" cy="26.8" r="6.5"/><circle cx="52" cy="30" r="6"/><circle cx="27.4" cy="38.6" r="4.4"/></g><g fill="url(#pb)"><rect x="23" y="33" width="42" height="13.3" rx="5.5"/><circle cx="33" cy="30.5" r="5.6"/><circle cx="43.2" cy="26.8" r="6.5"/><circle cx="52" cy="30" r="6"/><circle cx="27.4" cy="38.6" r="4.4"/></g></g><g><g fill="#cfcfd7" stroke="#cfcfd7" stroke-width="0.9"><rect x="37.3" y="38" width="30" height="8.3" rx="4.5"/><circle cx="45" cy="36.2" r="5"/><circle cx="53.2" cy="32.2" r="6.5"/><circle cx="60" cy="36" r="5"/><circle cx="41" cy="42.3" r="3.8"/></g><g fill="url(#pc)"><rect x="37.3" y="38" width="30" height="8.3" rx="4.5"/><circle cx="45" cy="36.2" r="5"/><circle cx="53.2" cy="32.2" r="6.5"/><circle cx="60" cy="36" r="5"/><circle cx="41" cy="42.3" r="3.8"/></g></g></g><rect x="731" y="59" width="59" height="1" fill="#2a5a84"/><g transform="translate(791 0)" clip-path="url(#ic)"><rect width="59" height="59" fill="#0e0e15"/><circle cx="20.3" cy="22" r="16" fill="#e9e9ae"/><circle cx="9.6" cy="18.6" r="2" fill="#d7d79c"/><circle cx="19.3" cy="16.5" r="2.6" fill="#d7d79c"/><circle cx="16.8" cy="25.3" r="2" fill="#d7d79c"/><g><g fill="#cfcfd7" stroke="#cfcfd7" stroke-width="0.9"><rect x="18" y="26" width="46" height="11.5" rx="5"/><circle cx="26.5" cy="24.5" r="6.3"/><circle cx="39" cy="19.5" r="7.2"/><circle cx="49" cy="22.5" r="6.4"/><circle cx="56" cy="27" r="6"/><circle cx="21.8" cy="30.6" r="3.8"/></g><g fill="url(#pa)"><rect x="18" y="26" width="46" height="11.5" rx="5"/><circle cx="26.5" cy="24.5" r="6.3"/><circle cx="39" cy="19.5" r="7.2"/><circle cx="49" cy="22.5" r="6.4"/><circle cx="56" cy="27" r="6"/><circle cx="21.8" cy="30.6" r="3.8"/></g></g><g><g fill="#cfcfd7" stroke="#cfcfd7" stroke-width="0.9"><rect x="23" y="33" width="42" height="13.3" rx="5.5"/><circle cx="33" cy="30.5" r="5.6"/><circle cx="43.2" cy="26.8" r="6.5"/><circle cx="52" cy="30" r="6"/><circle cx="27.4" cy="38.6" r="4.4"/></g><g fill="url(#pb)"><rect x="23" y="33" width="42" height="13.3" rx="5.5"/><circle cx="33" cy="30.5" r="5.6"/><circle cx="43.2" cy="26.8" r="6.5"/><circle cx="52" cy="30" r="6"/><circle cx="27.4" cy="38.6" r="4.4"/></g></g><g><g fill="#cfcfd7" stroke="#cfcfd7" stroke-width="0.9"><rect x="37.3" y="38" width="30" height="8.3" rx="4.5"/><circle cx="45" cy="36.2" r="5"/><circle cx="53.2" cy="32.2" r="6.5"/><circle cx="60" cy="36" r="5"/><circle cx="41" cy="42.3" r="3.8"/></g><g fill="url(#pc)"><rect x="37.3" y="38" width="30" height="8.3" rx="4.5"/><circle cx="45" cy="36.2" r="5"/><circle cx="53.2" cy="32.2" r="6.5"/><circle cx="60" cy="36" r="5"/><circle cx="41" cy="42.3" r="3.8"/></g></g></g><rect x="791" y="59" width="59" height="1" fill="#2a5a84"/><g transform="translate(851 0)" clip-path="url(#ic)"><rect width="59" height="59" fill="url(#sd)"/><path d="M27.3 15.1 L29.7 4.5 L32.1 15.1 Z" fill="#f2d24e"/><path d="M33.2 15.3 L39.4 6.4 L37.6 17.1 Z" fill="#f2d24e"/><path d="M38.5 17.7 L47.7 11.9 L41.9 21.1 Z" fill="#f2d24e"/><path d="M42.5 22.0 L53.2 20.2 L44.3 26.4 Z" fill="#f2d24e"/><path d="M44.5 27.5 L55.1 29.9 L44.5 32.3 Z" fill="#f2d24e"/><path d="M44.3 33.4 L53.2 39.6 L42.5 37.8 Z" fill="#f2d24e"/><path d="M41.9 38.7 L47.7 47.9 L38.5 42.1 Z" fill="#f2d24e"/><path d="M37.6 42.7 L39.4 53.4 L33.2 44.5 Z" fill="#f2d24e"/><path d="M32.1 44.7 L29.7 55.3 L27.3 44.7 Z" fill="#f2d24e"/><path d="M26.2 44.5 L20.0 53.4 L21.8 42.7 Z" fill="#f2d24e"/><path d="M20.9 42.1 L11.7 47.9 L17.5 38.7 Z" fill="#f2d24e"/><path d="M16.9 37.8 L6.2 39.6 L15.1 33.4 Z" fill="#f2d24e"/><path d="M14.9 32.3 L4.3 29.9 L14.9 27.5 Z" fill="#f2d24e"/><path d="M15.1 26.4 L6.2 20.2 L16.9 22.0 Z" fill="#f2d24e"/><path d="M17.5 21.1 L11.7 11.9 L20.9 17.7 Z" fill="#f2d24e"/><path d="M21.8 17.1 L20.0 6.4 L26.2 15.3 Z" fill="#f2d24e"/><path d="M30.1 15.3 L33.5 10.7 L34.9 16.3 Z" fill="#fff"/><path d="M35.6 16.6 L40.6 13.6 L39.7 19.3 Z" fill="#fff"/><path d="M40.3 19.9 L46.0 19.0 L43.0 24.0 Z" fill="#fff"/><path d="M43.3 24.7 L48.9 26.1 L44.3 29.5 Z" fill="#fff"/><path d="M44.3 30.3 L48.9 33.7 L43.3 35.1 Z" fill="#fff"/><path d="M43.0 35.8 L46.0 40.8 L40.3 39.9 Z" fill="#fff"/><path d="M39.7 40.5 L40.6 46.2 L35.6 43.2 Z" fill="#fff"/><path d="M34.9 43.5 L33.5 49.1 L30.1 44.5 Z" fill="#fff"/><path d="M29.3 44.5 L25.9 49.1 L24.5 43.5 Z" fill="#fff"/><path d="M23.8 43.2 L18.8 46.2 L19.7 40.5 Z" fill="#fff"/><path d="M19.1 39.9 L13.4 40.8 L16.4 35.8 Z" fill="#fff"/><path d="M16.1 35.1 L10.5 33.7 L15.1 30.3 Z" fill="#fff"/><path d="M15.1 29.5 L10.5 26.1 L16.1 24.7 Z" fill="#fff"/><path d="M16.4 24.0 L13.4 19.0 L19.1 19.9 Z" fill="#fff"/><path d="M19.7 19.3 L18.8 13.6 L23.8 16.6 Z" fill="#fff"/><path d="M24.5 16.3 L25.9 10.7 L29.3 15.3 Z" fill="#fff"/><circle cx="29.5" cy="29.7" r="15.1" fill="url(#sg)"/></g><rect x="851" y="59" width="59" height="1" fill="#2a5a84"/><g transform="translate(912 0)" clip-path="url(#ic)"><rect width="59" height="59" fill="url(#sd)"/><g filter="url(#bl)"><path d="M26.6 14.0 L29.4 3.7 L32.2 14.0 Z" fill="#ecd65e"/><path d="M32.4 14.0 L39.0 5.6 L37.7 16.2 Z" fill="#ecd65e"/><path d="M37.8 16.3 L47.1 11.0 L41.8 20.3 Z" fill="#ecd65e"/><path d="M41.9 20.4 L52.5 19.1 L44.1 25.7 Z" fill="#ecd65e"/><path d="M44.1 25.9 L54.4 28.7 L44.1 31.5 Z" fill="#ecd65e"/><path d="M44.1 31.7 L52.5 38.3 L41.9 37.0 Z" fill="#ecd65e"/><path d="M41.8 37.1 L47.1 46.4 L37.8 41.1 Z" fill="#ecd65e"/><path d="M37.7 41.2 L39.0 51.8 L32.4 43.4 Z" fill="#ecd65e"/><path d="M32.2 43.4 L29.4 53.7 L26.6 43.4 Z" fill="#ecd65e"/><path d="M26.4 43.4 L19.8 51.8 L21.1 41.2 Z" fill="#ecd65e"/><path d="M21.0 41.1 L11.7 46.4 L17.0 37.1 Z" fill="#ecd65e"/><path d="M16.9 37.0 L6.3 38.3 L14.7 31.7 Z" fill="#ecd65e"/><path d="M14.7 31.5 L4.4 28.7 L14.7 25.9 Z" fill="#ecd65e"/><path d="M14.7 25.7 L6.3 19.1 L16.9 20.4 Z" fill="#ecd65e"/><path d="M17.0 20.3 L11.7 11.0 L21.0 16.3 Z" fill="#ecd65e"/><path d="M21.1 16.2 L19.8 5.6 L26.4 14.0 Z" fill="#ecd65e"/></g><circle cx="29.4" cy="28.7" r="20.5" fill="url(#gl)"/><circle cx="29.4" cy="28.7" r="14.5" fill="url(#sg)"/><g transform="translate(11.7 10.97) scale(0.856)"><g fill="#cfcfd7" stroke="#cfcfd7" stroke-width="0.9"><rect x="18" y="26" width="46" height="11.5" rx="5"/><circle cx="26.5" cy="24.5" r="6.3"/><circle cx="39" cy="19.5" r="7.2"/><circle cx="49" cy="22.5" r="6.4"/><circle cx="56" cy="27" r="6"/><circle cx="21.8" cy="30.6" r="3.8"/></g><g fill="url(#pa)"><rect x="18" y="26" width="46" height="11.5" rx="5"/><circle cx="26.5" cy="24.5" r="6.3"/><circle cx="39" cy="19.5" r="7.2"/><circle cx="49" cy="22.5" r="6.4"/><circle cx="56" cy="27" r="6"/><circle cx="21.8" cy="30.6" r="3.8"/></g></g><g transform="translate(6.86 15.2) scale(0.788)"><g fill="#cfcfd7" stroke="#cfcfd7" stroke-width="0.9"><rect x="23" y="33" width="42" height="13.3" rx="5.5"/><circle cx="33" cy="30.5" r="5.6"/><circle cx="43.2" cy="26.8" r="6.5"/><circle cx="52" cy="30" r="6"/><circle cx="27.4" cy="38.6" r="4.4"/></g><g fill="url(#pb)"><rect x="23" y="33" width="42" height="13.3" rx="5.5"/><circle cx="33" cy="30.5" r="5.6"/><circle cx="43.2" cy="26.8" r="6.5"/><circle cx="52" cy="30" r="6"/><circle cx="27.4" cy="38.6" r="4.4"/></g></g><g transform="translate(14.4 12.1) scale(0.75 0.855)"><g fill="#cfcfd7" stroke="#cfcfd7" stroke-width="0.9"><rect x="37.3" y="38" width="30" height="8.3" rx="4.5"/><circle cx="45" cy="36.2" r="5"/><circle cx="53.2" cy="32.2" r="6.5"/><circle cx="60" cy="36" r="5"/><circle cx="41" cy="42.3" r="3.8"/></g><g fill="url(#pc)"><rect x="37.3" y="38" width="30" height="8.3" rx="4.5"/><circle cx="45" cy="36.2" r="5"/><circle cx="53.2" cy="32.2" r="6.5"/><circle cx="60" cy="36" r="5"/><circle cx="41" cy="42.3" r="3.8"/></g></g></g><rect x="912" y="59" width="59" height="1" fill="#2a5a84"/><g transform="translate(972 0)" clip-path="url(#ic)"><rect width="59" height="59" fill="#0e0e15"/><circle cx="20.3" cy="22" r="16" fill="#e9e9ae"/><circle cx="9.6" cy="18.6" r="2" fill="#d7d79c"/><circle cx="19.3" cy="16.5" r="2.6" fill="#d7d79c"/><circle cx="16.8" cy="25.3" r="2" fill="#d7d79c"/><g><g fill="#cfcfd7" stroke="#cfcfd7" stroke-width="0.9"><rect x="18" y="26" width="46" height="11.5" rx="5"/><circle cx="26.5" cy="24.5" r="6.3"/><circle cx="39" cy="19.5" r="7.2"/><circle cx="49" cy="22.5" r="6.4"/><circle cx="56" cy="27" r="6"/><circle cx="21.8" cy="30.6" r="3.8"/></g><g fill="url(#pa)"><rect x="18" y="26" width="46" height="11.5" rx="5"/><circle cx="26.5" cy="24.5" r="6.3"/><circle cx="39" cy="19.5" r="7.2"/><circle cx="49" cy="22.5" r="6.4"/><circle cx="56" cy="27" r="6"/><circle cx="21.8" cy="30.6" r="3.8"/></g></g><g><g fill="#cfcfd7" stroke="#cfcfd7" stroke-width="0.9"><rect x="23" y="33" width="42" height="13.3" rx="5.5"/><circle cx="33" cy="30.5" r="5.6"/><circle cx="43.2" cy="26.8" r="6.5"/><circle cx="52" cy="30" r="6"/><circle cx="27.4" cy="38.6" r="4.4"/></g><g fill="url(#pb)"><rect x="23" y="33" width="42" height="13.3" rx="5.5"/><circle cx="33" cy="30.5" r="5.6"/><circle cx="43.2" cy="26.8" r="6.5"/><circle cx="52" cy="30" r="6"/><circle cx="27.4" cy="38.6" r="4.4"/></g></g><g><g fill="#cfcfd7" stroke="#cfcfd7" stroke-width="0.9"><rect x="37.3" y="38" width="30" height="8.3" rx="4.5"/><circle cx="45" cy="36.2" r="5"/><circle cx="53.2" cy="32.2" r="6.5"/><circle cx="60" cy="36" r="5"/><circle cx="41" cy="42.3" r="3.8"/></g><g fill="url(#pc)"><rect x="37.3" y="38" width="30" height="8.3" rx="4.5"/><circle cx="45" cy="36.2" r="5"/><circle cx="53.2" cy="32.2" r="6.5"/><circle cx="60" cy="36" r="5"/><circle cx="41" cy="42.3" r="3.8"/></g></g></g><rect x="972" y="59" width="59" height="1" fill="#2a5a84"/><g transform="translate(1033 0)" clip-path="url(#ic)"><rect width="59" height="59" fill="#0e0e15"/><circle cx="20.3" cy="22" r="16" fill="#e9e9ae"/><circle cx="9.6" cy="18.6" r="2" fill="#d7d79c"/><circle cx="19.3" cy="16.5" r="2.6" fill="#d7d79c"/><circle cx="16.8" cy="25.3" r="2" fill="#d7d79c"/><g><g fill="#cfcfd7" stroke="#cfcfd7" stroke-width="0.9"><rect x="18" y="26" width="46" height="11.5" rx="5"/><circle cx="26.5" cy="24.5" r="6.3"/><circle cx="39" cy="19.5" r="7.2"/><circle cx="49" cy="22.5" r="6.4"/><circle cx="56" cy="27" r="6"/><circle cx="21.8" cy="30.6" r="3.8"/></g><g fill="url(#pa)"><rect x="18" y="26" width="46" height="11.5" rx="5"/><circle cx="26.5" cy="24.5" r="6.3"/><circle cx="39" cy="19.5" r="7.2"/><circle cx="49" cy="22.5" r="6.4"/><circle cx="56" cy="27" r="6"/><circle cx="21.8" cy="30.6" r="3.8"/></g></g><g><g fill="#cfcfd7" stroke="#cfcfd7" stroke-width="0.9"><rect x="23" y="33" width="42" height="13.3" rx="5.5"/><circle cx="33" cy="30.5" r="5.6"/><circle cx="43.2" cy="26.8" r="6.5"/><circle cx="52" cy="30" r="6"/><circle cx="27.4" cy="38.6" r="4.4"/></g><g fill="url(#pb)"><rect x="23" y="33" width="42" height="13.3" rx="5.5"/><circle cx="33" cy="30.5" r="5.6"/><circle cx="43.2" cy="26.8" r="6.5"/><circle cx="52" cy="30" r="6"/><circle cx="27.4" cy="38.6" r="4.4"/></g></g><g><g fill="#cfcfd7" stroke="#cfcfd7" stroke-width="0.9"><rect x="37.3" y="38" width="30" height="8.3" rx="4.5"/><circle cx="45" cy="36.2" r="5"/><circle cx="53.2" cy="32.2" r="6.5"/><circle cx="60" cy="36" r="5"/><circle cx="41" cy="42.3" r="3.8"/></g><g fill="url(#pc)"><rect x="37.3" y="38" width="30" height="8.3" rx="4.5"/><circle cx="45" cy="36.2" r="5"/><circle cx="53.2" cy="32.2" r="6.5"/><circle cx="60" cy="36" r="5"/><circle cx="41" cy="42.3" r="3.8"/></g></g></g><rect x="1033" y="59" width="59" height="1" fill="#2a5a84"/><g transform="translate(1093 0)" clip-path="url(#ic)"><rect width="59" height="59" fill="url(#cb)"/><g transform="translate(-12.0 3.5) scale(0.900 0.950)"><g fill="#a4a6ae" stroke="#a4a6ae" stroke-width="0.7"><rect x="0" y="8.6" width="46.6" height="9.8" rx="5.2"/><circle cx="24.8" cy="7.2" r="7.2"/><circle cx="12.8" cy="9.3" r="6.0"/><circle cx="35.3" cy="9.0" r="6.4"/><circle cx="5.6" cy="12.4" r="4.6"/><circle cx="41.6" cy="12.2" r="4.8"/></g><g fill="url(#cg)"><rect x="0" y="8.6" width="46.6" height="9.8" rx="5.2"/><circle cx="24.8" cy="7.2" r="7.2"/><circle cx="12.8" cy="9.3" r="6.0"/><circle cx="35.3" cy="9.0" r="6.4"/><circle cx="5.6" cy="12.4" r="4.6"/><circle cx="41.6" cy="12.2" r="4.8"/></g><path d="M4.2 14.5 Q5.5 11.5 9 9.8 Q13.1 5.6 17.6 9.2 Q20.6 11.6 23.6 9.6 Q28.1 5.8 33 9.6 Q37.5 9.4 41 12.6 Q42.6 14 42.6 15 Q42.6 18.4 38 18.4 L8 18.4 Q4 18.4 4.2 14.5 Z" fill="url(#ci)" opacity="0.34" filter="url(#b2)"/></g><g transform="translate(34.0 3.5) scale(0.900 0.950)"><g fill="#a4a6ae" stroke="#a4a6ae" stroke-width="0.7"><rect x="0" y="8.6" width="46.6" height="9.8" rx="5.2"/><circle cx="24.8" cy="7.2" r="7.2"/><circle cx="12.8" cy="9.3" r="6.0"/><circle cx="35.3" cy="9.0" r="6.4"/><circle cx="5.6" cy="12.4" r="4.6"/><circle cx="41.6" cy="12.2" r="4.8"/></g><g fill="url(#cg)"><rect x="0" y="8.6" width="46.6" height="9.8" rx="5.2"/><circle cx="24.8" cy="7.2" r="7.2"/><circle cx="12.8" cy="9.3" r="6.0"/><circle cx="35.3" cy="9.0" r="6.4"/><circle cx="5.6" cy="12.4" r="4.6"/><circle cx="41.6" cy="12.2" r="4.8"/></g><path d="M4.2 14.5 Q5.5 11.5 9 9.8 Q13.1 5.6 17.6 9.2 Q20.6 11.6 23.6 9.6 Q28.1 5.8 33 9.6 Q37.5 9.4 41 12.6 Q42.6 14 42.6 15 Q42.6 18.4 38 18.4 L8 18.4 Q4 18.4 4.2 14.5 Z" fill="url(#ci)" opacity="0.34" filter="url(#b2)"/></g><g transform="translate(14.0 7.7) scale(1.000 1.000)"><g fill="#a4a6ae" stroke="#a4a6ae" stroke-width="0.7"><rect x="0" y="8.6" width="46.6" height="9.8" rx="5.2"/><circle cx="24.8" cy="7.2" r="7.2"/><circle cx="12.8" cy="9.3" r="6.0"/><circle cx="35.3" cy="9.0" r="6.4"/><circle cx="5.6" cy="12.4" r="4.6"/><circle cx="41.6" cy="12.2" r="4.8"/></g><g fill="url(#cg)"><rect x="0" y="8.6" width="46.6" height="9.8" rx="5.2"/><circle cx="24.8" cy="7.2" r="7.2"/><circle cx="12.8" cy="9.3" r="6.0"/><circle cx="35.3" cy="9.0" r="6.4"/><circle cx="5.6" cy="12.4" r="4.6"/><circle cx="41.6" cy="12.2" r="4.8"/></g><path d="M4.2 14.5 Q5.5 11.5 9 9.8 Q13.1 5.6 17.6 9.2 Q20.6 11.6 23.6 9.6 Q28.1 5.8 33 9.6 Q37.5 9.4 41 12.6 Q42.6 14 42.6 15 Q42.6 18.4 38 18.4 L8 18.4 Q4 18.4 4.2 14.5 Z" fill="url(#ci)" opacity="0.34" filter="url(#b2)"/></g><g transform="translate(-17.0 11.9) scale(1.000 1.000)"><g fill="#a4a6ae" stroke="#a4a6ae" stroke-width="0.7"><rect x="0" y="8.6" width="46.6" height="9.8" rx="5.2"/><circle cx="24.8" cy="7.2" r="7.2"/><circle cx="12.8" cy="9.3" r="6.0"/><circle cx="35.3" cy="9.0" r="6.4"/><circle cx="5.6" cy="12.4" r="4.6"/><circle cx="41.6" cy="12.2" r="4.8"/></g><g fill="url(#cg)"><rect x="0" y="8.6" width="46.6" height="9.8" rx="5.2"/><circle cx="24.8" cy="7.2" r="7.2"/><circle cx="12.8" cy="9.3" r="6.0"/><circle cx="35.3" cy="9.0" r="6.4"/><circle cx="5.6" cy="12.4" r="4.6"/><circle cx="41.6" cy="12.2" r="4.8"/></g><path d="M4.2 14.5 Q5.5 11.5 9 9.8 Q13.1 5.6 17.6 9.2 Q20.6 11.6 23.6 9.6 Q28.1 5.8 33 9.6 Q37.5 9.4 41 12.6 Q42.6 14 42.6 15 Q42.6 18.4 38 18.4 L8 18.4 Q4 18.4 4.2 14.5 Z" fill="url(#ci)" opacity="0.34" filter="url(#b2)"/></g><g transform="translate(3.9 17.4) scale(1.000 1.000)"><g fill="#a4a6ae" stroke="#a4a6ae" stroke-width="0.7"><rect x="0" y="8.6" width="46.6" height="9.8" rx="5.2"/><circle cx="24.8" cy="7.2" r="7.2"/><circle cx="12.8" cy="9.3" r="6.0"/><circle cx="35.3" cy="9.0" r="6.4"/><circle cx="5.6" cy="12.4" r="4.6"/><circle cx="41.6" cy="12.2" r="4.8"/></g><g fill="url(#cg)"><rect x="0" y="8.6" width="46.6" height="9.8" rx="5.2"/><circle cx="24.8" cy="7.2" r="7.2"/><circle cx="12.8" cy="9.3" r="6.0"/><circle cx="35.3" cy="9.0" r="6.4"/><circle cx="5.6" cy="12.4" r="4.6"/><circle cx="41.6" cy="12.2" r="4.8"/></g><path d="M4.2 14.5 Q5.5 11.5 9 9.8 Q13.1 5.6 17.6 9.2 Q20.6 11.6 23.6 9.6 Q28.1 5.8 33 9.6 Q37.5 9.4 41 12.6 Q42.6 14 42.6 15 Q42.6 18.4 38 18.4 L8 18.4 Q4 18.4 4.2 14.5 Z" fill="url(#ci)" opacity="0.34" filter="url(#b2)"/></g></g><rect x="1093" y="59" width="59" height="1" fill="#2a5a84"/><g transform="translate(1153 0)" clip-path="url(#ic)"><rect width="59" height="59" fill="url(#sd)"/><g filter="url(#bl)"><path d="M26.6 14.0 L29.4 3.7 L32.2 14.0 Z" fill="#ecd65e"/><path d="M32.4 14.0 L39.0 5.6 L37.7 16.2 Z" fill="#ecd65e"/><path d="M37.8 16.3 L47.1 11.0 L41.8 20.3 Z" fill="#ecd65e"/><path d="M41.9 20.4 L52.5 19.1 L44.1 25.7 Z" fill="#ecd65e"/><path d="M44.1 25.9 L54.4 28.7 L44.1 31.5 Z" fill="#ecd65e"/><path d="M44.1 31.7 L52.5 38.3 L41.9 37.0 Z" fill="#ecd65e"/><path d="M41.8 37.1 L47.1 46.4 L37.8 41.1 Z" fill="#ecd65e"/><path d="M37.7 41.2 L39.0 51.8 L32.4 43.4 Z" fill="#ecd65e"/><path d="M32.2 43.4 L29.4 53.7 L26.6 43.4 Z" fill="#ecd65e"/><path d="M26.4 43.4 L19.8 51.8 L21.1 41.2 Z" fill="#ecd65e"/><path d="M21.0 41.1 L11.7 46.4 L17.0 37.1 Z" fill="#ecd65e"/><path d="M16.9 37.0 L6.3 38.3 L14.7 31.7 Z" fill="#ecd65e"/><path d="M14.7 31.5 L4.4 28.7 L14.7 25.9 Z" fill="#ecd65e"/><path d="M14.7 25.7 L6.3 19.1 L16.9 20.4 Z" fill="#ecd65e"/><path d="M17.0 20.3 L11.7 11.0 L21.0 16.3 Z" fill="#ecd65e"/><path d="M21.1 16.2 L19.8 5.6 L26.4 14.0 Z" fill="#ecd65e"/></g><circle cx="29.4" cy="28.7" r="20.5" fill="url(#gl)"/><circle cx="29.4" cy="28.7" r="14.5" fill="url(#sg)"/><g transform="translate(11.7 10.97) scale(0.856)"><g fill="#cfcfd7" stroke="#cfcfd7" stroke-width="0.9"><rect x="18" y="26" width="46" height="11.5" rx="5"/><circle cx="26.5" cy="24.5" r="6.3"/><circle cx="39" cy="19.5" r="7.2"/><circle cx="49" cy="22.5" r="6.4"/><circle cx="56" cy="27" r="6"/><circle cx="21.8" cy="30.6" r="3.8"/></g><g fill="url(#pa)"><rect x="18" y="26" width="46" height="11.5" rx="5"/><circle cx="26.5" cy="24.5" r="6.3"/><circle cx="39" cy="19.5" r="7.2"/><circle cx="49" cy="22.5" r="6.4"/><circle cx="56" cy="27" r="6"/><circle cx="21.8" cy="30.6" r="3.8"/></g></g><g transform="translate(6.86 15.2) scale(0.788)"><g fill="#cfcfd7" stroke="#cfcfd7" stroke-width="0.9"><rect x="23" y="33" width="42" height="13.3" rx="5.5"/><circle cx="33" cy="30.5" r="5.6"/><circle cx="43.2" cy="26.8" r="6.5"/><circle cx="52" cy="30" r="6"/><circle cx="27.4" cy="38.6" r="4.4"/></g><g fill="url(#pb)"><rect x="23" y="33" width="42" height="13.3" rx="5.5"/><circle cx="33" cy="30.5" r="5.6"/><circle cx="43.2" cy="26.8" r="6.5"/><circle cx="52" cy="30" r="6"/><circle cx="27.4" cy="38.6" r="4.4"/></g></g><g transform="translate(14.4 12.1) scale(0.75 0.855)"><g fill="#cfcfd7" stroke="#cfcfd7" stroke-width="0.9"><rect x="37.3" y="38" width="30" height="8.3" rx="4.5"/><circle cx="45" cy="36.2" r="5"/><circle cx="53.2" cy="32.2" r="6.5"/><circle cx="60" cy="36" r="5"/><circle cx="41" cy="42.3" r="3.8"/></g><g fill="url(#pc)"><rect x="37.3" y="38" width="30" height="8.3" rx="4.5"/><circle cx="45" cy="36.2" r="5"/><circle cx="53.2" cy="32.2" r="6.5"/><circle cx="60" cy="36" r="5"/><circle cx="41" cy="42.3" r="3.8"/></g></g></g><rect x="1153" y="59" width="59" height="1" fill="#2a5a84"/><g transform="translate(1213 0)" clip-path="url(#ic)"><rect width="59" height="59" fill="#08080d"/><circle cx="19.9" cy="22.1" r="14" fill="url(#mg)"/><g fill="#d3d398"><circle cx="10.5" cy="19" r="1.8"/><circle cx="19.3" cy="16.9" r="2.3"/><circle cx="24.3" cy="21.1" r="2.2"/><circle cx="18.4" cy="26.2" r="2.6"/></g><g fill="#8a8a8a"><circle cx="38.9" cy="8" r="1.2"/><circle cx="40.8" cy="20.5" r="1.0"/><circle cx="15.5" cy="45.4" r="1.4"/><circle cx="33.3" cy="49.4" r="1.2"/></g></g><rect x="1213" y="59" width="59" height="1" fill="#2a5a84"/><g transform="translate(1273 0)" clip-path="url(#ic)"><rect width="59" height="59" fill="#08080d"/><circle cx="19.9" cy="22.1" r="14" fill="url(#mg)"/><g fill="#d3d398"><circle cx="10.5" cy="19" r="1.8"/><circle cx="19.3" cy="16.9" r="2.3"/><circle cx="24.3" cy="21.1" r="2.2"/><circle cx="18.4" cy="26.2" r="2.6"/></g><g fill="#8a8a8a"><circle cx="38.9" cy="8" r="1.2"/><circle cx="40.8" cy="20.5" r="1.0"/><circle cx="15.5" cy="45.4" r="1.4"/><circle cx="33.3" cy="49.4" r="1.2"/></g></g><rect x="1273" y="59" width="59" height="1" fill="#2a5a84"/><g transform="translate(1333 0)" clip-path="url(#ic)"><rect width="59" height="59" fill="url(#sd)"/><path d="M27.3 15.1 L29.7 4.5 L32.1 15.1 Z" fill="#f2d24e"/><path d="M33.2 15.3 L39.4 6.4 L37.6 17.1 Z" fill="#f2d24e"/><path d="M38.5 17.7 L47.7 11.9 L41.9 21.1 Z" fill="#f2d24e"/><path d="M42.5 22.0 L53.2 20.2 L44.3 26.4 Z" fill="#f2d24e"/><path d="M44.5 27.5 L55.1 29.9 L44.5 32.3 Z" fill="#f2d24e"/><path d="M44.3 33.4 L53.2 39.6 L42.5 37.8 Z" fill="#f2d24e"/><path d="M41.9 38.7 L47.7 47.9 L38.5 42.1 Z" fill="#f2d24e"/><path d="M37.6 42.7 L39.4 53.4 L33.2 44.5 Z" fill="#f2d24e"/><path d="M32.1 44.7 L29.7 55.3 L27.3 44.7 Z" fill="#f2d24e"/><path d="M26.2 44.5 L20.0 53.4 L21.8 42.7 Z" fill="#f2d24e"/><path d="M20.9 42.1 L11.7 47.9 L17.5 38.7 Z" fill="#f2d24e"/><path d="M16.9 37.8 L6.2 39.6 L15.1 33.4 Z" fill="#f2d24e"/><path d="M14.9 32.3 L4.3 29.9 L14.9 27.5 Z" fill="#f2d24e"/><path d="M15.1 26.4 L6.2 20.2 L16.9 22.0 Z" fill="#f2d24e"/><path d="M17.5 21.1 L11.7 11.9 L20.9 17.7 Z" fill="#f2d24e"/><path d="M21.8 17.1 L20.0 6.4 L26.2 15.3 Z" fill="#f2d24e"/><path d="M30.1 15.3 L33.5 10.7 L34.9 16.3 Z" fill="#fff"/><path d="M35.6 16.6 L40.6 13.6 L39.7 19.3 Z" fill="#fff"/><path d="M40.3 19.9 L46.0 19.0 L43.0 24.0 Z" fill="#fff"/><path d="M43.3 24.7 L48.9 26.1 L44.3 29.5 Z" fill="#fff"/><path d="M44.3 30.3 L48.9 33.7 L43.3 35.1 Z" fill="#fff"/><path d="M43.0 35.8 L46.0 40.8 L40.3 39.9 Z" fill="#fff"/><path d="M39.7 40.5 L40.6 46.2 L35.6 43.2 Z" fill="#fff"/><path d="M34.9 43.5 L33.5 49.1 L30.1 44.5 Z" fill="#fff"/><path d="M29.3 44.5 L25.9 49.1 L24.5 43.5 Z" fill="#fff"/><path d="M23.8 43.2 L18.8 46.2 L19.7 40.5 Z" fill="#fff"/><path d="M19.1 39.9 L13.4 40.8 L16.4 35.8 Z" fill="#fff"/><path d="M16.1 35.1 L10.5 33.7 L15.1 30.3 Z" fill="#fff"/><path d="M15.1 29.5 L10.5 26.1 L16.1 24.7 Z" fill="#fff"/><path d="M16.4 24.0 L13.4 19.0 L19.1 19.9 Z" fill="#fff"/><path d="M19.7 19.3 L18.8 13.6 L23.8 16.6 Z" fill="#fff"/><path d="M24.5 16.3 L25.9 10.7 L29.3 15.3 Z" fill="#fff"/><circle cx="29.5" cy="29.7" r="15.1" fill="url(#sg)"/></g><rect x="1333" y="59" width="59" height="1" fill="#2a5a84"/><g transform="translate(1393 0)" clip-path="url(#ic)"><rect width="59" height="59" fill="url(#sd)"/><path d="M27.3 15.1 L29.7 4.5 L32.1 15.1 Z" fill="#f2d24e"/><path d="M33.2 15.3 L39.4 6.4 L37.6 17.1 Z" fill="#f2d24e"/><path d="M38.5 17.7 L47.7 11.9 L41.9 21.1 Z" fill="#f2d24e"/><path d="M42.5 22.0 L53.2 20.2 L44.3 26.4 Z" fill="#f2d24e"/><path d="M44.5 27.5 L55.1 29.9 L44.5 32.3 Z" fill="#f2d24e"/><path d="M44.3 33.4 L53.2 39.6 L42.5 37.8 Z" fill="#f2d24e"/><path d="M41.9 38.7 L47.7 47.9 L38.5 42.1 Z" fill="#f2d24e"/><path d="M37.6 42.7 L39.4 53.4 L33.2 44.5 Z" fill="#f2d24e"/><path d="M32.1 44.7 L29.7 55.3 L27.3 44.7 Z" fill="#f2d24e"/><path d="M26.2 44.5 L20.0 53.4 L21.8 42.7 Z" fill="#f2d24e"/><path d="M20.9 42.1 L11.7 47.9 L17.5 38.7 Z" fill="#f2d24e"/><path d="M16.9 37.8 L6.2 39.6 L15.1 33.4 Z" fill="#f2d24e"/><path d="M14.9 32.3 L4.3 29.9 L14.9 27.5 Z" fill="#f2d24e"/><path d="M15.1 26.4 L6.2 20.2 L16.9 22.0 Z" fill="#f2d24e"/><path d="M17.5 21.1 L11.7 11.9 L20.9 17.7 Z" fill="#f2d24e"/><path d="M21.8 17.1 L20.0 6.4 L26.2 15.3 Z" fill="#f2d24e"/><path d="M30.1 15.3 L33.5 10.7 L34.9 16.3 Z" fill="#fff"/><path d="M35.6 16.6 L40.6 13.6 L39.7 19.3 Z" fill="#fff"/><path d="M40.3 19.9 L46.0 19.0 L43.0 24.0 Z" fill="#fff"/><path d="M43.3 24.7 L48.9 26.1 L44.3 29.5 Z" fill="#fff"/><path d="M44.3 30.3 L48.9 33.7 L43.3 35.1 Z" fill="#fff"/><path d="M43.0 35.8 L46.0 40.8 L40.3 39.9 Z" fill="#fff"/><path d="M39.7 40.5 L40.6 46.2 L35.6 43.2 Z" fill="#fff"/><path d="M34.9 43.5 L33.5 49.1 L30.1 44.5 Z" fill="#fff"/><path d="M29.3 44.5 L25.9 49.1 L24.5 43.5 Z" fill="#fff"/><path d="M23.8 43.2 L18.8 46.2 L19.7 40.5 Z" fill="#fff"/><path d="M19.1 39.9 L13.4 40.8 L16.4 35.8 Z" fill="#fff"/><path d="M16.1 35.1 L10.5 33.7 L15.1 30.3 Z" fill="#fff"/><path d="M15.1 29.5 L10.5 26.1 L16.1 24.7 Z" fill="#fff"/><path d="M16.4 24.0 L13.4 19.0 L19.1 19.9 Z" fill="#fff"/><path d="M19.7 19.3 L18.8 13.6 L23.8 16.6 Z" fill="#fff"/><path d="M24.5 16.3 L25.9 10.7 L29.3 15.3 Z" fill="#fff"/><circle cx="29.5" cy="29.7" r="15.1" fill="url(#sg)"/></g><rect x="1393" y="59" width="59" height="1" fill="#2a5a84"/><g transform="translate(1454 0)" clip-path="url(#ic)"><rect width="59" height="59" fill="#08080d"/><circle cx="19.9" cy="22.1" r="14" fill="url(#mg)"/><g fill="#d3d398"><circle cx="10.5" cy="19" r="1.8"/><circle cx="19.3" cy="16.9" r="2.3"/><circle cx="24.3" cy="21.1" r="2.2"/><circle cx="18.4" cy="26.2" r="2.6"/></g><g fill="#8a8a8a"><circle cx="38.9" cy="8" r="1.2"/><circle cx="40.8" cy="20.5" r="1.0"/><circle cx="15.5" cy="45.4" r="1.4"/><circle cx="33.3" cy="49.4" r="1.2"/></g></g><rect x="1454" y="59" width="59" height="1" fill="#2a5a84"/><g transform="translate(1514 0)" clip-path="url(#ic)"><rect width="59" height="59" fill="#08080d"/><circle cx="19.9" cy="22.1" r="14" fill="url(#mg)"/><g fill="#d3d398"><circle cx="10.5" cy="19" r="1.8"/><circle cx="19.3" cy="16.9" r="2.3"/><circle cx="24.3" cy="21.1" r="2.2"/><circle cx="18.4" cy="26.2" r="2.6"/></g><g fill="#8a8a8a"><circle cx="38.9" cy="8" r="1.2"/><circle cx="40.8" cy="20.5" r="1.0"/><circle cx="15.5" cy="45.4" r="1.4"/><circle cx="33.3" cy="49.4" r="1.2"/></g></g><rect x="1514" y="59" width="59" height="1" fill="#2a5a84"/><g transform="translate(1574 0)" clip-path="url(#ic)"><rect width="59" height="59" fill="url(#sd)"/><path d="M27.3 15.1 L29.7 4.5 L32.1 15.1 Z" fill="#f2d24e"/><path d="M33.2 15.3 L39.4 6.4 L37.6 17.1 Z" fill="#f2d24e"/><path d="M38.5 17.7 L47.7 11.9 L41.9 21.1 Z" fill="#f2d24e"/><path d="M42.5 22.0 L53.2 20.2 L44.3 26.4 Z" fill="#f2d24e"/><path d="M44.5 27.5 L55.1 29.9 L44.5 32.3 Z" fill="#f2d24e"/><path d="M44.3 33.4 L53.2 39.6 L42.5 37.8 Z" fill="#f2d24e"/><path d="M41.9 38.7 L47.7 47.9 L38.5 42.1 Z" fill="#f2d24e"/><path d="M37.6 42.7 L39.4 53.4 L33.2 44.5 Z" fill="#f2d24e"/><path d="M32.1 44.7 L29.7 55.3 L27.3 44.7 Z" fill="#f2d24e"/><path d="M26.2 44.5 L20.0 53.4 L21.8 42.7 Z" fill="#f2d24e"/><path d="M20.9 42.1 L11.7 47.9 L17.5 38.7 Z" fill="#f2d24e"/><path d="M16.9 37.8 L6.2 39.6 L15.1 33.4 Z" fill="#f2d24e"/><path d="M14.9 32.3 L4.3 29.9 L14.9 27.5 Z" fill="#f2d24e"/><path d="M15.1 26.4 L6.2 20.2 L16.9 22.0 Z" fill="#f2d24e"/><path d="M17.5 21.1 L11.7 11.9 L20.9 17.7 Z" fill="#f2d24e"/><path d="M21.8 17.1 L20.0 6.4 L26.2 15.3 Z" fill="#f2d24e"/><path d="M30.1 15.3 L33.5 10.7 L34.9 16.3 Z" fill="#fff"/><path d="M35.6 16.6 L40.6 13.6 L39.7 19.3 Z" fill="#fff"/><path d="M40.3 19.9 L46.0 19.0 L43.0 24.0 Z" fill="#fff"/><path d="M43.3 24.7 L48.9 26.1 L44.3 29.5 Z" fill="#fff"/><path d="M44.3 30.3 L48.9 33.7 L43.3 35.1 Z" fill="#fff"/><path d="M43.0 35.8 L46.0 40.8 L40.3 39.9 Z" fill="#fff"/><path d="M39.7 40.5 L40.6 46.2 L35.6 43.2 Z" fill="#fff"/><path d="M34.9 43.5 L33.5 49.1 L30.1 44.5 Z" fill="#fff"/><path d="M29.3 44.5 L25.9 49.1 L24.5 43.5 Z" fill="#fff"/><path d="M23.8 43.2 L18.8 46.2 L19.7 40.5 Z" fill="#fff"/><path d="M19.1 39.9 L13.4 40.8 L16.4 35.8 Z" fill="#fff"/><path d="M16.1 35.1 L10.5 33.7 L15.1 30.3 Z" fill="#fff"/><path d="M15.1 29.5 L10.5 26.1 L16.1 24.7 Z" fill="#fff"/><path d="M16.4 24.0 L13.4 19.0 L19.1 19.9 Z" fill="#fff"/><path d="M19.7 19.3 L18.8 13.6 L23.8 16.6 Z" fill="#fff"/><path d="M24.5 16.3 L25.9 10.7 L29.3 15.3 Z" fill="#fff"/><circle cx="29.5" cy="29.7" r="15.1" fill="url(#sg)"/></g><rect x="1574" y="59" width="59" height="1" fill="#2a5a84"/><g transform="translate(1634 0)" clip-path="url(#ic)"><rect width="59" height="59" fill="url(#sd)"/><path d="M27.3 15.1 L29.7 4.5 L32.1 15.1 Z" fill="#f2d24e"/><path d="M33.2 15.3 L39.4 6.4 L37.6 17.1 Z" fill="#f2d24e"/><path d="M38.5 17.7 L47.7 11.9 L41.9 21.1 Z" fill="#f2d24e"/><path d="M42.5 22.0 L53.2 20.2 L44.3 26.4 Z" fill="#f2d24e"/><path d="M44.5 27.5 L55.1 29.9 L44.5 32.3 Z" fill="#f2d24e"/><path d="M44.3 33.4 L53.2 39.6 L42.5 37.8 Z" fill="#f2d24e"/><path d="M41.9 38.7 L47.7 47.9 L38.5 42.1 Z" fill="#f2d24e"/><path d="M37.6 42.7 L39.4 53.4 L33.2 44.5 Z" fill="#f2d24e"/><path d="M32.1 44.7 L29.7 55.3 L27.3 44.7 Z" fill="#f2d24e"/><path d="M26.2 44.5 L20.0 53.4 L21.8 42.7 Z" fill="#f2d24e"/><path d="M20.9 42.1 L11.7 47.9 L17.5 38.7 Z" fill="#f2d24e"/><path d="M16.9 37.8 L6.2 39.6 L15.1 33.4 Z" fill="#f2d24e"/><path d="M14.9 32.3 L4.3 29.9 L14.9 27.5 Z" fill="#f2d24e"/><path d="M15.1 26.4 L6.2 20.2 L16.9 22.0 Z" fill="#f2d24e"/><path d="M17.5 21.1 L11.7 11.9 L20.9 17.7 Z" fill="#f2d24e"/><path d="M21.8 17.1 L20.0 6.4 L26.2 15.3 Z" fill="#f2d24e"/><path d="M30.1 15.3 L33.5 10.7 L34.9 16.3 Z" fill="#fff"/><path d="M35.6 16.6 L40.6 13.6 L39.7 19.3 Z" fill="#fff"/><path d="M40.3 19.9 L46.0 19.0 L43.0 24.0 Z" fill="#fff"/><path d="M43.3 24.7 L48.9 26.1 L44.3 29.5 Z" fill="#fff"/><path d="M44.3 30.3 L48.9 33.7 L43.3 35.1 Z" fill="#fff"/><path d="M43.0 35.8 L46.0 40.8 L40.3 39.9 Z" fill="#fff"/><path d="M39.7 40.5 L40.6 46.2 L35.6 43.2 Z" fill="#fff"/><path d="M34.9 43.5 L33.5 49.1 L30.1 44.5 Z" fill="#fff"/><path d="M29.3 44.5 L25.9 49.1 L24.5 43.5 Z" fill="#fff"/><path d="M23.8 43.2 L18.8 46.2 L19.7 40.5 Z" fill="#fff"/><path d="M19.1 39.9 L13.4 40.8 L16.4 35.8 Z" fill="#fff"/><path d="M16.1 35.1 L10.5 33.7 L15.1 30.3 Z" fill="#fff"/><path d="M15.1 29.5 L10.5 26.1 L16.1 24.7 Z" fill="#fff"/><path d="M16.4 24.0 L13.4 19.0 L19.1 19.9 Z" fill="#fff"/><path d="M19.7 19.3 L18.8 13.6 L23.8 16.6 Z" fill="#fff"/><path d="M24.5 16.3 L25.9 10.7 L29.3 15.3 Z" fill="#fff"/><circle cx="29.5" cy="29.7" r="15.1" fill="url(#sg)"/></g><rect x="1634" y="59" width="59" height="1" fill="#2a5a84"/><g transform="translate(1694 0)" clip-path="url(#ic)"><rect width="59" height="59" fill="#0e0e15"/><circle cx="20.3" cy="22" r="16" fill="#e9e9ae"/><circle cx="9.6" cy="18.6" r="2" fill="#d7d79c"/><circle cx="19.3" cy="16.5" r="2.6" fill="#d7d79c"/><circle cx="16.8" cy="25.3" r="2" fill="#d7d79c"/><g><g fill="#cfcfd7" stroke="#cfcfd7" stroke-width="0.9"><rect x="18" y="26" width="46" height="11.5" rx="5"/><circle cx="26.5" cy="24.5" r="6.3"/><circle cx="39" cy="19.5" r="7.2"/><circle cx="49" cy="22.5" r="6.4"/><circle cx="56" cy="27" r="6"/><circle cx="21.8" cy="30.6" r="3.8"/></g><g fill="url(#pa)"><rect x="18" y="26" width="46" height="11.5" rx="5"/><circle cx="26.5" cy="24.5" r="6.3"/><circle cx="39" cy="19.5" r="7.2"/><circle cx="49" cy="22.5" r="6.4"/><circle cx="56" cy="27" r="6"/><circle cx="21.8" cy="30.6" r="3.8"/></g></g><g><g fill="#cfcfd7" stroke="#cfcfd7" stroke-width="0.9"><rect x="23" y="33" width="42" height="13.3" rx="5.5"/><circle cx="33" cy="30.5" r="5.6"/><circle cx="43.2" cy="26.8" r="6.5"/><circle cx="52" cy="30" r="6"/><circle cx="27.4" cy="38.6" r="4.4"/></g><g fill="url(#pb)"><rect x="23" y="33" width="42" height="13.3" rx="5.5"/><circle cx="33" cy="30.5" r="5.6"/><circle cx="43.2" cy="26.8" r="6.5"/><circle cx="52" cy="30" r="6"/><circle cx="27.4" cy="38.6" r="4.4"/></g></g><g><g fill="#cfcfd7" stroke="#cfcfd7" stroke-width="0.9"><rect x="37.3" y="38" width="30" height="8.3" rx="4.5"/><circle cx="45" cy="36.2" r="5"/><circle cx="53.2" cy="32.2" r="6.5"/><circle cx="60" cy="36" r="5"/><circle cx="41" cy="42.3" r="3.8"/></g><g fill="url(#pc)"><rect x="37.3" y="38" width="30" height="8.3" rx="4.5"/><circle cx="45" cy="36.2" r="5"/><circle cx="53.2" cy="32.2" r="6.5"/><circle cx="60" cy="36" r="5"/><circle cx="41" cy="42.3" r="3.8"/></g></g></g><rect x="1694" y="59" width="59" height="1" fill="#2a5a84"/></svg>
<div class="abs" style="left:0;top:758px;width:70px;height:1px;background:#2f5577"></div><div class="abs" style="left:0;top:759px;width:69px;height:28px;background:#fafafa;border-top:1px solid #fff;box-sizing:border-box"></div><div class="abs" style="left:70px;top:760px;width:1682px;height:27px;background:#fafafa;border-top:1px solid #fff;box-sizing:border-box;overflow:hidden"><div class="wm" style="left:-384.8px;top:4.5px;color:#ebebeb">Powered by Tide-Forecast.com<svg width="16" height="16" viewBox="0 0 16 16" style="vertical-align:-3px;margin-left:7px"><rect width="16" height="16" fill="#e5e5e5"/><path d="M1.5 13 C3 -4 5 -4 6.5 8 C7.5 17 9 17 10 8 C11 -3 13 -3 14.5 13" fill="none" stroke="#f3f3f3" stroke-width="1.3"/></svg><svg width="16" height="16" viewBox="0 0 16 16" style="vertical-align:-3px;margin-left:2.6px"><rect width="16" height="16" fill="#e5e5e5"/><path d="M3 6.5 H10.5 V10 H13 L9.2 13.6 L5.4 10 H8 V8.6 H3 Z" fill="#f3f3f3"/></svg><svg width="16" height="16" viewBox="0 0 16 16" style="vertical-align:-3px;margin-left:2.6px"><rect width="16" height="16" fill="#e5e5e5"/><path d="M8 2.5 L11.8 13.5 H4.2 Z" fill="#f3f3f3"/></svg></div><div class="wm" style="left:-44.80000000000001px;top:4.5px;color:#ebebeb">Powered by Tide-Forecast.com<svg width="16" height="16" viewBox="0 0 16 16" style="vertical-align:-3px;margin-left:7px"><rect width="16" height="16" fill="#e5e5e5"/><path d="M1.5 13 C3 -4 5 -4 6.5 8 C7.5 17 9 17 10 8 C11 -3 13 -3 14.5 13" fill="none" stroke="#f3f3f3" stroke-width="1.3"/></svg><svg width="16" height="16" viewBox="0 0 16 16" style="vertical-align:-3px;margin-left:2.6px"><rect width="16" height="16" fill="#e5e5e5"/><path d="M3 6.5 H10.5 V10 H13 L9.2 13.6 L5.4 10 H8 V8.6 H3 Z" fill="#f3f3f3"/></svg><svg width="16" height="16" viewBox="0 0 16 16" style="vertical-align:-3px;margin-left:2.6px"><rect width="16" height="16" fill="#e5e5e5"/><path d="M8 2.5 L11.8 13.5 H4.2 Z" fill="#f3f3f3"/></svg></div><div class="wm" style="left:295.2px;top:4.5px;color:#ebebeb">Powered by Tide-Forecast.com<svg width="16" height="16" viewBox="0 0 16 16" style="vertical-align:-3px;margin-left:7px"><rect width="16" height="16" fill="#e5e5e5"/><path d="M1.5 13 C3 -4 5 -4 6.5 8 C7.5 17 9 17 10 8 C11 -3 13 -3 14.5 13" fill="none" stroke="#f3f3f3" stroke-width="1.3"/></svg><svg width="16" height="16" viewBox="0 0 16 16" style="vertical-align:-3px;margin-left:2.6px"><rect width="16" height="16" fill="#e5e5e5"/><path d="M3 6.5 H10.5 V10 H13 L9.2 13.6 L5.4 10 H8 V8.6 H3 Z" fill="#f3f3f3"/></svg><svg width="16" height="16" viewBox="0 0 16 16" style="vertical-align:-3px;margin-left:2.6px"><rect width="16" height="16" fill="#e5e5e5"/><path d="M8 2.5 L11.8 13.5 H4.2 Z" fill="#f3f3f3"/></svg></div><div class="wm" style="left:635.2px;top:4.5px;color:#ebebeb">Powered by Tide-Forecast.com<svg width="16" height="16" viewBox="0 0 16 16" style="vertical-align:-3px;margin-left:7px"><rect width="16" height="16" fill="#e5e5e5"/><path d="M1.5 13 C3 -4 5 -4 6.5 8 C7.5 17 9 17 10 8 C11 -3 13 -3 14.5 13" fill="none" stroke="#f3f3f3" stroke-width="1.3"/></svg><svg width="16" height="16" viewBox="0 0 16 16" style="vertical-align:-3px;margin-left:2.6px"><rect width="16" height="16" fill="#e5e5e5"/><path d="M3 6.5 H10.5 V10 H13 L9.2 13.6 L5.4 10 H8 V8.6 H3 Z" fill="#f3f3f3"/></svg><svg width="16" height="16" viewBox="0 0 16 16" style="vertical-align:-3px;margin-left:2.6px"><rect width="16" height="16" fill="#e5e5e5"/><path d="M8 2.5 L11.8 13.5 H4.2 Z" fill="#f3f3f3"/></svg></div><div class="wm" style="left:975.2px;top:4.5px;color:#ebebeb">Powered by Tide-Forecast.com<svg width="16" height="16" viewBox="0 0 16 16" style="vertical-align:-3px;margin-left:7px"><rect width="16" height="16" fill="#e5e5e5"/><path d="M1.5 13 C3 -4 5 -4 6.5 8 C7.5 17 9 17 10 8 C11 -3 13 -3 14.5 13" fill="none" stroke="#f3f3f3" stroke-width="1.3"/></svg><svg width="16" height="16" viewBox="0 0 16 16" style="vertical-align:-3px;margin-left:2.6px"><rect width="16" height="16" fill="#e5e5e5"/><path d="M3 6.5 H10.5 V10 H13 L9.2 13.6 L5.4 10 H8 V8.6 H3 Z" fill="#f3f3f3"/></svg><svg width="16" height="16" viewBox="0 0 16 16" style="vertical-align:-3px;margin-left:2.6px"><rect width="16" height="16" fill="#e5e5e5"/><path d="M8 2.5 L11.8 13.5 H4.2 Z" fill="#f3f3f3"/></svg></div><div class="wm" style="left:1315.2px;top:4.5px;color:#ebebeb">Powered by Tide-Forecast.com<svg width="16" height="16" viewBox="0 0 16 16" style="vertical-align:-3px;margin-left:7px"><rect width="16" height="16" fill="#e5e5e5"/><path d="M1.5 13 C3 -4 5 -4 6.5 8 C7.5 17 9 17 10 8 C11 -3 13 -3 14.5 13" fill="none" stroke="#f3f3f3" stroke-width="1.3"/></svg><svg width="16" height="16" viewBox="0 0 16 16" style="vertical-align:-3px;margin-left:2.6px"><rect width="16" height="16" fill="#e5e5e5"/><path d="M3 6.5 H10.5 V10 H13 L9.2 13.6 L5.4 10 H8 V8.6 H3 Z" fill="#f3f3f3"/></svg><svg width="16" height="16" viewBox="0 0 16 16" style="vertical-align:-3px;margin-left:2.6px"><rect width="16" height="16" fill="#e5e5e5"/><path d="M8 2.5 L11.8 13.5 H4.2 Z" fill="#f3f3f3"/></svg></div><div class="wm" style="left:1655.2px;top:4.5px;color:#ebebeb">Powered by Tide-Forecast.com<svg width="16" height="16" viewBox="0 0 16 16" style="vertical-align:-3px;margin-left:7px"><rect width="16" height="16" fill="#e5e5e5"/><path d="M1.5 13 C3 -4 5 -4 6.5 8 C7.5 17 9 17 10 8 C11 -3 13 -3 14.5 13" fill="none" stroke="#f3f3f3" stroke-width="1.3"/></svg><svg width="16" height="16" viewBox="0 0 16 16" style="vertical-align:-3px;margin-left:2.6px"><rect width="16" height="16" fill="#e5e5e5"/><path d="M3 6.5 H10.5 V10 H13 L9.2 13.6 L5.4 10 H8 V8.6 H3 Z" fill="#f3f3f3"/></svg><svg width="16" height="16" viewBox="0 0 16 16" style="vertical-align:-3px;margin-left:2.6px"><rect width="16" height="16" fill="#e5e5e5"/><path d="M8 2.5 L11.8 13.5 H4.2 Z" fill="#f3f3f3"/></svg></div></div>
<div class="vl" style="left:130px;top:408px;height:244px;background:#edf0f3"></div><div class="vl" style="left:130px;top:653px;height:105px;background:#ececec"></div><div class="vl" style="left:190px;top:408px;height:244px;background:#edf0f3"></div><div class="vl" style="left:190px;top:653px;height:105px;background:#ececec"></div><div class="vl" style="left:250px;top:408px;height:244px;background:#edf0f3"></div><div class="vl" style="left:250px;top:653px;height:105px;background:#ececec"></div><div class="vl" style="left:310px;top:408px;height:351px;background:#6b6b6b"></div><div class="vl" style="left:370px;top:408px;height:244px;background:#edf0f3"></div><div class="vl" style="left:370px;top:653px;height:105px;background:#ececec"></div><div class="vl" style="left:430px;top:408px;height:244px;background:#edf0f3"></div><div class="vl" style="left:430px;top:653px;height:105px;background:#ececec"></div><div class="vl" style="left:490px;top:408px;height:244px;background:#edf0f3"></div><div class="vl" style="left:490px;top:653px;height:105px;background:#ececec"></div><div class="vl" style="left:550px;top:408px;height:351px;background:#6b6b6b"></div><div class="vl" style="left:610px;top:408px;height:244px;background:#edf0f3"></div><div class="vl" style="left:610px;top:653px;height:105px;background:#ececec"></div><div class="vl" style="left:670px;top:408px;height:244px;background:#edf0f3"></div><div class="vl" style="left:670px;top:653px;height:105px;background:#ececec"></div><div class="vl" style="left:730px;top:408px;height:244px;background:#edf0f3"></div><div class="vl" style="left:730px;top:653px;height:105px;background:#ececec"></div><div class="vl" style="left:790px;top:408px;height:351px;background:#6b6b6b"></div><div class="vl" style="left:850px;top:408px;height:244px;background:#edf0f3"></div><div class="vl" style="left:850px;top:653px;height:105px;background:#ececec"></div><div class="vl" style="left:911px;top:408px;height:244px;background:#edf0f3"></div><div class="vl" style="left:911px;top:653px;height:105px;background:#ececec"></div><div class="vl" style="left:971px;top:408px;height:244px;background:#edf0f3"></div><div class="vl" style="left:971px;top:653px;height:105px;background:#ececec"></div><div class="vl" style="left:1032px;top:408px;height:351px;background:#6b6b6b"></div><div class="vl" style="left:1092px;top:408px;height:244px;background:#edf0f3"></div><div class="vl" style="left:1092px;top:653px;height:105px;background:#ececec"></div><div class="vl" style="left:1152px;top:408px;height:244px;background:#edf0f3"></div><div class="vl" style="left:1152px;top:653px;height:105px;background:#ececec"></div><div class="vl" style="left:1212px;top:408px;height:244px;background:#edf0f3"></div><div class="vl" style="left:1212px;top:653px;height:105px;background:#ececec"></div><div class="vl" style="left:1272px;top:408px;height:351px;background:#6b6b6b"></div><div class="vl" style="left:1332px;top:408px;height:244px;background:#edf0f3"></div><div class="vl" style="left:1332px;top:653px;height:105px;background:#ececec"></div><div class="vl" style="left:1392px;top:408px;height:244px;background:#edf0f3"></div><div class="vl" style="left:1392px;top:653px;height:105px;background:#ececec"></div><div class="vl" style="left:1453px;top:408px;height:244px;background:#edf0f3"></div><div class="vl" style="left:1453px;top:653px;height:105px;background:#ececec"></div><div class="vl" style="left:1513px;top:408px;height:351px;background:#6b6b6b"></div><div class="vl" style="left:1573px;top:408px;height:244px;background:#edf0f3"></div><div class="vl" style="left:1573px;top:653px;height:105px;background:#ececec"></div><div class="vl" style="left:1633px;top:408px;height:244px;background:#edf0f3"></div><div class="vl" style="left:1633px;top:653px;height:105px;background:#ececec"></div><div class="vl" style="left:1693px;top:408px;height:244px;background:#edf0f3"></div><div class="vl" style="left:1693px;top:653px;height:105px;background:#ececec"></div>
</div></body></html>
